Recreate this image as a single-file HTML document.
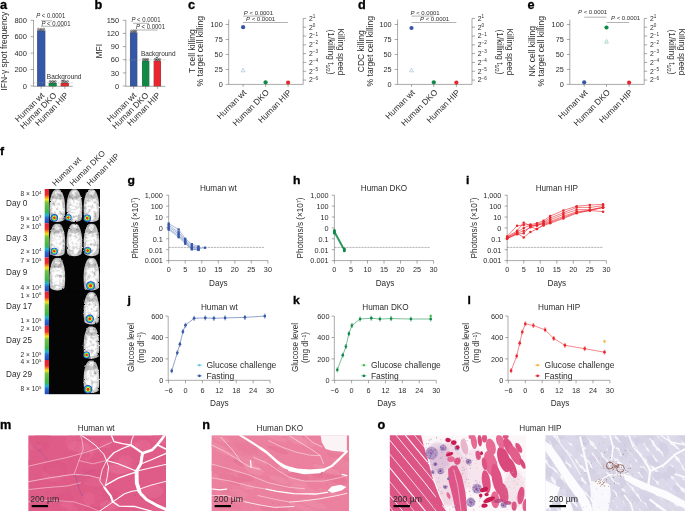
<!DOCTYPE html>
<html><head><meta charset="utf-8"><title>Figure</title>
<style>
html,body{margin:0;padding:0;background:#fff;}
body{width:685px;height:511px;overflow:hidden;font-family:"Liberation Sans",sans-serif;}
svg{display:block;font-family:"Liberation Sans",sans-serif;will-change:transform;}
</style></head><body>
<svg width="685" height="511" viewBox="0 0 685 511">
<rect width="685" height="511" fill="#fff"/>
<text transform="translate(0 9.2) scale(1.06 1)" font-size="12.0" text-anchor="start" fill="#000" font-weight="bold" stroke="#000" stroke-width="0.3">a</text>
<text transform="translate(7.0 51.2) rotate(-90)" font-size="8.5" text-anchor="middle" fill="#2d2d2d">IFN-&#947; spot frequency</text>
<line x1="30.5" y1="20.3" x2="33.5" y2="20.3" stroke="#555" stroke-width="0.5"/>
<text transform="translate(26.9 22.900000000000002)" font-size="7.5" text-anchor="end" fill="#2d2d2d">800</text>
<line x1="30.5" y1="36.7" x2="33.5" y2="36.7" stroke="#555" stroke-width="0.5"/>
<text transform="translate(26.9 39.300000000000004)" font-size="7.5" text-anchor="end" fill="#2d2d2d">600</text>
<line x1="30.5" y1="53.1" x2="33.5" y2="53.1" stroke="#555" stroke-width="0.5"/>
<text transform="translate(26.9 55.7)" font-size="7.5" text-anchor="end" fill="#2d2d2d">400</text>
<line x1="30.5" y1="69.5" x2="33.5" y2="69.5" stroke="#555" stroke-width="0.5"/>
<text transform="translate(26.9 72.1)" font-size="7.5" text-anchor="end" fill="#2d2d2d">200</text>
<line x1="30.5" y1="86" x2="33.5" y2="86" stroke="#555" stroke-width="0.5"/>
<text transform="translate(26.9 88.6)" font-size="7.5" text-anchor="end" fill="#2d2d2d">0</text>
<line x1="33.5" y1="20" x2="33.5" y2="86.3" stroke="#555" stroke-width="0.5"/>
<line x1="33.5" y1="86.3" x2="72.7" y2="86.3" stroke="#555" stroke-width="0.5"/>
<rect x="37.2" y="30.8" width="7.899999999999999" height="55.3" fill="#3557a7" stroke="#2a2a2a" stroke-width="0.25"/>
<line x1="41.150000000000006" y1="86.3" x2="41.150000000000006" y2="88.8" stroke="#555" stroke-width="0.5"/>
<rect x="48.9" y="83" width="7.700000000000003" height="3.0999999999999943" fill="#0e8a46" stroke="#2a2a2a" stroke-width="0.25"/>
<line x1="52.75" y1="86.3" x2="52.75" y2="88.8" stroke="#555" stroke-width="0.5"/>
<rect x="60.9" y="83" width="7.899999999999999" height="3.0999999999999943" fill="#e8262d" stroke="#2a2a2a" stroke-width="0.25"/>
<line x1="64.85" y1="86.3" x2="64.85" y2="88.8" stroke="#555" stroke-width="0.5"/>
<line x1="33.5" y1="82.8" x2="72.7" y2="82.8" stroke="#999" stroke-width="0.5" stroke-dasharray="1.5 1.2"/>
<circle cx="38.40" cy="29.10" r="0.9" fill="none" stroke="#222" stroke-width="0.5"/>
<circle cx="39.78" cy="30.00" r="0.9" fill="none" stroke="#222" stroke-width="0.5"/>
<circle cx="41.15" cy="29.10" r="0.9" fill="none" stroke="#222" stroke-width="0.5"/>
<circle cx="42.53" cy="30.00" r="0.9" fill="none" stroke="#222" stroke-width="0.5"/>
<circle cx="43.90" cy="29.10" r="0.9" fill="none" stroke="#222" stroke-width="0.5"/>
<circle cx="50.10" cy="81.30" r="0.9" fill="none" stroke="#222" stroke-width="0.5"/>
<circle cx="51.43" cy="82.20" r="0.9" fill="none" stroke="#222" stroke-width="0.5"/>
<circle cx="52.75" cy="81.30" r="0.9" fill="none" stroke="#222" stroke-width="0.5"/>
<circle cx="54.08" cy="82.20" r="0.9" fill="none" stroke="#222" stroke-width="0.5"/>
<circle cx="55.40" cy="81.30" r="0.9" fill="none" stroke="#222" stroke-width="0.5"/>
<circle cx="62.10" cy="81.30" r="0.9" fill="none" stroke="#222" stroke-width="0.5"/>
<circle cx="63.48" cy="82.20" r="0.9" fill="none" stroke="#222" stroke-width="0.5"/>
<circle cx="64.85" cy="81.30" r="0.9" fill="none" stroke="#222" stroke-width="0.5"/>
<circle cx="66.22" cy="82.20" r="0.9" fill="none" stroke="#222" stroke-width="0.5"/>
<circle cx="67.60" cy="81.30" r="0.9" fill="none" stroke="#222" stroke-width="0.5"/>
<text transform="translate(46.8 79.3)" font-size="6.5" text-anchor="start" fill="#2d2d2d">Background</text>
<line x1="41.2" y1="20.8" x2="52.1" y2="20.8" stroke="#666" stroke-width="0.5"/>
<line x1="41.2" y1="26.3" x2="64.4" y2="26.3" stroke="#666" stroke-width="0.5"/>
<text transform="translate(36.2 18) scale(0.88 1)" font-size="6.8" text-anchor="start" fill="#2d2d2d"><tspan font-style="italic">P</tspan> &lt; 0.0001</text>
<text transform="translate(41.4 25.9) scale(0.88 1)" font-size="6.8" text-anchor="start" fill="#2d2d2d"><tspan font-style="italic">P</tspan> &lt; 0.0001</text>
<text transform="translate(45 95.9) rotate(-45)" font-size="8.4" text-anchor="end" fill="#2d2d2d">Human wt</text>
<text transform="translate(57 95.9) rotate(-45)" font-size="8.4" text-anchor="end" fill="#2d2d2d">Human DKO</text>
<text transform="translate(69 95.9) rotate(-45)" font-size="8.4" text-anchor="end" fill="#2d2d2d">Human HIP</text>
<text transform="translate(94.5 9.2) scale(1.06 1)" font-size="12.0" text-anchor="start" fill="#000" font-weight="bold" stroke="#000" stroke-width="0.3">b</text>
<text transform="translate(102.0 51.2) rotate(-90)" font-size="8.5" text-anchor="middle" fill="#2d2d2d">MFI</text>
<line x1="122.8" y1="20.3" x2="125.8" y2="20.3" stroke="#555" stroke-width="0.5"/>
<text transform="translate(119.2 22.900000000000002)" font-size="7.5" text-anchor="end" fill="#2d2d2d">150</text>
<line x1="122.8" y1="33.4" x2="125.8" y2="33.4" stroke="#555" stroke-width="0.5"/>
<text transform="translate(119.2 36.0)" font-size="7.5" text-anchor="end" fill="#2d2d2d">120</text>
<line x1="122.8" y1="46.6" x2="125.8" y2="46.6" stroke="#555" stroke-width="0.5"/>
<text transform="translate(119.2 49.2)" font-size="7.5" text-anchor="end" fill="#2d2d2d">90</text>
<line x1="122.8" y1="59.7" x2="125.8" y2="59.7" stroke="#555" stroke-width="0.5"/>
<text transform="translate(119.2 62.300000000000004)" font-size="7.5" text-anchor="end" fill="#2d2d2d">60</text>
<line x1="122.8" y1="72.9" x2="125.8" y2="72.9" stroke="#555" stroke-width="0.5"/>
<text transform="translate(119.2 75.5)" font-size="7.5" text-anchor="end" fill="#2d2d2d">30</text>
<line x1="122.8" y1="86" x2="125.8" y2="86" stroke="#555" stroke-width="0.5"/>
<text transform="translate(119.2 88.6)" font-size="7.5" text-anchor="end" fill="#2d2d2d">0</text>
<line x1="125.8" y1="20" x2="125.8" y2="86.3" stroke="#555" stroke-width="0.5"/>
<line x1="125.8" y1="86.3" x2="165.2" y2="86.3" stroke="#555" stroke-width="0.5"/>
<rect x="130.1" y="32.6" width="7.0" height="53.49999999999999" fill="#3557a7" stroke="#2a2a2a" stroke-width="0.25"/>
<line x1="133.6" y1="86.3" x2="133.6" y2="88.8" stroke="#555" stroke-width="0.5"/>
<rect x="142.1" y="60.9" width="7.0" height="25.199999999999996" fill="#0e8a46" stroke="#2a2a2a" stroke-width="0.25"/>
<line x1="145.6" y1="86.3" x2="145.6" y2="88.8" stroke="#555" stroke-width="0.5"/>
<rect x="153.9" y="60.9" width="7.0" height="25.199999999999996" fill="#e8262d" stroke="#2a2a2a" stroke-width="0.25"/>
<line x1="157.4" y1="86.3" x2="157.4" y2="88.8" stroke="#555" stroke-width="0.5"/>
<line x1="125.8" y1="59.9" x2="165.2" y2="59.9" stroke="#999" stroke-width="0.5" stroke-dasharray="1.5 1.2"/>
<circle cx="131.30" cy="30.90" r="0.9" fill="none" stroke="#222" stroke-width="0.5"/>
<circle cx="132.45" cy="31.80" r="0.9" fill="none" stroke="#222" stroke-width="0.5"/>
<circle cx="133.60" cy="30.90" r="0.9" fill="none" stroke="#222" stroke-width="0.5"/>
<circle cx="134.75" cy="31.80" r="0.9" fill="none" stroke="#222" stroke-width="0.5"/>
<circle cx="135.90" cy="30.90" r="0.9" fill="none" stroke="#222" stroke-width="0.5"/>
<circle cx="143.30" cy="59.20" r="0.9" fill="none" stroke="#222" stroke-width="0.5"/>
<circle cx="144.45" cy="60.10" r="0.9" fill="none" stroke="#222" stroke-width="0.5"/>
<circle cx="145.60" cy="59.20" r="0.9" fill="none" stroke="#222" stroke-width="0.5"/>
<circle cx="146.75" cy="60.10" r="0.9" fill="none" stroke="#222" stroke-width="0.5"/>
<circle cx="147.90" cy="59.20" r="0.9" fill="none" stroke="#222" stroke-width="0.5"/>
<circle cx="155.10" cy="59.20" r="0.9" fill="none" stroke="#222" stroke-width="0.5"/>
<circle cx="156.25" cy="60.10" r="0.9" fill="none" stroke="#222" stroke-width="0.5"/>
<circle cx="157.40" cy="59.20" r="0.9" fill="none" stroke="#222" stroke-width="0.5"/>
<circle cx="158.55" cy="60.10" r="0.9" fill="none" stroke="#222" stroke-width="0.5"/>
<circle cx="159.70" cy="59.20" r="0.9" fill="none" stroke="#222" stroke-width="0.5"/>
<text transform="translate(140.9 56.2)" font-size="6.5" text-anchor="start" fill="#2d2d2d">Background</text>
<line x1="133" y1="23.3" x2="149" y2="23.3" stroke="#666" stroke-width="0.5"/>
<line x1="133" y1="30" x2="157.7" y2="30" stroke="#666" stroke-width="0.5"/>
<text transform="translate(131.4 21.5) scale(0.88 1)" font-size="6.8" text-anchor="start" fill="#2d2d2d"><tspan font-style="italic">P</tspan> &lt; 0.0001</text>
<text transform="translate(135.9 28.9) scale(0.88 1)" font-size="6.8" text-anchor="start" fill="#2d2d2d"><tspan font-style="italic">P</tspan> &lt; 0.0001</text>
<text transform="translate(137 95.9) rotate(-45)" font-size="8.4" text-anchor="end" fill="#2d2d2d">Human wt</text>
<text transform="translate(149 95.9) rotate(-45)" font-size="8.4" text-anchor="end" fill="#2d2d2d">Human DKO</text>
<text transform="translate(161 95.9) rotate(-45)" font-size="8.4" text-anchor="end" fill="#2d2d2d">Human HIP</text>
<text transform="translate(188 9.2) scale(1.06 1)" font-size="12.0" text-anchor="start" fill="#000" font-weight="bold" stroke="#000" stroke-width="0.3">c</text>
<text transform="translate(194.9 51.2) rotate(-90)" font-size="8.5" text-anchor="middle" fill="#2d2d2d">T cell killing</text>
<text transform="translate(203.0 51.2) rotate(-90)" font-size="8.5" text-anchor="middle" fill="#2d2d2d">% target cell killing</text>
<line x1="225.7" y1="24.5" x2="228.7" y2="24.5" stroke="#555" stroke-width="0.5"/>
<text transform="translate(222.7 27.1)" font-size="7.3" text-anchor="end" fill="#2d2d2d">100</text>
<line x1="225.7" y1="39.475" x2="228.7" y2="39.475" stroke="#555" stroke-width="0.5"/>
<text transform="translate(222.7 42.075)" font-size="7.3" text-anchor="end" fill="#2d2d2d">75</text>
<line x1="225.7" y1="54.45" x2="228.7" y2="54.45" stroke="#555" stroke-width="0.5"/>
<text transform="translate(222.7 57.050000000000004)" font-size="7.3" text-anchor="end" fill="#2d2d2d">50</text>
<line x1="225.7" y1="69.42500000000001" x2="228.7" y2="69.42500000000001" stroke="#555" stroke-width="0.5"/>
<text transform="translate(222.7 72.025)" font-size="7.3" text-anchor="end" fill="#2d2d2d">25</text>
<line x1="225.7" y1="84.4" x2="228.7" y2="84.4" stroke="#555" stroke-width="0.5"/>
<text transform="translate(222.7 87.0)" font-size="7.3" text-anchor="end" fill="#2d2d2d">0</text>
<line x1="228.7" y1="19.5" x2="228.7" y2="84.4" stroke="#555" stroke-width="0.5"/>
<line x1="228.7" y1="84.4" x2="303.2" y2="84.4" stroke="#555" stroke-width="0.5"/>
<line x1="303.2" y1="18.4" x2="303.2" y2="84.4" stroke="#555" stroke-width="0.5"/>
<line x1="303.2" y1="18.4" x2="306.2" y2="18.4" stroke="#555" stroke-width="0.5"/>
<text x="309.0" y="20.80" font-size="6.8" fill="#2d2d2d">2<tspan dy="-2.9" font-size="4.6">1</tspan></text>
<line x1="303.2" y1="27.21" x2="306.2" y2="27.21" stroke="#555" stroke-width="0.5"/>
<text x="309.0" y="29.61" font-size="6.8" fill="#2d2d2d">2<tspan dy="-2.9" font-size="4.6">0</tspan></text>
<line x1="303.2" y1="36.019999999999996" x2="306.2" y2="36.019999999999996" stroke="#555" stroke-width="0.5"/>
<text x="309.0" y="38.42" font-size="6.8" fill="#2d2d2d">2<tspan dy="-2.9" font-size="4.6">&#8722;1</tspan></text>
<line x1="303.2" y1="44.83" x2="306.2" y2="44.83" stroke="#555" stroke-width="0.5"/>
<text x="309.0" y="47.23" font-size="6.8" fill="#2d2d2d">2<tspan dy="-2.9" font-size="4.6">&#8722;2</tspan></text>
<line x1="303.2" y1="53.64" x2="306.2" y2="53.64" stroke="#555" stroke-width="0.5"/>
<text x="309.0" y="56.04" font-size="6.8" fill="#2d2d2d">2<tspan dy="-2.9" font-size="4.6">&#8722;3</tspan></text>
<line x1="303.2" y1="62.45" x2="306.2" y2="62.45" stroke="#555" stroke-width="0.5"/>
<text x="309.0" y="64.85" font-size="6.8" fill="#2d2d2d">2<tspan dy="-2.9" font-size="4.6">&#8722;4</tspan></text>
<line x1="303.2" y1="71.25999999999999" x2="306.2" y2="71.25999999999999" stroke="#555" stroke-width="0.5"/>
<text x="309.0" y="73.66" font-size="6.8" fill="#2d2d2d">2<tspan dy="-2.9" font-size="4.6">&#8722;5</tspan></text>
<line x1="303.2" y1="80.07" x2="306.2" y2="80.07" stroke="#555" stroke-width="0.5"/>
<text x="309.0" y="82.47" font-size="6.8" fill="#2d2d2d">2<tspan dy="-2.9" font-size="4.6">&#8722;6</tspan></text>
<circle cx="243.1" cy="27.2" r="2.1" fill="#3557a7"/>
<line x1="243.1" y1="84.4" x2="243.1" y2="86.9" stroke="#555" stroke-width="0.5"/>
<circle cx="265.6" cy="82.3" r="2.1" fill="#0e8a46"/>
<line x1="265.6" y1="84.4" x2="265.6" y2="86.9" stroke="#555" stroke-width="0.5"/>
<circle cx="288.1" cy="82.6" r="2.1" fill="#e8262d"/>
<line x1="288.1" y1="84.4" x2="288.1" y2="86.9" stroke="#555" stroke-width="0.5"/>
<path d="M241.2,71.8 L245.0,71.8 L243.1,68.2 Z" fill="none" stroke="#7d9ad6" stroke-width="0.45"/>
<line x1="243" y1="16.1" x2="265.6" y2="16.1" stroke="#666" stroke-width="0.5"/>
<line x1="243" y1="22.5" x2="288" y2="22.5" stroke="#666" stroke-width="0.5"/>
<text transform="translate(243.8 14.6) scale(1.0 1)" font-size="6.0" text-anchor="start" fill="#2d2d2d"><tspan font-style="italic">P</tspan> &lt; 0.0001</text>
<text transform="translate(246 21) scale(1.0 1)" font-size="6.0" text-anchor="start" fill="#2d2d2d"><tspan font-style="italic">P</tspan> &lt; 0.0001</text>
<text transform="translate(247 93) rotate(-45)" font-size="8.4" text-anchor="end" fill="#2d2d2d">Human wt</text>
<text transform="translate(269.5 93) rotate(-45)" font-size="8.4" text-anchor="end" fill="#2d2d2d">Human DKO</text>
<text transform="translate(292 93) rotate(-45)" font-size="8.4" text-anchor="end" fill="#2d2d2d">Human HIP</text>
<text transform="translate(338 52) rotate(90)" font-size="8.25" text-anchor="middle" fill="#2d2d2d">Killing speed</text>
<text x="327.5" y="52" font-size="8.25" text-anchor="middle" fill="#2d2d2d" transform="rotate(90 327.5 52)">(1/killing t<tspan dy="1.8" font-size="5.2">1/2</tspan><tspan dy="-1.8">)</tspan></text>
<text transform="translate(358 9.2) scale(1.06 1)" font-size="12.0" text-anchor="start" fill="#000" font-weight="bold" stroke="#000" stroke-width="0.3">d</text>
<text transform="translate(364.4 51.2) rotate(-90)" font-size="8.5" text-anchor="middle" fill="#2d2d2d">CDC killing</text>
<text transform="translate(373.4 51.2) rotate(-90)" font-size="8.5" text-anchor="middle" fill="#2d2d2d">% target cell killing</text>
<line x1="394.6" y1="24.5" x2="397.6" y2="24.5" stroke="#555" stroke-width="0.5"/>
<text transform="translate(391.6 27.1)" font-size="7.3" text-anchor="end" fill="#2d2d2d">100</text>
<line x1="394.6" y1="39.475" x2="397.6" y2="39.475" stroke="#555" stroke-width="0.5"/>
<text transform="translate(391.6 42.075)" font-size="7.3" text-anchor="end" fill="#2d2d2d">75</text>
<line x1="394.6" y1="54.45" x2="397.6" y2="54.45" stroke="#555" stroke-width="0.5"/>
<text transform="translate(391.6 57.050000000000004)" font-size="7.3" text-anchor="end" fill="#2d2d2d">50</text>
<line x1="394.6" y1="69.42500000000001" x2="397.6" y2="69.42500000000001" stroke="#555" stroke-width="0.5"/>
<text transform="translate(391.6 72.025)" font-size="7.3" text-anchor="end" fill="#2d2d2d">25</text>
<line x1="394.6" y1="84.4" x2="397.6" y2="84.4" stroke="#555" stroke-width="0.5"/>
<text transform="translate(391.6 87.0)" font-size="7.3" text-anchor="end" fill="#2d2d2d">0</text>
<line x1="397.6" y1="19.5" x2="397.6" y2="84.4" stroke="#555" stroke-width="0.5"/>
<line x1="397.6" y1="84.4" x2="472" y2="84.4" stroke="#555" stroke-width="0.5"/>
<line x1="472" y1="18.4" x2="472" y2="84.4" stroke="#555" stroke-width="0.5"/>
<line x1="472" y1="18.4" x2="475" y2="18.4" stroke="#555" stroke-width="0.5"/>
<text x="477.8" y="20.80" font-size="6.8" fill="#2d2d2d">2<tspan dy="-2.9" font-size="4.6">1</tspan></text>
<line x1="472" y1="27.21" x2="475" y2="27.21" stroke="#555" stroke-width="0.5"/>
<text x="477.8" y="29.61" font-size="6.8" fill="#2d2d2d">2<tspan dy="-2.9" font-size="4.6">0</tspan></text>
<line x1="472" y1="36.019999999999996" x2="475" y2="36.019999999999996" stroke="#555" stroke-width="0.5"/>
<text x="477.8" y="38.42" font-size="6.8" fill="#2d2d2d">2<tspan dy="-2.9" font-size="4.6">&#8722;1</tspan></text>
<line x1="472" y1="44.83" x2="475" y2="44.83" stroke="#555" stroke-width="0.5"/>
<text x="477.8" y="47.23" font-size="6.8" fill="#2d2d2d">2<tspan dy="-2.9" font-size="4.6">&#8722;2</tspan></text>
<line x1="472" y1="53.64" x2="475" y2="53.64" stroke="#555" stroke-width="0.5"/>
<text x="477.8" y="56.04" font-size="6.8" fill="#2d2d2d">2<tspan dy="-2.9" font-size="4.6">&#8722;3</tspan></text>
<line x1="472" y1="62.45" x2="475" y2="62.45" stroke="#555" stroke-width="0.5"/>
<text x="477.8" y="64.85" font-size="6.8" fill="#2d2d2d">2<tspan dy="-2.9" font-size="4.6">&#8722;4</tspan></text>
<line x1="472" y1="71.25999999999999" x2="475" y2="71.25999999999999" stroke="#555" stroke-width="0.5"/>
<text x="477.8" y="73.66" font-size="6.8" fill="#2d2d2d">2<tspan dy="-2.9" font-size="4.6">&#8722;5</tspan></text>
<line x1="472" y1="80.07" x2="475" y2="80.07" stroke="#555" stroke-width="0.5"/>
<text x="477.8" y="82.47" font-size="6.8" fill="#2d2d2d">2<tspan dy="-2.9" font-size="4.6">&#8722;6</tspan></text>
<circle cx="411.5" cy="28" r="2.1" fill="#3557a7"/>
<line x1="411.5" y1="84.4" x2="411.5" y2="86.9" stroke="#555" stroke-width="0.5"/>
<circle cx="433.8" cy="82.3" r="2.1" fill="#0e8a46"/>
<line x1="433.8" y1="84.4" x2="433.8" y2="86.9" stroke="#555" stroke-width="0.5"/>
<circle cx="456.4" cy="82.6" r="2.1" fill="#e8262d"/>
<line x1="456.4" y1="84.4" x2="456.4" y2="86.9" stroke="#555" stroke-width="0.5"/>
<path d="M409.6,71.8 L413.4,71.8 L411.5,68.2 Z" fill="none" stroke="#7d9ad6" stroke-width="0.45"/>
<line x1="411.5" y1="16.1" x2="433.8" y2="16.1" stroke="#666" stroke-width="0.5"/>
<line x1="411.5" y1="22.5" x2="456.4" y2="22.5" stroke="#666" stroke-width="0.5"/>
<text transform="translate(410.5 14.6) scale(1.0 1)" font-size="6.0" text-anchor="start" fill="#2d2d2d"><tspan font-style="italic">P</tspan> &lt; 0.0001</text>
<text transform="translate(420 21) scale(1.0 1)" font-size="6.0" text-anchor="start" fill="#2d2d2d"><tspan font-style="italic">P</tspan> &lt; 0.0001</text>
<text transform="translate(415.5 93) rotate(-45)" font-size="8.4" text-anchor="end" fill="#2d2d2d">Human wt</text>
<text transform="translate(438 93) rotate(-45)" font-size="8.4" text-anchor="end" fill="#2d2d2d">Human DKO</text>
<text transform="translate(460.5 93) rotate(-45)" font-size="8.4" text-anchor="end" fill="#2d2d2d">Human HIP</text>
<text transform="translate(507 52) rotate(90)" font-size="8.25" text-anchor="middle" fill="#2d2d2d">Killing speed</text>
<text x="496.5" y="52" font-size="8.25" text-anchor="middle" fill="#2d2d2d" transform="rotate(90 496.5 52)">(1/killing t<tspan dy="1.8" font-size="5.2">1/2</tspan><tspan dy="-1.8">)</tspan></text>
<text transform="translate(527.6 9.2) scale(1.06 1)" font-size="12.0" text-anchor="start" fill="#000" font-weight="bold" stroke="#000" stroke-width="0.3">e</text>
<text transform="translate(535.1999999999999 51.2) rotate(-90)" font-size="8.5" text-anchor="middle" fill="#2d2d2d">NK cell killing</text>
<text transform="translate(544.3 51.2) rotate(-90)" font-size="8.5" text-anchor="middle" fill="#2d2d2d">% target cell killing</text>
<line x1="566.8" y1="24.5" x2="569.8" y2="24.5" stroke="#555" stroke-width="0.5"/>
<text transform="translate(563.8 27.1)" font-size="7.3" text-anchor="end" fill="#2d2d2d">100</text>
<line x1="566.8" y1="39.475" x2="569.8" y2="39.475" stroke="#555" stroke-width="0.5"/>
<text transform="translate(563.8 42.075)" font-size="7.3" text-anchor="end" fill="#2d2d2d">75</text>
<line x1="566.8" y1="54.45" x2="569.8" y2="54.45" stroke="#555" stroke-width="0.5"/>
<text transform="translate(563.8 57.050000000000004)" font-size="7.3" text-anchor="end" fill="#2d2d2d">50</text>
<line x1="566.8" y1="69.42500000000001" x2="569.8" y2="69.42500000000001" stroke="#555" stroke-width="0.5"/>
<text transform="translate(563.8 72.025)" font-size="7.3" text-anchor="end" fill="#2d2d2d">25</text>
<line x1="566.8" y1="84.4" x2="569.8" y2="84.4" stroke="#555" stroke-width="0.5"/>
<text transform="translate(563.8 87.0)" font-size="7.3" text-anchor="end" fill="#2d2d2d">0</text>
<line x1="569.8" y1="19.5" x2="569.8" y2="84.4" stroke="#555" stroke-width="0.5"/>
<line x1="569.8" y1="84.4" x2="644.2" y2="84.4" stroke="#555" stroke-width="0.5"/>
<line x1="644.2" y1="18.4" x2="644.2" y2="84.4" stroke="#555" stroke-width="0.5"/>
<line x1="644.2" y1="18.4" x2="647.2" y2="18.4" stroke="#555" stroke-width="0.5"/>
<text x="650.0" y="20.80" font-size="6.8" fill="#2d2d2d">2<tspan dy="-2.9" font-size="4.6">1</tspan></text>
<line x1="644.2" y1="27.21" x2="647.2" y2="27.21" stroke="#555" stroke-width="0.5"/>
<text x="650.0" y="29.61" font-size="6.8" fill="#2d2d2d">2<tspan dy="-2.9" font-size="4.6">0</tspan></text>
<line x1="644.2" y1="36.019999999999996" x2="647.2" y2="36.019999999999996" stroke="#555" stroke-width="0.5"/>
<text x="650.0" y="38.42" font-size="6.8" fill="#2d2d2d">2<tspan dy="-2.9" font-size="4.6">&#8722;1</tspan></text>
<line x1="644.2" y1="44.83" x2="647.2" y2="44.83" stroke="#555" stroke-width="0.5"/>
<text x="650.0" y="47.23" font-size="6.8" fill="#2d2d2d">2<tspan dy="-2.9" font-size="4.6">&#8722;2</tspan></text>
<line x1="644.2" y1="53.64" x2="647.2" y2="53.64" stroke="#555" stroke-width="0.5"/>
<text x="650.0" y="56.04" font-size="6.8" fill="#2d2d2d">2<tspan dy="-2.9" font-size="4.6">&#8722;3</tspan></text>
<line x1="644.2" y1="62.45" x2="647.2" y2="62.45" stroke="#555" stroke-width="0.5"/>
<text x="650.0" y="64.85" font-size="6.8" fill="#2d2d2d">2<tspan dy="-2.9" font-size="4.6">&#8722;4</tspan></text>
<line x1="644.2" y1="71.25999999999999" x2="647.2" y2="71.25999999999999" stroke="#555" stroke-width="0.5"/>
<text x="650.0" y="73.66" font-size="6.8" fill="#2d2d2d">2<tspan dy="-2.9" font-size="4.6">&#8722;5</tspan></text>
<line x1="644.2" y1="80.07" x2="647.2" y2="80.07" stroke="#555" stroke-width="0.5"/>
<text x="650.0" y="82.47" font-size="6.8" fill="#2d2d2d">2<tspan dy="-2.9" font-size="4.6">&#8722;6</tspan></text>
<circle cx="584.2" cy="82.3" r="2.1" fill="#3557a7"/>
<line x1="584.2" y1="84.4" x2="584.2" y2="86.9" stroke="#555" stroke-width="0.5"/>
<circle cx="606.5" cy="27.5" r="2.1" fill="#0e8a46"/>
<line x1="606.5" y1="84.4" x2="606.5" y2="86.9" stroke="#555" stroke-width="0.5"/>
<circle cx="629.1" cy="82.6" r="2.1" fill="#e8262d"/>
<line x1="629.1" y1="84.4" x2="629.1" y2="86.9" stroke="#555" stroke-width="0.5"/>
<path d="M604.6,43.1 L608.4,43.1 L606.5,39.5 Z" fill="none" stroke="#4db37e" stroke-width="0.45"/>
<line x1="584.2" y1="17.2" x2="606.5" y2="17.2" stroke="#666" stroke-width="0.5"/>
<line x1="606.5" y1="22.5" x2="629.1" y2="22.5" stroke="#666" stroke-width="0.5"/>
<text transform="translate(578 14.2) scale(1.0 1)" font-size="6.0" text-anchor="start" fill="#2d2d2d"><tspan font-style="italic">P</tspan> &lt; 0.0001</text>
<text transform="translate(611 20.3) scale(1.0 1)" font-size="6.0" text-anchor="start" fill="#2d2d2d"><tspan font-style="italic">P</tspan> &lt; 0.0001</text>
<text transform="translate(588.2 93) rotate(-45)" font-size="8.4" text-anchor="end" fill="#2d2d2d">Human wt</text>
<text transform="translate(610.7 93) rotate(-45)" font-size="8.4" text-anchor="end" fill="#2d2d2d">Human DKO</text>
<text transform="translate(633.2 93) rotate(-45)" font-size="8.4" text-anchor="end" fill="#2d2d2d">Human HIP</text>
<text transform="translate(679.2 52) rotate(90)" font-size="8.25" text-anchor="middle" fill="#2d2d2d">Killing speed</text>
<text x="669" y="52" font-size="8.25" text-anchor="middle" fill="#2d2d2d" transform="rotate(90 669 52)">(1/killing t<tspan dy="1.8" font-size="5.2">1/2</tspan><tspan dy="-1.8">)</tspan></text>
<defs>
<linearGradient id="cbar" x1="0" y1="0" x2="0" y2="1">
<stop offset="0" stop-color="#e61f3a"/><stop offset="0.17" stop-color="#ec2c2c"/>
<stop offset="0.24" stop-color="#f68b1f"/><stop offset="0.31" stop-color="#f0e21a"/>
<stop offset="0.40" stop-color="#74c043"/><stop offset="0.66" stop-color="#3bb54a"/>
<stop offset="0.76" stop-color="#22b4d8"/><stop offset="0.85" stop-color="#2a68cf"/>
<stop offset="1" stop-color="#2548b8"/>
</linearGradient>
<radialGradient id="mouseg" cx="0.5" cy="0.55" r="0.66">
<stop offset="0" stop-color="#ffffff"/><stop offset="0.5" stop-color="#ececec"/>
<stop offset="0.8" stop-color="#c4c4c4"/><stop offset="1" stop-color="#7a7a7a"/>
</radialGradient>
<radialGradient id="hot" cx="0.5" cy="0.5" r="0.5">
<stop offset="0" stop-color="#e8202a"/><stop offset="0.26" stop-color="#ee3a24"/>
<stop offset="0.44" stop-color="#f3e616"/><stop offset="0.60" stop-color="#4fc04a"/>
<stop offset="0.74" stop-color="#22c1dc"/><stop offset="0.86" stop-color="#2a55d0"/>
<stop offset="1" stop-color="#2a3fc0"/>
</radialGradient>
<filter id="mtex0" x="-10%" y="-10%" width="120%" height="120%">
<feGaussianBlur in="SourceGraphic" stdDeviation="0.5" result="b"/>
<feTurbulence type="fractalNoise" baseFrequency="0.32" numOctaves="2" seed="3" result="n"/>
<feDisplacementMap in="b" in2="n" scale="2.2" xChannelSelector="R" yChannelSelector="G" result="d"/>
<feColorMatrix in="n" type="matrix" values="0 0 0 0 0  0 0 0 0 0  0 0 0 0 0  1.3 0 0 0 -0.56" result="na"/>
<feComposite in="na" in2="d" operator="in" result="shade"/>
<feMerge><feMergeNode in="d"/><feMergeNode in="shade"/></feMerge>
</filter>
<filter id="mtex1" x="-10%" y="-10%" width="120%" height="120%">
<feGaussianBlur in="SourceGraphic" stdDeviation="0.5" result="b"/>
<feTurbulence type="fractalNoise" baseFrequency="0.32" numOctaves="2" seed="8" result="n"/>
<feDisplacementMap in="b" in2="n" scale="2.2" xChannelSelector="R" yChannelSelector="G" result="d"/>
<feColorMatrix in="n" type="matrix" values="0 0 0 0 0  0 0 0 0 0  0 0 0 0 0  1.3 0 0 0 -0.56" result="na"/>
<feComposite in="na" in2="d" operator="in" result="shade"/>
<feMerge><feMergeNode in="d"/><feMergeNode in="shade"/></feMerge>
</filter>
<filter id="mtex2" x="-10%" y="-10%" width="120%" height="120%">
<feGaussianBlur in="SourceGraphic" stdDeviation="0.5" result="b"/>
<feTurbulence type="fractalNoise" baseFrequency="0.32" numOctaves="2" seed="14" result="n"/>
<feDisplacementMap in="b" in2="n" scale="2.2" xChannelSelector="R" yChannelSelector="G" result="d"/>
<feColorMatrix in="n" type="matrix" values="0 0 0 0 0  0 0 0 0 0  0 0 0 0 0  1.3 0 0 0 -0.56" result="na"/>
<feComposite in="na" in2="d" operator="in" result="shade"/>
<feMerge><feMergeNode in="d"/><feMergeNode in="shade"/></feMerge>
</filter>
<filter id="mblur" x="-10%" y="-10%" width="120%" height="120%"><feGaussianBlur stdDeviation="0.55"/></filter>
<filter id="hblur" x="-20%" y="-20%" width="140%" height="140%"><feGaussianBlur stdDeviation="0.3"/></filter>
</defs>
<text transform="translate(0 155.2) scale(1.06 1)" font-size="11.5" font-weight="bold" fill="#000" stroke="#000" stroke-width="0.3">f</text>
<rect x="48.8" y="189.0" width="51.2" height="205.2" fill="#050505"/>
<rect x="44.7" y="189.00" width="4.3" height="34.20" fill="url(#cbar)"/>
<rect x="44.7" y="223.20" width="4.3" height="34.20" fill="url(#cbar)"/>
<rect x="44.7" y="257.40" width="4.3" height="34.20" fill="url(#cbar)"/>
<rect x="44.7" y="291.60" width="4.3" height="34.20" fill="url(#cbar)"/>
<rect x="44.7" y="325.80" width="4.3" height="34.20" fill="url(#cbar)"/>
<rect x="44.7" y="360.00" width="4.3" height="34.20" fill="url(#cbar)"/>
<clipPath id="cf"><rect x="48.8" y="189.0" width="51.2" height="205.2"/></clipPath><g clip-path="url(#cf)">
<g filter="url(#mtex0)">
<path d="M54.73,189.80 C56.13,189.20 58.53,189.20 59.93,189.80 C61.93,191.00 62.93,194.00 64.23,198.50 C65.43,204.00 65.43,214.00 64.43,219.50 C62.33,222.80 52.33,222.80 50.23,219.50 C49.23,214.00 49.23,204.00 50.43,198.50 C51.73,194.00 52.73,191.00 54.73,189.80 Z" fill="url(#mouseg)"/>
<ellipse cx="57.33" cy="209.00" rx="5.4" ry="11" fill="#fff" opacity="0.9"/>
<ellipse cx="57.33" cy="196.50" rx="5.0" ry="3.0" fill="#8c8c8c" opacity="0.4"/>
<ellipse cx="57.33" cy="193.20" rx="2.4" ry="2.6" fill="#fff" opacity="0.7"/>
</g>
<g filter="url(#mtex1)">
<path d="M71.80,189.80 C73.20,189.20 75.60,189.20 77.00,189.80 C79.00,191.00 80.00,194.00 81.30,198.50 C82.50,204.00 82.50,214.00 81.50,219.50 C79.40,222.80 69.40,222.80 67.30,219.50 C66.30,214.00 66.30,204.00 67.50,198.50 C68.80,194.00 69.80,191.00 71.80,189.80 Z" fill="url(#mouseg)"/>
<ellipse cx="74.40" cy="209.00" rx="5.4" ry="11" fill="#fff" opacity="0.9"/>
<ellipse cx="74.40" cy="196.50" rx="5.0" ry="3.0" fill="#8c8c8c" opacity="0.4"/>
<ellipse cx="74.40" cy="193.20" rx="2.4" ry="2.6" fill="#fff" opacity="0.7"/>
</g>
<g filter="url(#mtex2)">
<path d="M88.87,189.80 C90.27,189.20 92.67,189.20 94.07,189.80 C96.07,191.00 97.07,194.00 98.37,198.50 C99.57,204.00 99.57,214.00 98.57,219.50 C96.47,222.80 86.47,222.80 84.37,219.50 C83.37,214.00 83.37,204.00 84.57,198.50 C85.87,194.00 86.87,191.00 88.87,189.80 Z" fill="url(#mouseg)"/>
<ellipse cx="91.47" cy="209.00" rx="5.4" ry="11" fill="#fff" opacity="0.9"/>
<ellipse cx="91.47" cy="196.50" rx="5.0" ry="3.0" fill="#8c8c8c" opacity="0.4"/>
<ellipse cx="91.47" cy="193.20" rx="2.4" ry="2.6" fill="#fff" opacity="0.7"/>
</g>
<g filter="url(#mtex0)">
<path d="M54.73,224.00 C56.13,223.40 58.53,223.40 59.93,224.00 C61.93,225.20 62.93,228.20 64.23,232.70 C65.43,238.20 65.43,248.20 64.43,253.70 C62.33,257.00 52.33,257.00 50.23,253.70 C49.23,248.20 49.23,238.20 50.43,232.70 C51.73,228.20 52.73,225.20 54.73,224.00 Z" fill="url(#mouseg)"/>
<ellipse cx="57.33" cy="243.20" rx="5.4" ry="11" fill="#fff" opacity="0.9"/>
<ellipse cx="57.33" cy="230.70" rx="5.0" ry="3.0" fill="#8c8c8c" opacity="0.4"/>
<ellipse cx="57.33" cy="227.40" rx="2.4" ry="2.6" fill="#fff" opacity="0.7"/>
</g>
<g filter="url(#mtex1)">
<path d="M71.80,224.00 C73.20,223.40 75.60,223.40 77.00,224.00 C79.00,225.20 80.00,228.20 81.30,232.70 C82.50,238.20 82.50,248.20 81.50,253.70 C79.40,257.00 69.40,257.00 67.30,253.70 C66.30,248.20 66.30,238.20 67.50,232.70 C68.80,228.20 69.80,225.20 71.80,224.00 Z" fill="url(#mouseg)"/>
<ellipse cx="74.40" cy="243.20" rx="5.4" ry="11" fill="#fff" opacity="0.9"/>
<ellipse cx="74.40" cy="230.70" rx="5.0" ry="3.0" fill="#8c8c8c" opacity="0.4"/>
<ellipse cx="74.40" cy="227.40" rx="2.4" ry="2.6" fill="#fff" opacity="0.7"/>
</g>
<g filter="url(#mtex2)">
<path d="M88.87,224.00 C90.27,223.40 92.67,223.40 94.07,224.00 C96.07,225.20 97.07,228.20 98.37,232.70 C99.57,238.20 99.57,248.20 98.57,253.70 C96.47,257.00 86.47,257.00 84.37,253.70 C83.37,248.20 83.37,238.20 84.57,232.70 C85.87,228.20 86.87,225.20 88.87,224.00 Z" fill="url(#mouseg)"/>
<ellipse cx="91.47" cy="243.20" rx="5.4" ry="11" fill="#fff" opacity="0.9"/>
<ellipse cx="91.47" cy="230.70" rx="5.0" ry="3.0" fill="#8c8c8c" opacity="0.4"/>
<ellipse cx="91.47" cy="227.40" rx="2.4" ry="2.6" fill="#fff" opacity="0.7"/>
</g>
<g filter="url(#mtex0)">
<path d="M54.73,258.20 C56.13,257.60 58.53,257.60 59.93,258.20 C61.93,259.40 62.93,262.40 64.23,266.90 C65.43,272.40 65.43,282.40 64.43,287.90 C62.33,291.20 52.33,291.20 50.23,287.90 C49.23,282.40 49.23,272.40 50.43,266.90 C51.73,262.40 52.73,259.40 54.73,258.20 Z" fill="url(#mouseg)"/>
<ellipse cx="57.33" cy="277.40" rx="5.4" ry="11" fill="#fff" opacity="0.9"/>
<ellipse cx="57.33" cy="264.90" rx="5.0" ry="3.0" fill="#8c8c8c" opacity="0.4"/>
<ellipse cx="57.33" cy="261.60" rx="2.4" ry="2.6" fill="#fff" opacity="0.7"/>
</g>
<g filter="url(#mtex2)">
<path d="M88.87,258.20 C90.27,257.60 92.67,257.60 94.07,258.20 C96.07,259.40 97.07,262.40 98.37,266.90 C99.57,272.40 99.57,282.40 98.57,287.90 C96.47,291.20 86.47,291.20 84.37,287.90 C83.37,282.40 83.37,272.40 84.57,266.90 C85.87,262.40 86.87,259.40 88.87,258.20 Z" fill="url(#mouseg)"/>
<ellipse cx="91.47" cy="277.40" rx="5.4" ry="11" fill="#fff" opacity="0.9"/>
<ellipse cx="91.47" cy="264.90" rx="5.0" ry="3.0" fill="#8c8c8c" opacity="0.4"/>
<ellipse cx="91.47" cy="261.60" rx="2.4" ry="2.6" fill="#fff" opacity="0.7"/>
</g>
<g filter="url(#mtex2)">
<path d="M88.87,292.40 C90.27,291.80 92.67,291.80 94.07,292.40 C96.07,293.60 97.07,296.60 98.37,301.10 C99.57,306.60 99.57,316.60 98.57,322.10 C96.47,325.40 86.47,325.40 84.37,322.10 C83.37,316.60 83.37,306.60 84.57,301.10 C85.87,296.60 86.87,293.60 88.87,292.40 Z" fill="url(#mouseg)"/>
<ellipse cx="91.47" cy="311.60" rx="5.4" ry="11" fill="#fff" opacity="0.9"/>
<ellipse cx="91.47" cy="299.10" rx="5.0" ry="3.0" fill="#8c8c8c" opacity="0.4"/>
<ellipse cx="91.47" cy="295.80" rx="2.4" ry="2.6" fill="#fff" opacity="0.7"/>
</g>
<g filter="url(#mtex2)">
<path d="M88.87,326.60 C90.27,326.00 92.67,326.00 94.07,326.60 C96.07,327.80 97.07,330.80 98.37,335.30 C99.57,340.80 99.57,350.80 98.57,356.30 C96.47,359.60 86.47,359.60 84.37,356.30 C83.37,350.80 83.37,340.80 84.57,335.30 C85.87,330.80 86.87,327.80 88.87,326.60 Z" fill="url(#mouseg)"/>
<ellipse cx="91.47" cy="345.80" rx="5.4" ry="11" fill="#fff" opacity="0.9"/>
<ellipse cx="91.47" cy="333.30" rx="5.0" ry="3.0" fill="#8c8c8c" opacity="0.4"/>
<ellipse cx="91.47" cy="330.00" rx="2.4" ry="2.6" fill="#fff" opacity="0.7"/>
</g>
<g filter="url(#mtex2)">
<path d="M88.87,360.80 C90.27,360.20 92.67,360.20 94.07,360.80 C96.07,362.00 97.07,365.00 98.37,369.50 C99.57,375.00 99.57,385.00 98.57,390.50 C96.47,393.80 86.47,393.80 84.37,390.50 C83.37,385.00 83.37,375.00 84.57,369.50 C85.87,365.00 86.87,362.00 88.87,360.80 Z" fill="url(#mouseg)"/>
<ellipse cx="91.47" cy="380.00" rx="5.4" ry="11" fill="#fff" opacity="0.9"/>
<ellipse cx="91.47" cy="367.50" rx="5.0" ry="3.0" fill="#8c8c8c" opacity="0.4"/>
<ellipse cx="91.47" cy="364.20" rx="2.4" ry="2.6" fill="#fff" opacity="0.7"/>
</g>
<rect x="48.8" y="222.70" width="51.2" height="1" fill="#050505" opacity="0.8"/>
<rect x="48.8" y="256.90" width="51.2" height="1" fill="#050505" opacity="0.8"/>
<rect x="48.8" y="291.10" width="51.2" height="1" fill="#050505" opacity="0.8"/>
<rect x="48.8" y="325.30" width="51.2" height="1" fill="#050505" opacity="0.8"/>
<rect x="48.8" y="359.50" width="51.2" height="1" fill="#050505" opacity="0.8"/>
</g>
<circle cx="54.4" cy="217.8" r="3.7" fill="url(#hot)" filter="url(#hblur)"/>
<circle cx="68.3" cy="217.6" r="3.3" fill="url(#hot)" filter="url(#hblur)"/>
<circle cx="87.2" cy="218.2" r="3.8" fill="url(#hot)" filter="url(#hblur)"/>
<circle cx="54.3" cy="251.2" r="3.5" fill="url(#hot)" filter="url(#hblur)"/>
<circle cx="87.6" cy="250.6" r="3.7" fill="url(#hot)" filter="url(#hblur)"/>
<circle cx="90.6" cy="285.8" r="4.5" fill="url(#hot)" filter="url(#hblur)"/>
<circle cx="89.8" cy="318.8" r="4.2" fill="url(#hot)" filter="url(#hblur)"/>
<circle cx="86.6" cy="355" r="3.5" fill="url(#hot)" filter="url(#hblur)"/>
<circle cx="88" cy="389.3" r="4.2" fill="url(#hot)" filter="url(#hblur)"/>
<text transform="translate(41.5 196.3)" font-size="6.6" text-anchor="end" fill="#2d2d2d">8 &#215; 10<tspan dy="-2.5" font-size="4.4">4</tspan></text>
<text transform="translate(41.5 220.9)" font-size="6.6" text-anchor="end" fill="#2d2d2d">9 &#215; 10<tspan dy="-2.5" font-size="4.4">3</tspan></text>
<text transform="translate(6 206.4)" font-size="8.2" text-anchor="start" fill="#2d2d2d">Day 0</text>
<text transform="translate(41.5 228.6)" font-size="6.6" text-anchor="end" fill="#2d2d2d">2 &#215; 10<tspan dy="-2.5" font-size="4.4">5</tspan></text>
<text transform="translate(41.5 253.7)" font-size="6.6" text-anchor="end" fill="#2d2d2d">2 &#215; 10<tspan dy="-2.5" font-size="4.4">4</tspan></text>
<text transform="translate(6 240.5)" font-size="8.2" text-anchor="start" fill="#2d2d2d">Day 3</text>
<text transform="translate(41.5 263.1)" font-size="6.6" text-anchor="end" fill="#2d2d2d">7 &#215; 10<tspan dy="-2.5" font-size="4.4">5</tspan></text>
<text transform="translate(41.5 290.1)" font-size="6.6" text-anchor="end" fill="#2d2d2d">4 &#215; 10<tspan dy="-2.5" font-size="4.4">4</tspan></text>
<text transform="translate(6 274.5)" font-size="8.2" text-anchor="start" fill="#2d2d2d">Day 9</text>
<text transform="translate(41.5 297.5)" font-size="6.6" text-anchor="end" fill="#2d2d2d">1 &#215; 10<tspan dy="-2.5" font-size="4.4">6</tspan></text>
<text transform="translate(41.5 323.3)" font-size="6.6" text-anchor="end" fill="#2d2d2d">1 &#215; 10<tspan dy="-2.5" font-size="4.4">5</tspan></text>
<text transform="translate(6 308.5)" font-size="8.2" text-anchor="start" fill="#2d2d2d">Day 17</text>
<text transform="translate(41.5 331.2)" font-size="6.6" text-anchor="end" fill="#2d2d2d">2 &#215; 10<tspan dy="-2.5" font-size="4.4">5</tspan></text>
<text transform="translate(41.5 357.0)" font-size="6.6" text-anchor="end" fill="#2d2d2d">2 &#215; 10<tspan dy="-2.5" font-size="4.4">5</tspan></text>
<text transform="translate(6 342.5)" font-size="8.2" text-anchor="start" fill="#2d2d2d">Day 25</text>
<text transform="translate(41.5 364.3)" font-size="6.6" text-anchor="end" fill="#2d2d2d">4 &#215; 10<tspan dy="-2.5" font-size="4.4">5</tspan></text>
<text transform="translate(41.5 391.3)" font-size="6.6" text-anchor="end" fill="#2d2d2d">8 &#215; 10<tspan dy="-2.5" font-size="4.4">5</tspan></text>
<text transform="translate(6 376.8)" font-size="8.2" text-anchor="start" fill="#2d2d2d">Day 29</text>
<text transform="translate(55.5 186.5) rotate(-45)" font-size="8.2" text-anchor="start" fill="#2d2d2d">Human wt</text>
<text transform="translate(73.0 186.5) rotate(-45)" font-size="8.2" text-anchor="start" fill="#2d2d2d">Human DKO</text>
<text transform="translate(90.0 186.5) rotate(-45)" font-size="8.2" text-anchor="start" fill="#2d2d2d">Human HIP</text>
<text transform="translate(127.5 184) scale(1.06 1)" font-size="11.5" font-weight="bold" fill="#000" stroke="#000" stroke-width="0.3">g</text>
<text transform="translate(218.29999999999998 190.6)" font-size="8.2" text-anchor="middle" fill="#2d2d2d">Human wt</text>
<line x1="168.70" y1="195.20" x2="168.70" y2="260.60" stroke="#555" stroke-width="0.5"/>
<line x1="168.70" y1="260.60" x2="267.90" y2="260.60" stroke="#555" stroke-width="0.5"/>
<line x1="166.10" y1="195.20" x2="168.70" y2="195.20" stroke="#555" stroke-width="0.5"/>
<text transform="translate(162.89999999999998 198.0)" font-size="7.3" text-anchor="end" fill="#2d2d2d">1,000</text>
<line x1="166.10" y1="206.10" x2="168.70" y2="206.10" stroke="#555" stroke-width="0.5"/>
<text transform="translate(162.89999999999998 208.9)" font-size="7.3" text-anchor="end" fill="#2d2d2d">100</text>
<line x1="166.10" y1="217.00" x2="168.70" y2="217.00" stroke="#555" stroke-width="0.5"/>
<text transform="translate(162.89999999999998 219.8)" font-size="7.3" text-anchor="end" fill="#2d2d2d">10</text>
<line x1="166.10" y1="227.90" x2="168.70" y2="227.90" stroke="#555" stroke-width="0.5"/>
<text transform="translate(162.89999999999998 230.70000000000002)" font-size="7.3" text-anchor="end" fill="#2d2d2d">0</text>
<line x1="166.10" y1="238.80" x2="168.70" y2="238.80" stroke="#555" stroke-width="0.5"/>
<text transform="translate(162.89999999999998 241.60000000000002)" font-size="7.3" text-anchor="end" fill="#2d2d2d">0.1</text>
<line x1="166.10" y1="249.70" x2="168.70" y2="249.70" stroke="#555" stroke-width="0.5"/>
<text transform="translate(162.89999999999998 252.50000000000003)" font-size="7.3" text-anchor="end" fill="#2d2d2d">0.01</text>
<line x1="166.10" y1="260.60" x2="168.70" y2="260.60" stroke="#555" stroke-width="0.5"/>
<text transform="translate(162.89999999999998 263.40000000000003)" font-size="7.3" text-anchor="end" fill="#2d2d2d">0.001</text>
<line x1="168.70" y1="260.60" x2="168.70" y2="263.60" stroke="#555" stroke-width="0.5"/>
<text transform="translate(168.7 272.2)" font-size="7.3" text-anchor="middle" fill="#2d2d2d">0</text>
<line x1="185.23" y1="260.60" x2="185.23" y2="263.60" stroke="#555" stroke-width="0.5"/>
<text transform="translate(185.23333333333332 272.2)" font-size="7.3" text-anchor="middle" fill="#2d2d2d">5</text>
<line x1="201.77" y1="260.60" x2="201.77" y2="263.60" stroke="#555" stroke-width="0.5"/>
<text transform="translate(201.76666666666665 272.2)" font-size="7.3" text-anchor="middle" fill="#2d2d2d">10</text>
<line x1="218.30" y1="260.60" x2="218.30" y2="263.60" stroke="#555" stroke-width="0.5"/>
<text transform="translate(218.29999999999998 272.2)" font-size="7.3" text-anchor="middle" fill="#2d2d2d">15</text>
<line x1="234.83" y1="260.60" x2="234.83" y2="263.60" stroke="#555" stroke-width="0.5"/>
<text transform="translate(234.83333333333331 272.2)" font-size="7.3" text-anchor="middle" fill="#2d2d2d">20</text>
<line x1="251.37" y1="260.60" x2="251.37" y2="263.60" stroke="#555" stroke-width="0.5"/>
<text transform="translate(251.36666666666667 272.2)" font-size="7.3" text-anchor="middle" fill="#2d2d2d">25</text>
<line x1="267.90" y1="260.60" x2="267.90" y2="263.60" stroke="#555" stroke-width="0.5"/>
<text transform="translate(267.9 272.2)" font-size="7.3" text-anchor="middle" fill="#2d2d2d">30</text>
<text transform="translate(218.29999999999998 286.0)" font-size="8.2" text-anchor="middle" fill="#2d2d2d">Days</text>
<text transform="translate(137.6 228) rotate(-90)" font-size="8.2" text-anchor="middle" fill="#2d2d2d">Photons/s (&#215;10<tspan dy="-2.6" font-size="5.0">7</tspan><tspan dy="2.6">)</tspan></text>
<line x1="168.70" y1="247.40" x2="264.59" y2="247.40" stroke="#555" stroke-width="0.45" stroke-dasharray="2.2 0.8"/>
<polyline points="168.70,223.54 178.62,229.53 185.23,238.80 191.85,244.25 198.46,246.43" fill="none" stroke="#3557a7" stroke-width="0.42"/>
<rect x="167.55" y="222.39" width="2.3" height="2.3" fill="#3557a7"/>
<rect x="177.47" y="228.38" width="2.3" height="2.3" fill="#3557a7"/>
<rect x="184.08" y="237.65" width="2.3" height="2.3" fill="#3557a7"/>
<rect x="190.70" y="243.10" width="2.3" height="2.3" fill="#3557a7"/>
<rect x="197.31" y="245.28" width="2.3" height="2.3" fill="#3557a7"/>
<polyline points="168.70,225.18 178.62,232.26 185.23,240.44 191.85,245.89 198.46,247.52" fill="none" stroke="#3557a7" stroke-width="0.42"/>
<rect x="167.55" y="224.03" width="2.3" height="2.3" fill="#3557a7"/>
<rect x="177.47" y="231.11" width="2.3" height="2.3" fill="#3557a7"/>
<rect x="184.08" y="239.28" width="2.3" height="2.3" fill="#3557a7"/>
<rect x="190.70" y="244.74" width="2.3" height="2.3" fill="#3557a7"/>
<rect x="197.31" y="246.37" width="2.3" height="2.3" fill="#3557a7"/>
<polyline points="168.70,226.81 178.62,233.90 185.23,241.53 191.85,247.52 198.46,248.61 205.07,247.74" fill="none" stroke="#3557a7" stroke-width="0.42"/>
<rect x="167.55" y="225.66" width="2.3" height="2.3" fill="#3557a7"/>
<rect x="177.47" y="232.75" width="2.3" height="2.3" fill="#3557a7"/>
<rect x="184.08" y="240.38" width="2.3" height="2.3" fill="#3557a7"/>
<rect x="190.70" y="246.37" width="2.3" height="2.3" fill="#3557a7"/>
<rect x="197.31" y="247.46" width="2.3" height="2.3" fill="#3557a7"/>
<rect x="203.92" y="246.59" width="2.3" height="2.3" fill="#3557a7"/>
<polyline points="168.70,228.44 178.62,235.53 185.23,242.62 191.85,248.61 198.46,249.48" fill="none" stroke="#3557a7" stroke-width="0.42"/>
<rect x="167.55" y="227.29" width="2.3" height="2.3" fill="#3557a7"/>
<rect x="177.47" y="234.38" width="2.3" height="2.3" fill="#3557a7"/>
<rect x="184.08" y="241.47" width="2.3" height="2.3" fill="#3557a7"/>
<rect x="190.70" y="247.46" width="2.3" height="2.3" fill="#3557a7"/>
<rect x="197.31" y="248.33" width="2.3" height="2.3" fill="#3557a7"/>
<polyline points="168.70,229.53 178.62,237.17 185.23,243.71 191.85,249.37 198.46,249.92" fill="none" stroke="#3557a7" stroke-width="0.42"/>
<rect x="167.55" y="228.38" width="2.3" height="2.3" fill="#3557a7"/>
<rect x="177.47" y="236.02" width="2.3" height="2.3" fill="#3557a7"/>
<rect x="184.08" y="242.56" width="2.3" height="2.3" fill="#3557a7"/>
<rect x="190.70" y="248.22" width="2.3" height="2.3" fill="#3557a7"/>
<rect x="197.31" y="248.77" width="2.3" height="2.3" fill="#3557a7"/>
<text transform="translate(293 184) scale(1.06 1)" font-size="11.5" font-weight="bold" fill="#000" stroke="#000" stroke-width="0.3">h</text>
<text transform="translate(384.0 190.6)" font-size="8.2" text-anchor="middle" fill="#2d2d2d">Human DKO</text>
<line x1="334.40" y1="195.20" x2="334.40" y2="260.60" stroke="#555" stroke-width="0.5"/>
<line x1="334.40" y1="260.60" x2="433.60" y2="260.60" stroke="#555" stroke-width="0.5"/>
<line x1="331.80" y1="195.20" x2="334.40" y2="195.20" stroke="#555" stroke-width="0.5"/>
<text transform="translate(328.59999999999997 198.0)" font-size="7.3" text-anchor="end" fill="#2d2d2d">1,000</text>
<line x1="331.80" y1="206.10" x2="334.40" y2="206.10" stroke="#555" stroke-width="0.5"/>
<text transform="translate(328.59999999999997 208.9)" font-size="7.3" text-anchor="end" fill="#2d2d2d">100</text>
<line x1="331.80" y1="217.00" x2="334.40" y2="217.00" stroke="#555" stroke-width="0.5"/>
<text transform="translate(328.59999999999997 219.8)" font-size="7.3" text-anchor="end" fill="#2d2d2d">10</text>
<line x1="331.80" y1="227.90" x2="334.40" y2="227.90" stroke="#555" stroke-width="0.5"/>
<text transform="translate(328.59999999999997 230.70000000000002)" font-size="7.3" text-anchor="end" fill="#2d2d2d">0</text>
<line x1="331.80" y1="238.80" x2="334.40" y2="238.80" stroke="#555" stroke-width="0.5"/>
<text transform="translate(328.59999999999997 241.60000000000002)" font-size="7.3" text-anchor="end" fill="#2d2d2d">0.1</text>
<line x1="331.80" y1="249.70" x2="334.40" y2="249.70" stroke="#555" stroke-width="0.5"/>
<text transform="translate(328.59999999999997 252.50000000000003)" font-size="7.3" text-anchor="end" fill="#2d2d2d">0.01</text>
<line x1="331.80" y1="260.60" x2="334.40" y2="260.60" stroke="#555" stroke-width="0.5"/>
<text transform="translate(328.59999999999997 263.40000000000003)" font-size="7.3" text-anchor="end" fill="#2d2d2d">0.001</text>
<line x1="334.40" y1="260.60" x2="334.40" y2="263.60" stroke="#555" stroke-width="0.5"/>
<text transform="translate(334.4 272.2)" font-size="7.3" text-anchor="middle" fill="#2d2d2d">0</text>
<line x1="350.93" y1="260.60" x2="350.93" y2="263.60" stroke="#555" stroke-width="0.5"/>
<text transform="translate(350.93333333333334 272.2)" font-size="7.3" text-anchor="middle" fill="#2d2d2d">5</text>
<line x1="367.47" y1="260.60" x2="367.47" y2="263.60" stroke="#555" stroke-width="0.5"/>
<text transform="translate(367.46666666666664 272.2)" font-size="7.3" text-anchor="middle" fill="#2d2d2d">10</text>
<line x1="384.00" y1="260.60" x2="384.00" y2="263.60" stroke="#555" stroke-width="0.5"/>
<text transform="translate(384.0 272.2)" font-size="7.3" text-anchor="middle" fill="#2d2d2d">15</text>
<line x1="400.53" y1="260.60" x2="400.53" y2="263.60" stroke="#555" stroke-width="0.5"/>
<text transform="translate(400.5333333333333 272.2)" font-size="7.3" text-anchor="middle" fill="#2d2d2d">20</text>
<line x1="417.07" y1="260.60" x2="417.07" y2="263.60" stroke="#555" stroke-width="0.5"/>
<text transform="translate(417.06666666666666 272.2)" font-size="7.3" text-anchor="middle" fill="#2d2d2d">25</text>
<line x1="433.60" y1="260.60" x2="433.60" y2="263.60" stroke="#555" stroke-width="0.5"/>
<text transform="translate(433.59999999999997 272.2)" font-size="7.3" text-anchor="middle" fill="#2d2d2d">30</text>
<text transform="translate(385.0 286.0)" font-size="8.2" text-anchor="middle" fill="#2d2d2d">Days</text>
<text transform="translate(303.1 228) rotate(-90)" font-size="8.2" text-anchor="middle" fill="#2d2d2d">Photons/s (&#215;10<tspan dy="-2.6" font-size="5.0">7</tspan><tspan dy="2.6">)</tspan></text>
<line x1="334.40" y1="247.40" x2="430.29" y2="247.40" stroke="#555" stroke-width="0.45" stroke-dasharray="2.2 0.8"/>
<polyline points="334.40,230.30 344.32,248.83" fill="none" stroke="#0e8a46" stroke-width="0.6"/>
<circle cx="334.40" cy="230.30" r="1.25" fill="#0e8a46"/>
<circle cx="344.32" cy="248.83" r="1.25" fill="#0e8a46"/>
<polyline points="334.40,231.06 344.32,249.37" fill="none" stroke="#0e8a46" stroke-width="0.6"/>
<circle cx="334.40" cy="231.06" r="1.25" fill="#0e8a46"/>
<circle cx="344.32" cy="249.37" r="1.25" fill="#0e8a46"/>
<polyline points="334.40,231.82 344.32,249.92" fill="none" stroke="#0e8a46" stroke-width="0.6"/>
<circle cx="334.40" cy="231.82" r="1.25" fill="#0e8a46"/>
<circle cx="344.32" cy="249.92" r="1.25" fill="#0e8a46"/>
<polyline points="334.40,232.59 344.32,250.46" fill="none" stroke="#0e8a46" stroke-width="0.6"/>
<circle cx="334.40" cy="232.59" r="1.25" fill="#0e8a46"/>
<circle cx="344.32" cy="250.46" r="1.25" fill="#0e8a46"/>
<polyline points="334.40,233.35 344.32,251.01" fill="none" stroke="#0e8a46" stroke-width="0.6"/>
<circle cx="334.40" cy="233.35" r="1.25" fill="#0e8a46"/>
<circle cx="344.32" cy="251.01" r="1.25" fill="#0e8a46"/>
<text transform="translate(466 184) scale(1.06 1)" font-size="11.5" font-weight="bold" fill="#000" stroke="#000" stroke-width="0.3">i</text>
<text transform="translate(556.8 190.6)" font-size="8.2" text-anchor="middle" fill="#2d2d2d">Human HIP</text>
<line x1="507.20" y1="195.20" x2="507.20" y2="260.60" stroke="#555" stroke-width="0.5"/>
<line x1="507.20" y1="260.60" x2="606.40" y2="260.60" stroke="#555" stroke-width="0.5"/>
<line x1="504.60" y1="195.20" x2="507.20" y2="195.20" stroke="#555" stroke-width="0.5"/>
<text transform="translate(501.4 198.0)" font-size="7.3" text-anchor="end" fill="#2d2d2d">1,000</text>
<line x1="504.60" y1="206.10" x2="507.20" y2="206.10" stroke="#555" stroke-width="0.5"/>
<text transform="translate(501.4 208.9)" font-size="7.3" text-anchor="end" fill="#2d2d2d">100</text>
<line x1="504.60" y1="217.00" x2="507.20" y2="217.00" stroke="#555" stroke-width="0.5"/>
<text transform="translate(501.4 219.8)" font-size="7.3" text-anchor="end" fill="#2d2d2d">10</text>
<line x1="504.60" y1="227.90" x2="507.20" y2="227.90" stroke="#555" stroke-width="0.5"/>
<text transform="translate(501.4 230.70000000000002)" font-size="7.3" text-anchor="end" fill="#2d2d2d">0</text>
<line x1="504.60" y1="238.80" x2="507.20" y2="238.80" stroke="#555" stroke-width="0.5"/>
<text transform="translate(501.4 241.60000000000002)" font-size="7.3" text-anchor="end" fill="#2d2d2d">0.1</text>
<line x1="504.60" y1="249.70" x2="507.20" y2="249.70" stroke="#555" stroke-width="0.5"/>
<text transform="translate(501.4 252.50000000000003)" font-size="7.3" text-anchor="end" fill="#2d2d2d">0.01</text>
<line x1="504.60" y1="260.60" x2="507.20" y2="260.60" stroke="#555" stroke-width="0.5"/>
<text transform="translate(501.4 263.40000000000003)" font-size="7.3" text-anchor="end" fill="#2d2d2d">0.001</text>
<line x1="507.20" y1="260.60" x2="507.20" y2="263.60" stroke="#555" stroke-width="0.5"/>
<text transform="translate(507.2 272.2)" font-size="7.3" text-anchor="middle" fill="#2d2d2d">0</text>
<line x1="523.73" y1="260.60" x2="523.73" y2="263.60" stroke="#555" stroke-width="0.5"/>
<text transform="translate(523.7333333333333 272.2)" font-size="7.3" text-anchor="middle" fill="#2d2d2d">5</text>
<line x1="540.27" y1="260.60" x2="540.27" y2="263.60" stroke="#555" stroke-width="0.5"/>
<text transform="translate(540.2666666666667 272.2)" font-size="7.3" text-anchor="middle" fill="#2d2d2d">10</text>
<line x1="556.80" y1="260.60" x2="556.80" y2="263.60" stroke="#555" stroke-width="0.5"/>
<text transform="translate(556.8 272.2)" font-size="7.3" text-anchor="middle" fill="#2d2d2d">15</text>
<line x1="573.33" y1="260.60" x2="573.33" y2="263.60" stroke="#555" stroke-width="0.5"/>
<text transform="translate(573.3333333333334 272.2)" font-size="7.3" text-anchor="middle" fill="#2d2d2d">20</text>
<line x1="589.87" y1="260.60" x2="589.87" y2="263.60" stroke="#555" stroke-width="0.5"/>
<text transform="translate(589.8666666666667 272.2)" font-size="7.3" text-anchor="middle" fill="#2d2d2d">25</text>
<line x1="606.40" y1="260.60" x2="606.40" y2="263.60" stroke="#555" stroke-width="0.5"/>
<text transform="translate(606.4 272.2)" font-size="7.3" text-anchor="middle" fill="#2d2d2d">30</text>
<text transform="translate(556.8 286.0)" font-size="8.2" text-anchor="middle" fill="#2d2d2d">Days</text>
<text transform="translate(476.9 228) rotate(-90)" font-size="8.2" text-anchor="middle" fill="#2d2d2d">Photons/s (&#215;10<tspan dy="-2.6" font-size="5.0">7</tspan><tspan dy="2.6">)</tspan></text>
<line x1="507.20" y1="247.40" x2="603.09" y2="247.40" stroke="#555" stroke-width="0.45" stroke-dasharray="2.2 0.8"/>
<polyline points="507.20,236.40 517.12,225.72 523.73,224.96 530.35,224.52 536.96,223.32 543.57,220.71 550.19,216.02 563.41,210.46 576.64,206.21 589.87,205.01 603.09,204.36" fill="none" stroke="#e8262d" stroke-width="0.6"/>
<circle cx="507.20" cy="236.40" r="1.25" fill="#e8262d"/>
<circle cx="517.12" cy="225.72" r="1.25" fill="#e8262d"/>
<circle cx="523.73" cy="224.96" r="1.25" fill="#e8262d"/>
<circle cx="530.35" cy="224.52" r="1.25" fill="#e8262d"/>
<circle cx="536.96" cy="223.32" r="1.25" fill="#e8262d"/>
<circle cx="543.57" cy="220.71" r="1.25" fill="#e8262d"/>
<circle cx="550.19" cy="216.02" r="1.25" fill="#e8262d"/>
<circle cx="563.41" cy="210.46" r="1.25" fill="#e8262d"/>
<circle cx="576.64" cy="206.21" r="1.25" fill="#e8262d"/>
<circle cx="589.87" cy="205.01" r="1.25" fill="#e8262d"/>
<circle cx="603.09" cy="204.36" r="1.25" fill="#e8262d"/>
<polyline points="507.20,236.84 517.12,230.84 523.73,222.67 530.35,225.72 536.96,224.52 543.57,222.12 550.19,217.98 563.41,212.75 576.64,207.41 589.87,207.41 603.09,205.77" fill="none" stroke="#e8262d" stroke-width="0.6"/>
<circle cx="507.20" cy="236.84" r="1.25" fill="#e8262d"/>
<circle cx="517.12" cy="230.84" r="1.25" fill="#e8262d"/>
<circle cx="523.73" cy="222.67" r="1.25" fill="#e8262d"/>
<circle cx="530.35" cy="225.72" r="1.25" fill="#e8262d"/>
<circle cx="536.96" cy="224.52" r="1.25" fill="#e8262d"/>
<circle cx="543.57" cy="222.12" r="1.25" fill="#e8262d"/>
<circle cx="550.19" cy="217.98" r="1.25" fill="#e8262d"/>
<circle cx="563.41" cy="212.75" r="1.25" fill="#e8262d"/>
<circle cx="576.64" cy="207.41" r="1.25" fill="#e8262d"/>
<circle cx="589.87" cy="207.41" r="1.25" fill="#e8262d"/>
<circle cx="603.09" cy="205.77" r="1.25" fill="#e8262d"/>
<polyline points="507.20,237.49 517.12,232.04 523.73,228.01 530.35,225.18 536.96,225.72 543.57,223.00 550.19,219.83 563.41,214.38 576.64,209.70 589.87,209.70 603.09,207.41" fill="none" stroke="#e8262d" stroke-width="0.6"/>
<circle cx="507.20" cy="237.49" r="1.25" fill="#e8262d"/>
<circle cx="517.12" cy="232.04" r="1.25" fill="#e8262d"/>
<circle cx="523.73" cy="228.01" r="1.25" fill="#e8262d"/>
<circle cx="530.35" cy="225.18" r="1.25" fill="#e8262d"/>
<circle cx="536.96" cy="225.72" r="1.25" fill="#e8262d"/>
<circle cx="543.57" cy="223.00" r="1.25" fill="#e8262d"/>
<circle cx="550.19" cy="219.83" r="1.25" fill="#e8262d"/>
<circle cx="563.41" cy="214.38" r="1.25" fill="#e8262d"/>
<circle cx="576.64" cy="209.70" r="1.25" fill="#e8262d"/>
<circle cx="589.87" cy="209.70" r="1.25" fill="#e8262d"/>
<circle cx="603.09" cy="207.41" r="1.25" fill="#e8262d"/>
<polyline points="507.20,237.93 517.12,233.13 523.73,230.84 530.35,227.36 536.96,225.18 543.57,223.76 550.19,221.47 563.41,216.35 576.64,211.66 589.87,210.46 603.09,207.73" fill="none" stroke="#e8262d" stroke-width="0.6"/>
<circle cx="507.20" cy="237.93" r="1.25" fill="#e8262d"/>
<circle cx="517.12" cy="233.13" r="1.25" fill="#e8262d"/>
<circle cx="523.73" cy="230.84" r="1.25" fill="#e8262d"/>
<circle cx="530.35" cy="227.36" r="1.25" fill="#e8262d"/>
<circle cx="536.96" cy="225.18" r="1.25" fill="#e8262d"/>
<circle cx="543.57" cy="223.76" r="1.25" fill="#e8262d"/>
<circle cx="550.19" cy="221.47" r="1.25" fill="#e8262d"/>
<circle cx="563.41" cy="216.35" r="1.25" fill="#e8262d"/>
<circle cx="576.64" cy="211.66" r="1.25" fill="#e8262d"/>
<circle cx="589.87" cy="210.46" r="1.25" fill="#e8262d"/>
<circle cx="603.09" cy="207.73" r="1.25" fill="#e8262d"/>
<polyline points="507.20,238.47 517.12,234.33 523.73,233.13 530.35,226.81 536.96,228.99 543.57,225.39 550.19,223.32 563.41,218.42 576.64,213.29 589.87,210.46 603.09,211.66" fill="none" stroke="#e8262d" stroke-width="0.6"/>
<circle cx="507.20" cy="238.47" r="1.25" fill="#e8262d"/>
<circle cx="517.12" cy="234.33" r="1.25" fill="#e8262d"/>
<circle cx="523.73" cy="233.13" r="1.25" fill="#e8262d"/>
<circle cx="530.35" cy="226.81" r="1.25" fill="#e8262d"/>
<circle cx="536.96" cy="228.99" r="1.25" fill="#e8262d"/>
<circle cx="543.57" cy="225.39" r="1.25" fill="#e8262d"/>
<circle cx="550.19" cy="223.32" r="1.25" fill="#e8262d"/>
<circle cx="563.41" cy="218.42" r="1.25" fill="#e8262d"/>
<circle cx="576.64" cy="213.29" r="1.25" fill="#e8262d"/>
<circle cx="589.87" cy="210.46" r="1.25" fill="#e8262d"/>
<circle cx="603.09" cy="211.66" r="1.25" fill="#e8262d"/>
<polyline points="507.20,238.80 517.12,233.35 523.73,237.38 530.35,232.04 536.96,228.99 543.57,224.63 550.19,222.45 563.41,217.54 576.64,212.64 589.87,210.24 603.09,207.19" fill="none" stroke="#e8262d" stroke-width="0.6"/>
<circle cx="507.20" cy="238.80" r="1.25" fill="#e8262d"/>
<circle cx="517.12" cy="233.35" r="1.25" fill="#e8262d"/>
<circle cx="523.73" cy="237.38" r="1.25" fill="#e8262d"/>
<circle cx="530.35" cy="232.04" r="1.25" fill="#e8262d"/>
<circle cx="536.96" cy="228.99" r="1.25" fill="#e8262d"/>
<circle cx="543.57" cy="224.63" r="1.25" fill="#e8262d"/>
<circle cx="550.19" cy="222.45" r="1.25" fill="#e8262d"/>
<circle cx="563.41" cy="217.54" r="1.25" fill="#e8262d"/>
<circle cx="576.64" cy="212.64" r="1.25" fill="#e8262d"/>
<circle cx="589.87" cy="210.24" r="1.25" fill="#e8262d"/>
<circle cx="603.09" cy="207.19" r="1.25" fill="#e8262d"/>
<text transform="translate(127.5 304.3) scale(1.06 1)" font-size="11.5" font-weight="bold" fill="#000" stroke="#000" stroke-width="0.3">j</text>
<text transform="translate(219.34 309.6)" font-size="8.2" text-anchor="middle" fill="#2d2d2d">Human wt</text>
<line x1="168.20" y1="316.10" x2="168.20" y2="380.30" stroke="#555" stroke-width="0.5"/>
<line x1="168.20" y1="380.30" x2="270.10" y2="380.30" stroke="#555" stroke-width="0.5"/>
<line x1="165.40" y1="316.10" x2="168.20" y2="316.10" stroke="#555" stroke-width="0.5"/>
<text transform="translate(163.39999999999998 318.8)" font-size="7.3" text-anchor="end" fill="#2d2d2d">600</text>
<line x1="165.40" y1="337.50" x2="168.20" y2="337.50" stroke="#555" stroke-width="0.5"/>
<text transform="translate(163.39999999999998 340.2)" font-size="7.3" text-anchor="end" fill="#2d2d2d">400</text>
<line x1="165.40" y1="358.90" x2="168.20" y2="358.90" stroke="#555" stroke-width="0.5"/>
<text transform="translate(163.39999999999998 361.6)" font-size="7.3" text-anchor="end" fill="#2d2d2d">200</text>
<line x1="165.40" y1="380.30" x2="168.20" y2="380.30" stroke="#555" stroke-width="0.5"/>
<text transform="translate(163.39999999999998 383.0)" font-size="7.3" text-anchor="end" fill="#2d2d2d">0</text>
<line x1="168.58" y1="380.30" x2="168.58" y2="383.30" stroke="#555" stroke-width="0.5"/>
<text transform="translate(168.58 392.5)" font-size="7.3" text-anchor="middle" fill="#2d2d2d">&#8722;6</text>
<line x1="185.50" y1="380.30" x2="185.50" y2="383.30" stroke="#555" stroke-width="0.5"/>
<text transform="translate(185.5 392.5)" font-size="7.3" text-anchor="middle" fill="#2d2d2d">0</text>
<line x1="202.42" y1="380.30" x2="202.42" y2="383.30" stroke="#555" stroke-width="0.5"/>
<text transform="translate(202.42 392.5)" font-size="7.3" text-anchor="middle" fill="#2d2d2d">6</text>
<line x1="219.34" y1="380.30" x2="219.34" y2="383.30" stroke="#555" stroke-width="0.5"/>
<text transform="translate(219.34 392.5)" font-size="7.3" text-anchor="middle" fill="#2d2d2d">12</text>
<line x1="236.26" y1="380.30" x2="236.26" y2="383.30" stroke="#555" stroke-width="0.5"/>
<text transform="translate(236.26 392.5)" font-size="7.3" text-anchor="middle" fill="#2d2d2d">18</text>
<line x1="253.18" y1="380.30" x2="253.18" y2="383.30" stroke="#555" stroke-width="0.5"/>
<text transform="translate(253.18 392.5)" font-size="7.3" text-anchor="middle" fill="#2d2d2d">24</text>
<line x1="270.10" y1="380.30" x2="270.10" y2="383.30" stroke="#555" stroke-width="0.5"/>
<text transform="translate(270.1 392.5)" font-size="7.3" text-anchor="middle" fill="#2d2d2d">30</text>
<text transform="translate(219.34 406.0)" font-size="8.2" text-anchor="middle" fill="#2d2d2d">Days</text>
<text transform="translate(133.8 347.5) rotate(-90)" font-size="8.2" text-anchor="middle" fill="#2d2d2d">Glucose level</text>
<text transform="translate(143.8 347.5) rotate(-90)" font-size="8.2" text-anchor="middle" fill="#2d2d2d">(mg dl<tspan dy="-2.6" font-size="5.0">&#8722;1</tspan><tspan dy="2.6">)</tspan></text>
<polyline points="171.70,370.90 177.30,352.80 179.90,344.20 182.90,331.70 185.50,325.20 194.10,318.30 205.30,317.90 213.90,318.30 225.10,317.90 244.90,317.40 264.80,316.10" fill="none" stroke="#3557a7" stroke-width="0.55"/>
<line x1="171.70" y1="368.90" x2="171.70" y2="372.90" stroke="#3557a7" stroke-width="0.45"/>
<line x1="170.80" y1="368.90" x2="172.60" y2="368.90" stroke="#3557a7" stroke-width="0.4"/>
<line x1="170.80" y1="372.90" x2="172.60" y2="372.90" stroke="#3557a7" stroke-width="0.4"/>
<circle cx="171.70" cy="370.90" r="1.35" fill="#3557a7"/>
<line x1="177.30" y1="350.80" x2="177.30" y2="354.80" stroke="#3557a7" stroke-width="0.45"/>
<line x1="176.40" y1="350.80" x2="178.20" y2="350.80" stroke="#3557a7" stroke-width="0.4"/>
<line x1="176.40" y1="354.80" x2="178.20" y2="354.80" stroke="#3557a7" stroke-width="0.4"/>
<circle cx="177.30" cy="352.80" r="1.35" fill="#3557a7"/>
<line x1="179.90" y1="342.20" x2="179.90" y2="346.20" stroke="#3557a7" stroke-width="0.45"/>
<line x1="179.00" y1="342.20" x2="180.80" y2="342.20" stroke="#3557a7" stroke-width="0.4"/>
<line x1="179.00" y1="346.20" x2="180.80" y2="346.20" stroke="#3557a7" stroke-width="0.4"/>
<circle cx="179.90" cy="344.20" r="1.35" fill="#3557a7"/>
<line x1="182.90" y1="329.70" x2="182.90" y2="333.70" stroke="#3557a7" stroke-width="0.45"/>
<line x1="182.00" y1="329.70" x2="183.80" y2="329.70" stroke="#3557a7" stroke-width="0.4"/>
<line x1="182.00" y1="333.70" x2="183.80" y2="333.70" stroke="#3557a7" stroke-width="0.4"/>
<circle cx="182.90" cy="331.70" r="1.35" fill="#3557a7"/>
<line x1="185.50" y1="323.20" x2="185.50" y2="327.20" stroke="#3557a7" stroke-width="0.45"/>
<line x1="184.60" y1="323.20" x2="186.40" y2="323.20" stroke="#3557a7" stroke-width="0.4"/>
<line x1="184.60" y1="327.20" x2="186.40" y2="327.20" stroke="#3557a7" stroke-width="0.4"/>
<circle cx="185.50" cy="325.20" r="1.35" fill="#3557a7"/>
<line x1="194.10" y1="316.30" x2="194.10" y2="320.30" stroke="#3557a7" stroke-width="0.45"/>
<line x1="193.20" y1="316.30" x2="195.00" y2="316.30" stroke="#3557a7" stroke-width="0.4"/>
<line x1="193.20" y1="320.30" x2="195.00" y2="320.30" stroke="#3557a7" stroke-width="0.4"/>
<circle cx="194.10" cy="318.30" r="1.35" fill="#3557a7"/>
<line x1="205.30" y1="315.90" x2="205.30" y2="319.90" stroke="#3557a7" stroke-width="0.45"/>
<line x1="204.40" y1="315.90" x2="206.20" y2="315.90" stroke="#3557a7" stroke-width="0.4"/>
<line x1="204.40" y1="319.90" x2="206.20" y2="319.90" stroke="#3557a7" stroke-width="0.4"/>
<circle cx="205.30" cy="317.90" r="1.35" fill="#3557a7"/>
<line x1="213.90" y1="316.30" x2="213.90" y2="320.30" stroke="#3557a7" stroke-width="0.45"/>
<line x1="213.00" y1="316.30" x2="214.80" y2="316.30" stroke="#3557a7" stroke-width="0.4"/>
<line x1="213.00" y1="320.30" x2="214.80" y2="320.30" stroke="#3557a7" stroke-width="0.4"/>
<circle cx="213.90" cy="318.30" r="1.35" fill="#3557a7"/>
<line x1="225.10" y1="315.90" x2="225.10" y2="319.90" stroke="#3557a7" stroke-width="0.45"/>
<line x1="224.20" y1="315.90" x2="226.00" y2="315.90" stroke="#3557a7" stroke-width="0.4"/>
<line x1="224.20" y1="319.90" x2="226.00" y2="319.90" stroke="#3557a7" stroke-width="0.4"/>
<circle cx="225.10" cy="317.90" r="1.35" fill="#3557a7"/>
<line x1="244.90" y1="315.40" x2="244.90" y2="319.40" stroke="#3557a7" stroke-width="0.45"/>
<line x1="244.00" y1="315.40" x2="245.80" y2="315.40" stroke="#3557a7" stroke-width="0.4"/>
<line x1="244.00" y1="319.40" x2="245.80" y2="319.40" stroke="#3557a7" stroke-width="0.4"/>
<circle cx="244.90" cy="317.40" r="1.35" fill="#3557a7"/>
<line x1="264.80" y1="314.10" x2="264.80" y2="318.10" stroke="#3557a7" stroke-width="0.45"/>
<line x1="263.90" y1="314.10" x2="265.70" y2="314.10" stroke="#3557a7" stroke-width="0.4"/>
<line x1="263.90" y1="318.10" x2="265.70" y2="318.10" stroke="#3557a7" stroke-width="0.4"/>
<circle cx="264.80" cy="316.10" r="1.35" fill="#3557a7"/>
<line x1="196.80" y1="365.20" x2="202.00" y2="365.20" stroke="#5ec3ea" stroke-width="0.5"/>
<rect x="198.30" y="364.1" width="2.2" height="2.2" fill="#5ec3ea"/>
<text transform="translate(206.4 368.1)" font-size="8.5" text-anchor="start" fill="#2d2d2d">Glucose challenge</text>
<line x1="196.80" y1="375.80" x2="202.00" y2="375.80" stroke="#3557a7" stroke-width="0.5"/>
<circle cx="199.40" cy="375.8" r="1.35" fill="#3557a7"/>
<text transform="translate(206.4 378.7)" font-size="8.5" text-anchor="start" fill="#2d2d2d">Fasting</text>
<text transform="translate(293 304.3) scale(1.06 1)" font-size="11.5" font-weight="bold" fill="#000" stroke="#000" stroke-width="0.3">k</text>
<text transform="translate(385.44 309.6)" font-size="8.2" text-anchor="middle" fill="#2d2d2d">Human DKO</text>
<line x1="334.30" y1="316.10" x2="334.30" y2="380.30" stroke="#555" stroke-width="0.5"/>
<line x1="334.30" y1="380.30" x2="436.20" y2="380.30" stroke="#555" stroke-width="0.5"/>
<line x1="331.50" y1="316.10" x2="334.30" y2="316.10" stroke="#555" stroke-width="0.5"/>
<text transform="translate(329.5 318.8)" font-size="7.3" text-anchor="end" fill="#2d2d2d">600</text>
<line x1="331.50" y1="337.50" x2="334.30" y2="337.50" stroke="#555" stroke-width="0.5"/>
<text transform="translate(329.5 340.2)" font-size="7.3" text-anchor="end" fill="#2d2d2d">400</text>
<line x1="331.50" y1="358.90" x2="334.30" y2="358.90" stroke="#555" stroke-width="0.5"/>
<text transform="translate(329.5 361.6)" font-size="7.3" text-anchor="end" fill="#2d2d2d">200</text>
<line x1="331.50" y1="380.30" x2="334.30" y2="380.30" stroke="#555" stroke-width="0.5"/>
<text transform="translate(329.5 383.0)" font-size="7.3" text-anchor="end" fill="#2d2d2d">0</text>
<line x1="334.68" y1="380.30" x2="334.68" y2="383.30" stroke="#555" stroke-width="0.5"/>
<text transform="translate(334.68 392.5)" font-size="7.3" text-anchor="middle" fill="#2d2d2d">&#8722;6</text>
<line x1="351.60" y1="380.30" x2="351.60" y2="383.30" stroke="#555" stroke-width="0.5"/>
<text transform="translate(351.6 392.5)" font-size="7.3" text-anchor="middle" fill="#2d2d2d">0</text>
<line x1="368.52" y1="380.30" x2="368.52" y2="383.30" stroke="#555" stroke-width="0.5"/>
<text transform="translate(368.52000000000004 392.5)" font-size="7.3" text-anchor="middle" fill="#2d2d2d">6</text>
<line x1="385.44" y1="380.30" x2="385.44" y2="383.30" stroke="#555" stroke-width="0.5"/>
<text transform="translate(385.44 392.5)" font-size="7.3" text-anchor="middle" fill="#2d2d2d">12</text>
<line x1="402.36" y1="380.30" x2="402.36" y2="383.30" stroke="#555" stroke-width="0.5"/>
<text transform="translate(402.36 392.5)" font-size="7.3" text-anchor="middle" fill="#2d2d2d">18</text>
<line x1="419.28" y1="380.30" x2="419.28" y2="383.30" stroke="#555" stroke-width="0.5"/>
<text transform="translate(419.28000000000003 392.5)" font-size="7.3" text-anchor="middle" fill="#2d2d2d">24</text>
<line x1="436.20" y1="380.30" x2="436.20" y2="383.30" stroke="#555" stroke-width="0.5"/>
<text transform="translate(436.20000000000005 392.5)" font-size="7.3" text-anchor="middle" fill="#2d2d2d">30</text>
<text transform="translate(386.64 406.0)" font-size="8.2" text-anchor="middle" fill="#2d2d2d">Days</text>
<text transform="translate(298.2 347.5) rotate(-90)" font-size="8.2" text-anchor="middle" fill="#2d2d2d">Glucose level</text>
<text transform="translate(308.2 347.5) rotate(-90)" font-size="8.2" text-anchor="middle" fill="#2d2d2d">(mg dl<tspan dy="-2.6" font-size="5.0">&#8722;1</tspan><tspan dy="2.6">)</tspan></text>
<polyline points="337.30,369.80 342.80,355.20 345.90,346.60 348.90,333.70 351.90,325.50 360.10,319.00 371.30,318.20 379.90,319.00 391.10,318.60 410.90,319.00 430.70,319.00" fill="none" stroke="#0e8a46" stroke-width="0.55"/>
<line x1="337.30" y1="367.80" x2="337.30" y2="371.80" stroke="#0e8a46" stroke-width="0.45"/>
<line x1="336.40" y1="367.80" x2="338.20" y2="367.80" stroke="#0e8a46" stroke-width="0.4"/>
<line x1="336.40" y1="371.80" x2="338.20" y2="371.80" stroke="#0e8a46" stroke-width="0.4"/>
<circle cx="337.30" cy="369.80" r="1.35" fill="#0e8a46"/>
<line x1="342.80" y1="353.20" x2="342.80" y2="357.20" stroke="#0e8a46" stroke-width="0.45"/>
<line x1="341.90" y1="353.20" x2="343.70" y2="353.20" stroke="#0e8a46" stroke-width="0.4"/>
<line x1="341.90" y1="357.20" x2="343.70" y2="357.20" stroke="#0e8a46" stroke-width="0.4"/>
<circle cx="342.80" cy="355.20" r="1.35" fill="#0e8a46"/>
<line x1="345.90" y1="344.60" x2="345.90" y2="348.60" stroke="#0e8a46" stroke-width="0.45"/>
<line x1="345.00" y1="344.60" x2="346.80" y2="344.60" stroke="#0e8a46" stroke-width="0.4"/>
<line x1="345.00" y1="348.60" x2="346.80" y2="348.60" stroke="#0e8a46" stroke-width="0.4"/>
<circle cx="345.90" cy="346.60" r="1.35" fill="#0e8a46"/>
<line x1="348.90" y1="331.70" x2="348.90" y2="335.70" stroke="#0e8a46" stroke-width="0.45"/>
<line x1="348.00" y1="331.70" x2="349.80" y2="331.70" stroke="#0e8a46" stroke-width="0.4"/>
<line x1="348.00" y1="335.70" x2="349.80" y2="335.70" stroke="#0e8a46" stroke-width="0.4"/>
<circle cx="348.90" cy="333.70" r="1.35" fill="#0e8a46"/>
<line x1="351.90" y1="323.50" x2="351.90" y2="327.50" stroke="#0e8a46" stroke-width="0.45"/>
<line x1="351.00" y1="323.50" x2="352.80" y2="323.50" stroke="#0e8a46" stroke-width="0.4"/>
<line x1="351.00" y1="327.50" x2="352.80" y2="327.50" stroke="#0e8a46" stroke-width="0.4"/>
<circle cx="351.90" cy="325.50" r="1.35" fill="#0e8a46"/>
<line x1="360.10" y1="317.00" x2="360.10" y2="321.00" stroke="#0e8a46" stroke-width="0.45"/>
<line x1="359.20" y1="317.00" x2="361.00" y2="317.00" stroke="#0e8a46" stroke-width="0.4"/>
<line x1="359.20" y1="321.00" x2="361.00" y2="321.00" stroke="#0e8a46" stroke-width="0.4"/>
<circle cx="360.10" cy="319.00" r="1.35" fill="#0e8a46"/>
<line x1="371.30" y1="316.20" x2="371.30" y2="320.20" stroke="#0e8a46" stroke-width="0.45"/>
<line x1="370.40" y1="316.20" x2="372.20" y2="316.20" stroke="#0e8a46" stroke-width="0.4"/>
<line x1="370.40" y1="320.20" x2="372.20" y2="320.20" stroke="#0e8a46" stroke-width="0.4"/>
<circle cx="371.30" cy="318.20" r="1.35" fill="#0e8a46"/>
<line x1="379.90" y1="317.00" x2="379.90" y2="321.00" stroke="#0e8a46" stroke-width="0.45"/>
<line x1="379.00" y1="317.00" x2="380.80" y2="317.00" stroke="#0e8a46" stroke-width="0.4"/>
<line x1="379.00" y1="321.00" x2="380.80" y2="321.00" stroke="#0e8a46" stroke-width="0.4"/>
<circle cx="379.90" cy="319.00" r="1.35" fill="#0e8a46"/>
<line x1="391.10" y1="316.60" x2="391.10" y2="320.60" stroke="#0e8a46" stroke-width="0.45"/>
<line x1="390.20" y1="316.60" x2="392.00" y2="316.60" stroke="#0e8a46" stroke-width="0.4"/>
<line x1="390.20" y1="320.60" x2="392.00" y2="320.60" stroke="#0e8a46" stroke-width="0.4"/>
<circle cx="391.10" cy="318.60" r="1.35" fill="#0e8a46"/>
<line x1="410.90" y1="317.00" x2="410.90" y2="321.00" stroke="#0e8a46" stroke-width="0.45"/>
<line x1="410.00" y1="317.00" x2="411.80" y2="317.00" stroke="#0e8a46" stroke-width="0.4"/>
<line x1="410.00" y1="321.00" x2="411.80" y2="321.00" stroke="#0e8a46" stroke-width="0.4"/>
<circle cx="410.90" cy="319.00" r="1.35" fill="#0e8a46"/>
<line x1="430.70" y1="317.00" x2="430.70" y2="321.00" stroke="#0e8a46" stroke-width="0.45"/>
<line x1="429.80" y1="317.00" x2="431.60" y2="317.00" stroke="#0e8a46" stroke-width="0.4"/>
<line x1="429.80" y1="321.00" x2="431.60" y2="321.00" stroke="#0e8a46" stroke-width="0.4"/>
<circle cx="430.70" cy="319.00" r="1.35" fill="#0e8a46"/>
<line x1="430.70" y1="314.00" x2="430.70" y2="318.00" stroke="#4cc05a" stroke-width="0.45"/>
<rect x="429.60" y="314.90" width="2.2" height="2.2" fill="#4cc05a"/>
<line x1="361.30" y1="365.20" x2="366.50" y2="365.20" stroke="#4cc05a" stroke-width="0.5"/>
<rect x="362.80" y="364.1" width="2.2" height="2.2" fill="#4cc05a"/>
<text transform="translate(370.9 368.1)" font-size="8.5" text-anchor="start" fill="#2d2d2d">Glucose challenge</text>
<line x1="361.30" y1="375.80" x2="366.50" y2="375.80" stroke="#0e8a46" stroke-width="0.5"/>
<circle cx="363.90" cy="375.8" r="1.35" fill="#0e8a46"/>
<text transform="translate(370.9 378.7)" font-size="8.5" text-anchor="start" fill="#2d2d2d">Fasting</text>
<text transform="translate(467.5 304.3) scale(1.06 1)" font-size="11.5" font-weight="bold" fill="#000" stroke="#000" stroke-width="0.3">l</text>
<text transform="translate(559.14 309.6)" font-size="8.2" text-anchor="middle" fill="#2d2d2d">Human HIP</text>
<line x1="508.00" y1="316.10" x2="508.00" y2="380.30" stroke="#555" stroke-width="0.5"/>
<line x1="508.00" y1="380.30" x2="609.90" y2="380.30" stroke="#555" stroke-width="0.5"/>
<line x1="505.20" y1="316.10" x2="508.00" y2="316.10" stroke="#555" stroke-width="0.5"/>
<text transform="translate(503.2 318.8)" font-size="7.3" text-anchor="end" fill="#2d2d2d">600</text>
<line x1="505.20" y1="337.50" x2="508.00" y2="337.50" stroke="#555" stroke-width="0.5"/>
<text transform="translate(503.2 340.2)" font-size="7.3" text-anchor="end" fill="#2d2d2d">400</text>
<line x1="505.20" y1="358.90" x2="508.00" y2="358.90" stroke="#555" stroke-width="0.5"/>
<text transform="translate(503.2 361.6)" font-size="7.3" text-anchor="end" fill="#2d2d2d">200</text>
<line x1="505.20" y1="380.30" x2="508.00" y2="380.30" stroke="#555" stroke-width="0.5"/>
<text transform="translate(503.2 383.0)" font-size="7.3" text-anchor="end" fill="#2d2d2d">0</text>
<line x1="508.38" y1="380.30" x2="508.38" y2="383.30" stroke="#555" stroke-width="0.5"/>
<text transform="translate(508.37999999999994 392.5)" font-size="7.3" text-anchor="middle" fill="#2d2d2d">&#8722;6</text>
<line x1="525.30" y1="380.30" x2="525.30" y2="383.30" stroke="#555" stroke-width="0.5"/>
<text transform="translate(525.3 392.5)" font-size="7.3" text-anchor="middle" fill="#2d2d2d">0</text>
<line x1="542.22" y1="380.30" x2="542.22" y2="383.30" stroke="#555" stroke-width="0.5"/>
<text transform="translate(542.2199999999999 392.5)" font-size="7.3" text-anchor="middle" fill="#2d2d2d">6</text>
<line x1="559.14" y1="380.30" x2="559.14" y2="383.30" stroke="#555" stroke-width="0.5"/>
<text transform="translate(559.14 392.5)" font-size="7.3" text-anchor="middle" fill="#2d2d2d">12</text>
<line x1="576.06" y1="380.30" x2="576.06" y2="383.30" stroke="#555" stroke-width="0.5"/>
<text transform="translate(576.06 392.5)" font-size="7.3" text-anchor="middle" fill="#2d2d2d">18</text>
<line x1="592.98" y1="380.30" x2="592.98" y2="383.30" stroke="#555" stroke-width="0.5"/>
<text transform="translate(592.9799999999999 392.5)" font-size="7.3" text-anchor="middle" fill="#2d2d2d">24</text>
<line x1="609.90" y1="380.30" x2="609.90" y2="383.30" stroke="#555" stroke-width="0.5"/>
<text transform="translate(609.9 392.5)" font-size="7.3" text-anchor="middle" fill="#2d2d2d">30</text>
<text transform="translate(560.04 406.0)" font-size="8.2" text-anchor="middle" fill="#2d2d2d">Days</text>
<text transform="translate(469.2 347.5) rotate(-90)" font-size="8.2" text-anchor="middle" fill="#2d2d2d">Glucose level</text>
<text transform="translate(479.2 347.5) rotate(-90)" font-size="8.2" text-anchor="middle" fill="#2d2d2d">(mg dl<tspan dy="-2.6" font-size="5.0">&#8722;1</tspan><tspan dy="2.6">)</tspan></text>
<polyline points="511.10,370.70 516.70,356.10 519.70,343.20 522.30,332.00 525.30,323.80 533.40,325.50 545.10,329.80 553.70,338.40 564.90,345.30 584.70,348.70 604.50,352.20" fill="none" stroke="#e8262d" stroke-width="0.55"/>
<line x1="511.10" y1="368.70" x2="511.10" y2="372.70" stroke="#e8262d" stroke-width="0.45"/>
<line x1="510.20" y1="368.70" x2="512.00" y2="368.70" stroke="#e8262d" stroke-width="0.4"/>
<line x1="510.20" y1="372.70" x2="512.00" y2="372.70" stroke="#e8262d" stroke-width="0.4"/>
<circle cx="511.10" cy="370.70" r="1.35" fill="#e8262d"/>
<line x1="516.70" y1="354.10" x2="516.70" y2="358.10" stroke="#e8262d" stroke-width="0.45"/>
<line x1="515.80" y1="354.10" x2="517.60" y2="354.10" stroke="#e8262d" stroke-width="0.4"/>
<line x1="515.80" y1="358.10" x2="517.60" y2="358.10" stroke="#e8262d" stroke-width="0.4"/>
<circle cx="516.70" cy="356.10" r="1.35" fill="#e8262d"/>
<line x1="519.70" y1="341.20" x2="519.70" y2="345.20" stroke="#e8262d" stroke-width="0.45"/>
<line x1="518.80" y1="341.20" x2="520.60" y2="341.20" stroke="#e8262d" stroke-width="0.4"/>
<line x1="518.80" y1="345.20" x2="520.60" y2="345.20" stroke="#e8262d" stroke-width="0.4"/>
<circle cx="519.70" cy="343.20" r="1.35" fill="#e8262d"/>
<line x1="522.30" y1="330.00" x2="522.30" y2="334.00" stroke="#e8262d" stroke-width="0.45"/>
<line x1="521.40" y1="330.00" x2="523.20" y2="330.00" stroke="#e8262d" stroke-width="0.4"/>
<line x1="521.40" y1="334.00" x2="523.20" y2="334.00" stroke="#e8262d" stroke-width="0.4"/>
<circle cx="522.30" cy="332.00" r="1.35" fill="#e8262d"/>
<line x1="525.30" y1="321.80" x2="525.30" y2="325.80" stroke="#e8262d" stroke-width="0.45"/>
<line x1="524.40" y1="321.80" x2="526.20" y2="321.80" stroke="#e8262d" stroke-width="0.4"/>
<line x1="524.40" y1="325.80" x2="526.20" y2="325.80" stroke="#e8262d" stroke-width="0.4"/>
<circle cx="525.30" cy="323.80" r="1.35" fill="#e8262d"/>
<line x1="533.40" y1="323.50" x2="533.40" y2="327.50" stroke="#e8262d" stroke-width="0.45"/>
<line x1="532.50" y1="323.50" x2="534.30" y2="323.50" stroke="#e8262d" stroke-width="0.4"/>
<line x1="532.50" y1="327.50" x2="534.30" y2="327.50" stroke="#e8262d" stroke-width="0.4"/>
<circle cx="533.40" cy="325.50" r="1.35" fill="#e8262d"/>
<line x1="545.10" y1="327.80" x2="545.10" y2="331.80" stroke="#e8262d" stroke-width="0.45"/>
<line x1="544.20" y1="327.80" x2="546.00" y2="327.80" stroke="#e8262d" stroke-width="0.4"/>
<line x1="544.20" y1="331.80" x2="546.00" y2="331.80" stroke="#e8262d" stroke-width="0.4"/>
<circle cx="545.10" cy="329.80" r="1.35" fill="#e8262d"/>
<line x1="553.70" y1="336.40" x2="553.70" y2="340.40" stroke="#e8262d" stroke-width="0.45"/>
<line x1="552.80" y1="336.40" x2="554.60" y2="336.40" stroke="#e8262d" stroke-width="0.4"/>
<line x1="552.80" y1="340.40" x2="554.60" y2="340.40" stroke="#e8262d" stroke-width="0.4"/>
<circle cx="553.70" cy="338.40" r="1.35" fill="#e8262d"/>
<line x1="564.90" y1="343.30" x2="564.90" y2="347.30" stroke="#e8262d" stroke-width="0.45"/>
<line x1="564.00" y1="343.30" x2="565.80" y2="343.30" stroke="#e8262d" stroke-width="0.4"/>
<line x1="564.00" y1="347.30" x2="565.80" y2="347.30" stroke="#e8262d" stroke-width="0.4"/>
<circle cx="564.90" cy="345.30" r="1.35" fill="#e8262d"/>
<line x1="584.70" y1="346.70" x2="584.70" y2="350.70" stroke="#e8262d" stroke-width="0.45"/>
<line x1="583.80" y1="346.70" x2="585.60" y2="346.70" stroke="#e8262d" stroke-width="0.4"/>
<line x1="583.80" y1="350.70" x2="585.60" y2="350.70" stroke="#e8262d" stroke-width="0.4"/>
<circle cx="584.70" cy="348.70" r="1.35" fill="#e8262d"/>
<line x1="604.50" y1="350.20" x2="604.50" y2="354.20" stroke="#e8262d" stroke-width="0.45"/>
<line x1="603.60" y1="350.20" x2="605.40" y2="350.20" stroke="#e8262d" stroke-width="0.4"/>
<line x1="603.60" y1="354.20" x2="605.40" y2="354.20" stroke="#e8262d" stroke-width="0.4"/>
<circle cx="604.50" cy="352.20" r="1.35" fill="#e8262d"/>
<line x1="604.50" y1="339.40" x2="604.50" y2="343.40" stroke="#f9b233" stroke-width="0.45"/>
<rect x="603.40" y="340.30" width="2.2" height="2.2" fill="#f9b233"/>
<line x1="535.00" y1="365.20" x2="540.20" y2="365.20" stroke="#f9b233" stroke-width="0.5"/>
<rect x="536.50" y="364.1" width="2.2" height="2.2" fill="#f9b233"/>
<text transform="translate(544.6 368.1)" font-size="8.5" text-anchor="start" fill="#2d2d2d">Glucose challenge</text>
<line x1="535.00" y1="375.80" x2="540.20" y2="375.80" stroke="#e8262d" stroke-width="0.5"/>
<circle cx="537.60" cy="375.8" r="1.35" fill="#e8262d"/>
<text transform="translate(544.6 378.7)" font-size="8.5" text-anchor="start" fill="#2d2d2d">Fasting</text>
<defs>
<clipPath id="cm"><rect x="28.2" y="435.3" width="137.8" height="75.7"/></clipPath>
<clipPath id="cn"><rect x="211.4" y="435.3" width="137.8" height="75.7"/></clipPath>
<clipPath id="co"><rect x="389.8" y="435.3" width="136.2" height="75.7"/></clipPath>
<clipPath id="cp"><rect x="545.4" y="435.3" width="139.6" height="75.7"/></clipPath>
<filter id="b03" x="-5%" y="-5%" width="110%" height="110%"><feGaussianBlur stdDeviation="0.3"/></filter>
<filter id="b06" x="-5%" y="-5%" width="110%" height="110%"><feGaussianBlur stdDeviation="0.6"/></filter>
<filter id="b10" x="-5%" y="-5%" width="110%" height="110%"><feGaussianBlur stdDeviation="1.0"/></filter>
</defs>
<text transform="translate(0 428.6) scale(1.06 1)" font-size="12" font-weight="bold" fill="#000" stroke="#000" stroke-width="0.3">m</text>
<text transform="translate(96.2 431.4)" font-size="8.2" text-anchor="middle" fill="#2d2d2d">Human wt</text>
<text transform="translate(202.3 428.6) scale(1.06 1)" font-size="12" font-weight="bold" fill="#000" stroke="#000" stroke-width="0.3">n</text>
<text transform="translate(279.8 431.4)" font-size="8.2" text-anchor="middle" fill="#2d2d2d">Human DKO</text>
<text transform="translate(377.5 428.6) scale(1.06 1)" font-size="12" font-weight="bold" fill="#000" stroke="#000" stroke-width="0.3">o</text>
<text transform="translate(540.4 431.4)" font-size="8.2" text-anchor="middle" fill="#2d2d2d">Human HIP</text>
<g clip-path="url(#cm)">
<rect x="28.2" y="435.3" width="137.8" height="75.7" fill="#e05c88"/>
<ellipse cx="90.4" cy="478.0" rx="13.3" ry="5.3" fill="#da5582" opacity="0.45"/>
<ellipse cx="53.5" cy="474.4" rx="10.7" ry="7.0" fill="#e46a94" opacity="0.45"/>
<ellipse cx="89.6" cy="446.6" rx="9.8" ry="7.5" fill="#e46a94" opacity="0.45"/>
<ellipse cx="110.2" cy="465.7" rx="9.1" ry="6.7" fill="#da5582" opacity="0.45"/>
<ellipse cx="114.0" cy="498.4" rx="5.6" ry="3.2" fill="#da5582" opacity="0.45"/>
<ellipse cx="110.7" cy="494.4" rx="7.9" ry="6.0" fill="#da5582" opacity="0.45"/>
<ellipse cx="99.6" cy="484.0" rx="9.5" ry="6.3" fill="#dc5a86" opacity="0.45"/>
<ellipse cx="118.4" cy="466.5" rx="10.0" ry="7.7" fill="#e46a94" opacity="0.45"/>
<ellipse cx="125.7" cy="459.6" rx="7.1" ry="4.4" fill="#e46a94" opacity="0.45"/>
<ellipse cx="105.7" cy="444.1" rx="6.0" ry="4.5" fill="#e46a94" opacity="0.45"/>
<ellipse cx="160.2" cy="499.5" rx="5.0" ry="4.0" fill="#e46a94" opacity="0.45"/>
<ellipse cx="92.9" cy="509.5" rx="8.6" ry="3.4" fill="#da5582" opacity="0.45"/>
<ellipse cx="135.4" cy="456.2" rx="5.8" ry="4.7" fill="#dc5a86" opacity="0.45"/>
<ellipse cx="132.6" cy="444.8" rx="7.2" ry="3.5" fill="#e46a94" opacity="0.45"/>
<ellipse cx="92.2" cy="472.5" rx="11.1" ry="3.9" fill="#da5582" opacity="0.45"/>
<ellipse cx="164.0" cy="493.7" rx="8.8" ry="4.9" fill="#dc5a86" opacity="0.45"/>
<ellipse cx="86.1" cy="452.0" rx="7.4" ry="7.9" fill="#e67299" opacity="0.45"/>
<ellipse cx="165.7" cy="437.5" rx="6.7" ry="8.0" fill="#e46a94" opacity="0.45"/>
<ellipse cx="33.8" cy="447.0" rx="9.0" ry="3.0" fill="#e67299" opacity="0.45"/>
<ellipse cx="142.6" cy="465.0" rx="5.7" ry="4.0" fill="#da5582" opacity="0.45"/>
<ellipse cx="30.1" cy="463.7" rx="10.6" ry="3.6" fill="#dc5a86" opacity="0.45"/>
<ellipse cx="142.9" cy="446.2" rx="8.5" ry="6.1" fill="#e67299" opacity="0.45"/>
<ellipse cx="153.4" cy="497.3" rx="7.2" ry="3.9" fill="#da5582" opacity="0.45"/>
<ellipse cx="122.8" cy="465.1" rx="9.3" ry="3.4" fill="#e46a94" opacity="0.45"/>
<ellipse cx="42.3" cy="438.9" rx="13.7" ry="4.2" fill="#dc5a86" opacity="0.45"/>
<ellipse cx="63.5" cy="497.8" rx="10.4" ry="4.5" fill="#da5582" opacity="0.45"/>
<ellipse cx="156.2" cy="509.3" rx="6.1" ry="5.4" fill="#e46a94" opacity="0.45"/>
<ellipse cx="66.7" cy="504.8" rx="6.8" ry="3.1" fill="#e67299" opacity="0.45"/>
<ellipse cx="84.8" cy="454.7" rx="5.4" ry="4.4" fill="#da5582" opacity="0.45"/>
<ellipse cx="40.7" cy="446.4" rx="9.1" ry="4.7" fill="#da5582" opacity="0.45"/>
<ellipse cx="109.4" cy="505.3" rx="9.3" ry="4.8" fill="#e67299" opacity="0.45"/>
<ellipse cx="160.9" cy="437.6" rx="10.7" ry="5.4" fill="#e67299" opacity="0.45"/>
<ellipse cx="72.0" cy="511.0" rx="5.7" ry="5.7" fill="#e46a94" opacity="0.45"/>
<ellipse cx="152.2" cy="491.3" rx="11.3" ry="7.0" fill="#e67299" opacity="0.45"/>
<ellipse cx="76.6" cy="487.4" rx="13.1" ry="7.4" fill="#dc5a86" opacity="0.45"/>
<ellipse cx="158.3" cy="438.3" rx="9.5" ry="3.1" fill="#dc5a86" opacity="0.45"/>
<ellipse cx="80.3" cy="436.9" rx="5.7" ry="3.5" fill="#e46a94" opacity="0.45"/>
<ellipse cx="165.1" cy="502.0" rx="11.6" ry="4.9" fill="#dc5a86" opacity="0.45"/>
<ellipse cx="88.8" cy="498.9" rx="5.8" ry="6.8" fill="#e46a94" opacity="0.45"/>
<ellipse cx="70.8" cy="442.6" rx="5.2" ry="7.8" fill="#e46a94" opacity="0.45"/>
<ellipse cx="96.6" cy="482.1" rx="13.3" ry="4.3" fill="#e46a94" opacity="0.45"/>
<ellipse cx="78.8" cy="446.7" rx="10.5" ry="5.6" fill="#e67299" opacity="0.45"/>
<ellipse cx="119.1" cy="469.1" rx="13.0" ry="4.6" fill="#e67299" opacity="0.45"/>
<ellipse cx="55.4" cy="468.3" rx="12.3" ry="7.6" fill="#da5582" opacity="0.45"/>
<ellipse cx="81.0" cy="479.7" rx="7.8" ry="3.7" fill="#dc5a86" opacity="0.45"/>
<circle cx="76.4" cy="503.2" r="0.26" fill="#7a4a9a" opacity="0.45"/>
<circle cx="159.1" cy="456.8" r="0.29" fill="#a04a8a" opacity="0.45"/>
<circle cx="93.0" cy="505.4" r="0.46" fill="#a04a8a" opacity="0.45"/>
<circle cx="114.4" cy="473.0" r="0.33" fill="#c04a80" opacity="0.45"/>
<circle cx="90.4" cy="441.6" r="0.26" fill="#c04a80" opacity="0.45"/>
<circle cx="33.7" cy="489.1" r="0.39" fill="#a04a8a" opacity="0.45"/>
<circle cx="117.6" cy="478.3" r="0.41" fill="#a04a8a" opacity="0.45"/>
<circle cx="90.8" cy="437.9" r="0.46" fill="#7a4a9a" opacity="0.45"/>
<circle cx="135.5" cy="495.8" r="0.50" fill="#7a4a9a" opacity="0.45"/>
<circle cx="89.6" cy="483.2" r="0.41" fill="#a04a8a" opacity="0.45"/>
<circle cx="160.3" cy="487.3" r="0.30" fill="#a04a8a" opacity="0.45"/>
<circle cx="63.3" cy="489.6" r="0.44" fill="#c04a80" opacity="0.45"/>
<circle cx="126.6" cy="449.4" r="0.32" fill="#a04a8a" opacity="0.45"/>
<circle cx="102.5" cy="507.0" r="0.38" fill="#7a4a9a" opacity="0.45"/>
<circle cx="82.3" cy="495.4" r="0.48" fill="#7a4a9a" opacity="0.45"/>
<circle cx="84.6" cy="502.9" r="0.35" fill="#a04a8a" opacity="0.45"/>
<circle cx="90.6" cy="482.9" r="0.48" fill="#a04a8a" opacity="0.45"/>
<circle cx="103.9" cy="485.0" r="0.38" fill="#a04a8a" opacity="0.45"/>
<circle cx="92.0" cy="484.8" r="0.30" fill="#c04a80" opacity="0.45"/>
<circle cx="147.5" cy="495.9" r="0.48" fill="#7a4a9a" opacity="0.45"/>
<circle cx="57.4" cy="503.5" r="0.50" fill="#a04a8a" opacity="0.45"/>
<circle cx="102.1" cy="495.3" r="0.33" fill="#c04a80" opacity="0.45"/>
<circle cx="146.1" cy="462.1" r="0.27" fill="#a04a8a" opacity="0.45"/>
<circle cx="75.2" cy="467.6" r="0.32" fill="#7a4a9a" opacity="0.45"/>
<circle cx="58.1" cy="501.1" r="0.36" fill="#7a4a9a" opacity="0.45"/>
<circle cx="51.9" cy="461.1" r="0.45" fill="#7a4a9a" opacity="0.45"/>
<circle cx="92.9" cy="511.0" r="0.48" fill="#c04a80" opacity="0.45"/>
<circle cx="143.9" cy="487.7" r="0.49" fill="#a04a8a" opacity="0.45"/>
<circle cx="107.9" cy="487.7" r="0.44" fill="#a04a8a" opacity="0.45"/>
<circle cx="100.7" cy="457.8" r="0.43" fill="#c04a80" opacity="0.45"/>
<circle cx="50.7" cy="474.6" r="0.48" fill="#a04a8a" opacity="0.45"/>
<circle cx="71.0" cy="464.6" r="0.46" fill="#c04a80" opacity="0.45"/>
<circle cx="56.7" cy="499.8" r="0.49" fill="#c04a80" opacity="0.45"/>
<circle cx="65.7" cy="473.3" r="0.35" fill="#7a4a9a" opacity="0.45"/>
<circle cx="97.4" cy="481.4" r="0.26" fill="#7a4a9a" opacity="0.45"/>
<circle cx="99.2" cy="466.0" r="0.45" fill="#c04a80" opacity="0.45"/>
<circle cx="44.8" cy="443.0" r="0.29" fill="#c04a80" opacity="0.45"/>
<circle cx="91.3" cy="505.1" r="0.45" fill="#a04a8a" opacity="0.45"/>
<circle cx="65.2" cy="471.5" r="0.28" fill="#a04a8a" opacity="0.45"/>
<circle cx="152.3" cy="506.2" r="0.48" fill="#c04a80" opacity="0.45"/>
<circle cx="71.8" cy="450.4" r="0.40" fill="#a04a8a" opacity="0.45"/>
<circle cx="45.9" cy="494.4" r="0.26" fill="#7a4a9a" opacity="0.45"/>
<circle cx="49.5" cy="436.9" r="0.32" fill="#c04a80" opacity="0.45"/>
<circle cx="77.0" cy="482.5" r="0.28" fill="#c04a80" opacity="0.45"/>
<circle cx="108.3" cy="499.9" r="0.41" fill="#c04a80" opacity="0.45"/>
<circle cx="55.3" cy="475.8" r="0.36" fill="#a04a8a" opacity="0.45"/>
<circle cx="115.4" cy="497.9" r="0.40" fill="#c04a80" opacity="0.45"/>
<circle cx="56.2" cy="483.3" r="0.41" fill="#c04a80" opacity="0.45"/>
<circle cx="57.8" cy="476.7" r="0.40" fill="#7a4a9a" opacity="0.45"/>
<circle cx="60.1" cy="491.6" r="0.45" fill="#7a4a9a" opacity="0.45"/>
<circle cx="71.6" cy="459.6" r="0.48" fill="#7a4a9a" opacity="0.45"/>
<circle cx="135.4" cy="450.6" r="0.27" fill="#7a4a9a" opacity="0.45"/>
<circle cx="46.3" cy="442.6" r="0.35" fill="#a04a8a" opacity="0.45"/>
<circle cx="142.8" cy="467.6" r="0.45" fill="#7a4a9a" opacity="0.45"/>
<circle cx="55.7" cy="483.1" r="0.45" fill="#7a4a9a" opacity="0.45"/>
<circle cx="55.7" cy="487.2" r="0.48" fill="#a04a8a" opacity="0.45"/>
<circle cx="43.9" cy="473.9" r="0.44" fill="#c04a80" opacity="0.45"/>
<circle cx="165.8" cy="498.5" r="0.45" fill="#a04a8a" opacity="0.45"/>
<circle cx="42.7" cy="438.8" r="0.39" fill="#c04a80" opacity="0.45"/>
<circle cx="152.9" cy="472.1" r="0.30" fill="#7a4a9a" opacity="0.45"/>
<circle cx="56.1" cy="499.0" r="0.50" fill="#c04a80" opacity="0.45"/>
<circle cx="41.1" cy="440.6" r="0.49" fill="#a04a8a" opacity="0.45"/>
<circle cx="38.7" cy="443.3" r="0.35" fill="#a04a8a" opacity="0.45"/>
<circle cx="99.1" cy="468.3" r="0.40" fill="#7a4a9a" opacity="0.45"/>
<circle cx="115.5" cy="439.1" r="0.30" fill="#a04a8a" opacity="0.45"/>
<circle cx="90.6" cy="491.5" r="0.35" fill="#7a4a9a" opacity="0.45"/>
<circle cx="111.5" cy="443.1" r="0.45" fill="#a04a8a" opacity="0.45"/>
<circle cx="151.3" cy="496.1" r="0.43" fill="#c04a80" opacity="0.45"/>
<circle cx="157.7" cy="478.7" r="0.30" fill="#c04a80" opacity="0.45"/>
<circle cx="163.6" cy="496.4" r="0.31" fill="#7a4a9a" opacity="0.45"/>
<circle cx="130.7" cy="494.3" r="0.45" fill="#a04a8a" opacity="0.45"/>
<circle cx="46.4" cy="460.7" r="0.38" fill="#a04a8a" opacity="0.45"/>
<circle cx="133.9" cy="493.4" r="0.35" fill="#c04a80" opacity="0.45"/>
<circle cx="53.5" cy="495.8" r="0.33" fill="#7a4a9a" opacity="0.45"/>
<circle cx="29.5" cy="462.7" r="0.41" fill="#c04a80" opacity="0.45"/>
<circle cx="34.8" cy="456.5" r="0.49" fill="#a04a8a" opacity="0.45"/>
<circle cx="74.6" cy="485.5" r="0.39" fill="#c04a80" opacity="0.45"/>
<circle cx="38.6" cy="474.6" r="0.37" fill="#7a4a9a" opacity="0.45"/>
<circle cx="124.8" cy="493.1" r="0.50" fill="#7a4a9a" opacity="0.45"/>
<circle cx="43.8" cy="444.1" r="0.31" fill="#a04a8a" opacity="0.45"/>
<circle cx="83.4" cy="439.8" r="0.30" fill="#a04a8a" opacity="0.45"/>
<circle cx="29.5" cy="455.4" r="0.32" fill="#a04a8a" opacity="0.45"/>
<circle cx="103.9" cy="474.1" r="0.49" fill="#c04a80" opacity="0.45"/>
<circle cx="144.8" cy="443.5" r="0.36" fill="#c04a80" opacity="0.45"/>
<circle cx="38.5" cy="480.8" r="0.44" fill="#7a4a9a" opacity="0.45"/>
<circle cx="81.3" cy="506.4" r="0.35" fill="#7a4a9a" opacity="0.45"/>
<circle cx="146.1" cy="476.6" r="0.40" fill="#a04a8a" opacity="0.45"/>
<circle cx="158.4" cy="467.6" r="0.38" fill="#c04a80" opacity="0.45"/>
<circle cx="71.1" cy="475.8" r="0.37" fill="#a04a8a" opacity="0.45"/>
<circle cx="105.4" cy="457.3" r="0.43" fill="#a04a8a" opacity="0.45"/>
<circle cx="31.7" cy="493.9" r="0.40" fill="#c04a80" opacity="0.45"/>
<circle cx="49.6" cy="492.6" r="0.35" fill="#a04a8a" opacity="0.45"/>
<circle cx="131.3" cy="439.8" r="0.50" fill="#a04a8a" opacity="0.45"/>
<circle cx="38.1" cy="503.9" r="0.36" fill="#a04a8a" opacity="0.45"/>
<circle cx="62.6" cy="492.7" r="0.26" fill="#7a4a9a" opacity="0.45"/>
<circle cx="157.3" cy="490.2" r="0.37" fill="#7a4a9a" opacity="0.45"/>
<circle cx="111.3" cy="444.6" r="0.41" fill="#a04a8a" opacity="0.45"/>
<circle cx="44.3" cy="500.6" r="0.34" fill="#7a4a9a" opacity="0.45"/>
<circle cx="45.2" cy="469.2" r="0.42" fill="#a04a8a" opacity="0.45"/>
<circle cx="110.9" cy="484.0" r="0.42" fill="#a04a8a" opacity="0.45"/>
<circle cx="135.4" cy="475.8" r="0.50" fill="#a04a8a" opacity="0.45"/>
<circle cx="129.3" cy="453.9" r="0.28" fill="#a04a8a" opacity="0.45"/>
<circle cx="136.2" cy="482.9" r="0.34" fill="#a04a8a" opacity="0.45"/>
<circle cx="112.2" cy="490.4" r="0.42" fill="#7a4a9a" opacity="0.45"/>
<circle cx="115.4" cy="492.5" r="0.30" fill="#7a4a9a" opacity="0.45"/>
<circle cx="97.3" cy="485.0" r="0.30" fill="#c04a80" opacity="0.45"/>
<circle cx="33.5" cy="440.6" r="0.32" fill="#a04a8a" opacity="0.45"/>
<circle cx="31.7" cy="438.9" r="0.31" fill="#a04a8a" opacity="0.45"/>
<circle cx="38.0" cy="442.5" r="0.42" fill="#c04a80" opacity="0.45"/>
<circle cx="60.4" cy="509.6" r="0.37" fill="#a04a8a" opacity="0.45"/>
<circle cx="57.1" cy="461.8" r="0.44" fill="#7a4a9a" opacity="0.45"/>
<circle cx="138.7" cy="469.5" r="0.46" fill="#7a4a9a" opacity="0.45"/>
<circle cx="89.3" cy="492.0" r="0.35" fill="#7a4a9a" opacity="0.45"/>
<circle cx="78.9" cy="485.0" r="0.50" fill="#a04a8a" opacity="0.45"/>
<circle cx="68.1" cy="492.9" r="0.46" fill="#7a4a9a" opacity="0.45"/>
<circle cx="87.0" cy="463.7" r="0.27" fill="#a04a8a" opacity="0.45"/>
<circle cx="38.8" cy="442.2" r="0.39" fill="#a04a8a" opacity="0.45"/>
<circle cx="140.5" cy="470.8" r="0.46" fill="#7a4a9a" opacity="0.45"/>
<circle cx="38.5" cy="452.0" r="0.42" fill="#7a4a9a" opacity="0.45"/>
<circle cx="123.9" cy="473.1" r="0.44" fill="#a04a8a" opacity="0.45"/>
<circle cx="67.0" cy="446.7" r="0.34" fill="#c04a80" opacity="0.45"/>
<circle cx="73.1" cy="504.0" r="0.33" fill="#a04a8a" opacity="0.45"/>
<circle cx="106.6" cy="504.9" r="0.48" fill="#a04a8a" opacity="0.45"/>
<circle cx="88.4" cy="496.2" r="0.33" fill="#a04a8a" opacity="0.45"/>
<circle cx="58.5" cy="508.6" r="0.43" fill="#c04a80" opacity="0.45"/>
<circle cx="62.3" cy="463.1" r="0.34" fill="#a04a8a" opacity="0.45"/>
<circle cx="121.4" cy="479.9" r="0.45" fill="#c04a80" opacity="0.45"/>
<circle cx="105.8" cy="495.8" r="0.39" fill="#c04a80" opacity="0.45"/>
<circle cx="105.7" cy="449.2" r="0.44" fill="#a04a8a" opacity="0.45"/>
<circle cx="140.0" cy="452.6" r="0.26" fill="#7a4a9a" opacity="0.45"/>
<circle cx="106.3" cy="508.5" r="0.41" fill="#a04a8a" opacity="0.45"/>
<circle cx="36.8" cy="477.0" r="0.45" fill="#7a4a9a" opacity="0.45"/>
<circle cx="74.2" cy="456.5" r="0.28" fill="#a04a8a" opacity="0.45"/>
<circle cx="39.7" cy="483.6" r="0.29" fill="#c04a80" opacity="0.45"/>
<circle cx="140.6" cy="467.7" r="0.43" fill="#a04a8a" opacity="0.45"/>
<circle cx="133.6" cy="475.1" r="0.44" fill="#a04a8a" opacity="0.45"/>
<circle cx="76.4" cy="496.5" r="0.33" fill="#7a4a9a" opacity="0.45"/>
<circle cx="96.1" cy="476.3" r="0.43" fill="#c04a80" opacity="0.45"/>
<circle cx="113.3" cy="439.5" r="0.44" fill="#c04a80" opacity="0.45"/>
<circle cx="76.2" cy="436.3" r="0.34" fill="#7a4a9a" opacity="0.45"/>
<circle cx="150.6" cy="507.8" r="0.41" fill="#c04a80" opacity="0.45"/>
<circle cx="78.0" cy="436.8" r="0.28" fill="#a04a8a" opacity="0.45"/>
<circle cx="154.3" cy="454.4" r="0.29" fill="#c04a80" opacity="0.45"/>
<circle cx="79.8" cy="448.6" r="0.30" fill="#a04a8a" opacity="0.45"/>
<circle cx="101.0" cy="456.6" r="0.47" fill="#a04a8a" opacity="0.45"/>
<circle cx="70.6" cy="444.6" r="0.41" fill="#7a4a9a" opacity="0.45"/>
<circle cx="153.9" cy="492.5" r="0.25" fill="#a04a8a" opacity="0.45"/>
<circle cx="153.5" cy="438.7" r="0.28" fill="#7a4a9a" opacity="0.45"/>
<circle cx="77.6" cy="480.1" r="0.40" fill="#a04a8a" opacity="0.45"/>
<circle cx="110.1" cy="452.8" r="0.30" fill="#a04a8a" opacity="0.45"/>
<circle cx="83.5" cy="504.3" r="0.48" fill="#c04a80" opacity="0.45"/>
<circle cx="103.7" cy="497.3" r="0.37" fill="#a04a8a" opacity="0.45"/>
<circle cx="94.9" cy="466.2" r="0.49" fill="#c04a80" opacity="0.45"/>
<circle cx="103.5" cy="507.8" r="0.37" fill="#7a4a9a" opacity="0.45"/>
<circle cx="83.1" cy="452.3" r="0.28" fill="#a04a8a" opacity="0.45"/>
<circle cx="162.7" cy="495.6" r="0.44" fill="#7a4a9a" opacity="0.45"/>
<circle cx="118.7" cy="453.8" r="0.25" fill="#a04a8a" opacity="0.45"/>
<circle cx="152.9" cy="469.8" r="0.31" fill="#a04a8a" opacity="0.45"/>
<circle cx="111.6" cy="447.8" r="0.29" fill="#a04a8a" opacity="0.45"/>
<circle cx="48.0" cy="504.1" r="0.45" fill="#7a4a9a" opacity="0.45"/>
<circle cx="115.9" cy="510.5" r="0.32" fill="#c04a80" opacity="0.45"/>
<circle cx="35.3" cy="478.9" r="0.29" fill="#7a4a9a" opacity="0.45"/>
<circle cx="141.4" cy="499.5" r="0.46" fill="#7a4a9a" opacity="0.45"/>
<circle cx="76.5" cy="482.1" r="0.38" fill="#a04a8a" opacity="0.45"/>
<circle cx="123.7" cy="442.2" r="0.44" fill="#c04a80" opacity="0.45"/>
<circle cx="146.3" cy="458.8" r="0.45" fill="#a04a8a" opacity="0.45"/>
<circle cx="54.6" cy="487.2" r="0.45" fill="#a04a8a" opacity="0.45"/>
<circle cx="56.8" cy="476.8" r="0.38" fill="#7a4a9a" opacity="0.45"/>
<circle cx="158.6" cy="508.3" r="0.33" fill="#a04a8a" opacity="0.45"/>
<circle cx="38.5" cy="458.9" r="0.37" fill="#c04a80" opacity="0.45"/>
<circle cx="37.3" cy="441.6" r="0.29" fill="#c04a80" opacity="0.45"/>
<circle cx="82.4" cy="470.6" r="0.49" fill="#7a4a9a" opacity="0.45"/>
<circle cx="118.2" cy="436.9" r="0.34" fill="#c04a80" opacity="0.45"/>
<circle cx="93.6" cy="458.0" r="0.28" fill="#7a4a9a" opacity="0.45"/>
<circle cx="146.1" cy="499.3" r="0.43" fill="#c04a80" opacity="0.45"/>
<circle cx="49.0" cy="483.1" r="0.48" fill="#c04a80" opacity="0.45"/>
<circle cx="69.2" cy="461.3" r="0.35" fill="#c04a80" opacity="0.45"/>
<circle cx="40.0" cy="450.1" r="0.34" fill="#7a4a9a" opacity="0.45"/>
<circle cx="73.5" cy="506.9" r="0.39" fill="#c04a80" opacity="0.45"/>
<circle cx="116.4" cy="469.5" r="0.35" fill="#7a4a9a" opacity="0.45"/>
<circle cx="47.4" cy="443.1" r="0.42" fill="#c04a80" opacity="0.45"/>
<circle cx="52.7" cy="450.5" r="0.26" fill="#a04a8a" opacity="0.45"/>
<circle cx="109.8" cy="442.8" r="0.31" fill="#7a4a9a" opacity="0.45"/>
<circle cx="164.3" cy="468.5" r="0.44" fill="#a04a8a" opacity="0.45"/>
<circle cx="155.0" cy="468.0" r="0.38" fill="#c04a80" opacity="0.45"/>
<circle cx="56.4" cy="447.1" r="0.42" fill="#a04a8a" opacity="0.45"/>
<circle cx="73.7" cy="466.9" r="0.25" fill="#a04a8a" opacity="0.45"/>
<circle cx="112.6" cy="459.8" r="0.45" fill="#7a4a9a" opacity="0.45"/>
<circle cx="119.1" cy="481.6" r="0.25" fill="#a04a8a" opacity="0.45"/>
<circle cx="54.0" cy="459.0" r="0.36" fill="#c04a80" opacity="0.45"/>
<circle cx="80.1" cy="474.2" r="0.45" fill="#7a4a9a" opacity="0.45"/>
<circle cx="112.4" cy="447.9" r="0.44" fill="#a04a8a" opacity="0.45"/>
<circle cx="103.7" cy="462.4" r="0.38" fill="#7a4a9a" opacity="0.45"/>
<circle cx="107.2" cy="450.9" r="0.48" fill="#c04a80" opacity="0.45"/>
<circle cx="125.5" cy="506.2" r="0.39" fill="#7a4a9a" opacity="0.45"/>
<circle cx="114.5" cy="450.8" r="0.27" fill="#7a4a9a" opacity="0.45"/>
<circle cx="93.9" cy="467.3" r="0.33" fill="#7a4a9a" opacity="0.45"/>
<circle cx="156.2" cy="463.1" r="0.37" fill="#7a4a9a" opacity="0.45"/>
<circle cx="90.4" cy="490.7" r="0.31" fill="#c04a80" opacity="0.45"/>
<circle cx="103.0" cy="478.1" r="0.39" fill="#a04a8a" opacity="0.45"/>
<circle cx="51.3" cy="491.9" r="0.47" fill="#a04a8a" opacity="0.45"/>
<circle cx="111.0" cy="445.2" r="0.46" fill="#a04a8a" opacity="0.45"/>
<circle cx="122.5" cy="463.3" r="0.44" fill="#a04a8a" opacity="0.45"/>
<circle cx="142.6" cy="449.9" r="0.39" fill="#7a4a9a" opacity="0.45"/>
<circle cx="90.7" cy="466.3" r="0.45" fill="#c04a80" opacity="0.45"/>
<circle cx="47.1" cy="492.7" r="0.46" fill="#a04a8a" opacity="0.45"/>
<circle cx="112.9" cy="484.0" r="0.44" fill="#7a4a9a" opacity="0.45"/>
<circle cx="55.5" cy="471.1" r="0.29" fill="#a04a8a" opacity="0.45"/>
<circle cx="44.3" cy="466.4" r="0.33" fill="#7a4a9a" opacity="0.45"/>
<circle cx="64.4" cy="478.6" r="0.33" fill="#c04a80" opacity="0.45"/>
<circle cx="136.2" cy="490.1" r="0.45" fill="#a04a8a" opacity="0.45"/>
<circle cx="160.4" cy="481.0" r="0.37" fill="#a04a8a" opacity="0.45"/>
<circle cx="151.7" cy="504.5" r="0.39" fill="#a04a8a" opacity="0.45"/>
<circle cx="131.7" cy="472.4" r="0.50" fill="#c04a80" opacity="0.45"/>
<circle cx="84.4" cy="468.5" r="0.39" fill="#c04a80" opacity="0.45"/>
<circle cx="73.6" cy="475.1" r="0.36" fill="#7a4a9a" opacity="0.45"/>
<circle cx="72.3" cy="440.1" r="0.43" fill="#a04a8a" opacity="0.45"/>
<circle cx="129.0" cy="480.8" r="0.44" fill="#a04a8a" opacity="0.45"/>
<circle cx="149.8" cy="501.8" r="0.31" fill="#a04a8a" opacity="0.45"/>
<circle cx="61.4" cy="501.5" r="0.49" fill="#a04a8a" opacity="0.45"/>
<circle cx="123.9" cy="475.5" r="0.31" fill="#a04a8a" opacity="0.45"/>
<circle cx="118.6" cy="506.5" r="0.47" fill="#c04a80" opacity="0.45"/>
<circle cx="161.4" cy="485.9" r="0.47" fill="#a04a8a" opacity="0.45"/>
<circle cx="105.8" cy="448.3" r="0.41" fill="#a04a8a" opacity="0.45"/>
<circle cx="106.2" cy="503.8" r="0.27" fill="#7a4a9a" opacity="0.45"/>
<circle cx="45.1" cy="476.3" r="0.49" fill="#7a4a9a" opacity="0.45"/>
<circle cx="68.9" cy="490.6" r="0.26" fill="#7a4a9a" opacity="0.45"/>
<circle cx="36.6" cy="503.1" r="0.45" fill="#a04a8a" opacity="0.45"/>
<circle cx="47.5" cy="487.9" r="0.31" fill="#a04a8a" opacity="0.45"/>
<circle cx="32.3" cy="503.4" r="0.33" fill="#a04a8a" opacity="0.45"/>
<circle cx="47.8" cy="494.2" r="0.44" fill="#7a4a9a" opacity="0.45"/>
<circle cx="56.0" cy="500.4" r="0.42" fill="#7a4a9a" opacity="0.45"/>
<circle cx="55.0" cy="498.8" r="0.34" fill="#a04a8a" opacity="0.45"/>
<circle cx="30.2" cy="483.7" r="0.42" fill="#c04a80" opacity="0.45"/>
<circle cx="55.9" cy="483.4" r="0.30" fill="#7a4a9a" opacity="0.45"/>
<circle cx="117.7" cy="459.0" r="0.45" fill="#a04a8a" opacity="0.45"/>
<circle cx="148.0" cy="489.5" r="0.28" fill="#c04a80" opacity="0.45"/>
<circle cx="160.1" cy="494.4" r="0.35" fill="#7a4a9a" opacity="0.45"/>
<circle cx="58.8" cy="459.0" r="0.43" fill="#7a4a9a" opacity="0.45"/>
<circle cx="65.1" cy="490.0" r="0.38" fill="#a04a8a" opacity="0.45"/>
<circle cx="137.1" cy="463.9" r="0.42" fill="#7a4a9a" opacity="0.45"/>
<circle cx="109.4" cy="453.2" r="0.33" fill="#7a4a9a" opacity="0.45"/>
<circle cx="120.1" cy="456.8" r="0.41" fill="#7a4a9a" opacity="0.45"/>
<circle cx="91.9" cy="441.7" r="0.48" fill="#7a4a9a" opacity="0.45"/>
<circle cx="101.3" cy="439.4" r="0.40" fill="#a04a8a" opacity="0.45"/>
<circle cx="102.1" cy="467.8" r="0.39" fill="#7a4a9a" opacity="0.45"/>
<circle cx="67.4" cy="492.7" r="0.31" fill="#a04a8a" opacity="0.45"/>
<circle cx="129.3" cy="438.2" r="0.45" fill="#7a4a9a" opacity="0.45"/>
<circle cx="164.3" cy="438.5" r="0.37" fill="#c04a80" opacity="0.45"/>
<circle cx="81.1" cy="505.7" r="0.37" fill="#7a4a9a" opacity="0.45"/>
<circle cx="36.8" cy="494.3" r="0.48" fill="#a04a8a" opacity="0.45"/>
<circle cx="118.8" cy="494.7" r="0.38" fill="#c04a80" opacity="0.45"/>
<circle cx="142.1" cy="483.6" r="0.50" fill="#c04a80" opacity="0.45"/>
<circle cx="159.3" cy="449.0" r="0.44" fill="#7a4a9a" opacity="0.45"/>
<circle cx="43.5" cy="468.7" r="0.42" fill="#c04a80" opacity="0.45"/>
<circle cx="134.7" cy="495.0" r="0.45" fill="#7a4a9a" opacity="0.45"/>
<circle cx="63.8" cy="476.8" r="0.46" fill="#c04a80" opacity="0.45"/>
<circle cx="96.9" cy="438.7" r="0.40" fill="#c04a80" opacity="0.45"/>
<circle cx="35.2" cy="469.6" r="0.47" fill="#a04a8a" opacity="0.45"/>
<circle cx="48.9" cy="437.3" r="0.37" fill="#a04a8a" opacity="0.45"/>
<g filter="url(#b03)">
<polyline points="142.49,453.17 140.79,463.75 136.56,471.16 136.77,482.80 140.37,493.39 146.72,499.74 156.24,505.03 166.83,509.90" fill="none" stroke="#fff" stroke-width="3.0" stroke-linejoin="round" stroke-linecap="round"/>
<polyline points="136.56,471.16 136.77,482.80 139.31,491.27" fill="none" stroke="#fff" stroke-width="3.8" stroke-linejoin="round" stroke-linecap="round"/>
<polyline points="130.84,445.12 137.19,449.36 142.49,453.17" fill="none" stroke="#fff" stroke-width="2.0" stroke-linejoin="round" stroke-linecap="round"/>
<polyline points="142.49,453.17 152.01,449.99 157.30,444.70 161.54,439.41 165.14,434.54" fill="none" stroke="#fff" stroke-width="2.6" stroke-linejoin="round" stroke-linecap="round"/>
<polyline points="157.30,444.70 165.77,448.93" fill="none" stroke="#fff" stroke-width="1.6" stroke-linejoin="round" stroke-linecap="round"/>
<polyline points="141.43,463.75 152.01,459.52 166.83,453.17" fill="none" stroke="#fff" stroke-width="1.3" stroke-linejoin="round" stroke-linecap="round"/>
<polyline points="136.56,471.16 152.01,467.56 166.83,464.18" fill="none" stroke="#fff" stroke-width="1.0" stroke-linejoin="round" stroke-linecap="round"/>
<polyline points="139.31,489.15 152.01,484.92 166.83,481.11" fill="none" stroke="#fff" stroke-width="0.9" stroke-linejoin="round" stroke-linecap="round"/>
<polyline points="106.50,460.58 118.14,463.75 128.73,467.99 136.56,471.16" fill="none" stroke="#fff" stroke-width="1.1" stroke-linejoin="round" stroke-linecap="round"/>
<polyline points="106.50,460.58 113.91,452.75 122.38,448.51 130.84,445.12" fill="none" stroke="#fff" stroke-width="1.3" stroke-linejoin="round" stroke-linecap="round"/>
<polyline points="111.37,435.18 113.91,441.53 122.38,443.64 130.84,445.12" fill="none" stroke="#fff" stroke-width="1.3" stroke-linejoin="round" stroke-linecap="round"/>
<polyline points="130.84,445.12 131.90,439.41 134.02,434.54" fill="none" stroke="#fff" stroke-width="1.0" stroke-linejoin="round" stroke-linecap="round"/>
<polyline points="105.44,485.34 118.14,478.15 128.73,474.34 136.56,471.80" fill="none" stroke="#fff" stroke-width="1.3" stroke-linejoin="round" stroke-linecap="round"/>
<polyline points="104.38,487.46 107.98,492.33 110.73,495.93 112.85,501.86" fill="none" stroke="#fff" stroke-width="2.2" stroke-linejoin="round" stroke-linecap="round"/>
<polyline points="112.85,501.86 124.49,493.81 131.90,491.27 139.31,490.21" fill="none" stroke="#fff" stroke-width="1.1" stroke-linejoin="round" stroke-linecap="round"/>
<polyline points="112.85,501.86 119.20,506.09 135.08,506.51 152.01,511.38" fill="none" stroke="#fff" stroke-width="1.3" stroke-linejoin="round" stroke-linecap="round"/>
<polyline points="81.10,435.18 88.51,440.04 95.28,445.12 103.75,454.23 106.50,460.58" fill="none" stroke="#fff" stroke-width="1.0" stroke-linejoin="round" stroke-linecap="round"/>
<polyline points="106.50,460.58 102.05,470.10 99.72,480.69 104.38,487.46" fill="none" stroke="#fff" stroke-width="0.8" stroke-linejoin="round" stroke-linecap="round"/>
<polyline points="106.50,460.58 108.62,466.93 107.13,477.51 105.44,485.34" fill="none" stroke="#fff" stroke-width="0.9" stroke-linejoin="round" stroke-linecap="round"/>
<polyline points="99.09,511.38 108.62,505.03 112.85,501.86" fill="none" stroke="#fff" stroke-width="1.0" stroke-linejoin="round" stroke-linecap="round"/>
<polyline points="28.18,466.29 46.17,462.06 67.34,457.40 86.39,452.11 99.09,447.88 111.79,442.16" fill="none" stroke="#fff" stroke-width="0.45" stroke-linejoin="round" stroke-linecap="round"/>
<polyline points="28.18,481.75 50.40,477.72 73.69,474.34 88.51,475.40 99.51,478.15" fill="none" stroke="#fff" stroke-width="0.55" stroke-linejoin="round" stroke-linecap="round"/>
<polyline points="74.11,474.34 78.98,460.58 83.21,449.36 82.15,440.47 80.46,435.18" fill="none" stroke="#fff" stroke-width="0.45" stroke-linejoin="round" stroke-linecap="round"/>
<polyline points="28.18,489.58 46.17,487.67 67.34,485.98 80.46,482.80" fill="none" stroke="#fff" stroke-width="0.45" stroke-linejoin="round" stroke-linecap="round"/>
<polyline points="78.98,460.58 92.74,463.75 106.50,460.58" fill="none" stroke="#fff" stroke-width="0.4" stroke-linejoin="round" stroke-linecap="round"/>
<polyline points="28.18,501.86 50.40,500.16 73.69,501.86 88.51,506.51 99.09,511.38" fill="none" stroke="#fff" stroke-width="0.4" stroke-linejoin="round" stroke-linecap="round"/>
</g>
<polyline points="33.47,444.70 39.82,451.05 48.29,460.58" fill="none" stroke="#6a4aa0" stroke-width="0.5" stroke-linejoin="round" stroke-linecap="round" opacity="0.55"/>
<polyline points="74.75,474.34 77.92,484.92 81.73,495.51" fill="none" stroke="#6a4aa0" stroke-width="0.6" stroke-linejoin="round" stroke-linecap="round" opacity="0.55"/>
<polyline points="76.86,477.51 88.51,472.22 94.86,470.10" fill="none" stroke="#6a4aa0" stroke-width="0.5" stroke-linejoin="round" stroke-linecap="round" opacity="0.45"/>
</g>
<rect x="31.7" y="505.0" width="16.4" height="2.2" fill="#000"/>
<text transform="translate(30.2 502.0)" font-size="8.7" text-anchor="start" fill="#2d2d2d">200 &#181;m</text>
<g clip-path="url(#cn)">
<rect x="211.4" y="435.3" width="137.8" height="75.7" fill="#eb819e"/>
<ellipse cx="280.5" cy="490.2" rx="14.6" ry="2.1" transform="rotate(18 280.5 490.2)" fill="#ee89a4" opacity="0.5"/>
<ellipse cx="336.2" cy="478.7" rx="11.4" ry="4.4" transform="rotate(18 336.2 478.7)" fill="#e66f90" opacity="0.5"/>
<ellipse cx="297.0" cy="440.0" rx="10.3" ry="4.1" transform="rotate(18 297.0 440.0)" fill="#f092ab" opacity="0.5"/>
<ellipse cx="316.6" cy="473.4" rx="12.5" ry="3.5" transform="rotate(18 316.6 473.4)" fill="#e87897" opacity="0.5"/>
<ellipse cx="246.2" cy="448.0" rx="12.9" ry="4.5" transform="rotate(18 246.2 448.0)" fill="#e87897" opacity="0.5"/>
<ellipse cx="219.4" cy="466.8" rx="9.6" ry="2.6" transform="rotate(18 219.4 466.8)" fill="#ee89a4" opacity="0.5"/>
<ellipse cx="228.7" cy="492.7" rx="12.0" ry="2.4" transform="rotate(18 228.7 492.7)" fill="#e87897" opacity="0.5"/>
<ellipse cx="283.0" cy="509.9" rx="6.0" ry="3.2" transform="rotate(18 283.0 509.9)" fill="#e66f90" opacity="0.5"/>
<ellipse cx="223.6" cy="477.7" rx="10.7" ry="4.8" transform="rotate(18 223.6 477.7)" fill="#ee89a4" opacity="0.5"/>
<ellipse cx="304.8" cy="489.8" rx="15.8" ry="3.8" transform="rotate(18 304.8 489.8)" fill="#f092ab" opacity="0.5"/>
<ellipse cx="245.9" cy="477.4" rx="8.4" ry="3.4" transform="rotate(18 245.9 477.4)" fill="#e66f90" opacity="0.5"/>
<ellipse cx="261.2" cy="461.3" rx="15.8" ry="3.8" transform="rotate(18 261.2 461.3)" fill="#ee89a4" opacity="0.5"/>
<ellipse cx="233.1" cy="479.9" rx="15.9" ry="4.2" transform="rotate(18 233.1 479.9)" fill="#e66f90" opacity="0.5"/>
<ellipse cx="274.8" cy="465.5" rx="14.4" ry="3.1" transform="rotate(18 274.8 465.5)" fill="#ee89a4" opacity="0.5"/>
<ellipse cx="240.7" cy="462.1" rx="7.8" ry="3.6" transform="rotate(18 240.7 462.1)" fill="#e66f90" opacity="0.5"/>
<ellipse cx="277.3" cy="466.0" rx="11.9" ry="4.3" transform="rotate(18 277.3 466.0)" fill="#e87897" opacity="0.5"/>
<ellipse cx="272.7" cy="510.5" rx="12.8" ry="4.6" transform="rotate(18 272.7 510.5)" fill="#e66f90" opacity="0.5"/>
<ellipse cx="285.6" cy="467.4" rx="6.5" ry="2.8" transform="rotate(18 285.6 467.4)" fill="#f092ab" opacity="0.5"/>
<ellipse cx="296.7" cy="474.9" rx="13.4" ry="3.5" transform="rotate(18 296.7 474.9)" fill="#e66f90" opacity="0.5"/>
<ellipse cx="248.1" cy="463.1" rx="7.5" ry="4.8" transform="rotate(18 248.1 463.1)" fill="#f092ab" opacity="0.5"/>
<ellipse cx="229.9" cy="454.1" rx="14.4" ry="2.4" transform="rotate(18 229.9 454.1)" fill="#f092ab" opacity="0.5"/>
<ellipse cx="326.8" cy="469.7" rx="14.5" ry="3.1" transform="rotate(18 326.8 469.7)" fill="#f092ab" opacity="0.5"/>
<ellipse cx="317.4" cy="474.9" rx="6.5" ry="3.2" transform="rotate(18 317.4 474.9)" fill="#e66f90" opacity="0.5"/>
<ellipse cx="278.4" cy="450.1" rx="11.1" ry="2.4" transform="rotate(18 278.4 450.1)" fill="#e66f90" opacity="0.5"/>
<ellipse cx="254.1" cy="467.8" rx="11.4" ry="2.4" transform="rotate(18 254.1 467.8)" fill="#f092ab" opacity="0.5"/>
<ellipse cx="254.3" cy="469.9" rx="9.8" ry="4.6" transform="rotate(18 254.3 469.9)" fill="#f092ab" opacity="0.5"/>
<ellipse cx="284.8" cy="469.7" rx="7.4" ry="3.6" transform="rotate(18 284.8 469.7)" fill="#f092ab" opacity="0.5"/>
<ellipse cx="242.2" cy="457.9" rx="9.4" ry="2.6" transform="rotate(18 242.2 457.9)" fill="#ee89a4" opacity="0.5"/>
<ellipse cx="328.1" cy="492.0" rx="10.8" ry="2.0" transform="rotate(18 328.1 492.0)" fill="#f092ab" opacity="0.5"/>
<ellipse cx="302.1" cy="441.0" rx="14.5" ry="3.7" transform="rotate(18 302.1 441.0)" fill="#f092ab" opacity="0.5"/>
<ellipse cx="303.0" cy="507.6" rx="14.7" ry="2.7" transform="rotate(18 303.0 507.6)" fill="#f092ab" opacity="0.5"/>
<ellipse cx="223.4" cy="468.1" rx="9.9" ry="2.2" transform="rotate(18 223.4 468.1)" fill="#e87897" opacity="0.5"/>
<ellipse cx="339.4" cy="457.3" rx="13.0" ry="2.7" transform="rotate(18 339.4 457.3)" fill="#e87897" opacity="0.5"/>
<ellipse cx="238.9" cy="493.6" rx="9.5" ry="4.1" transform="rotate(18 238.9 493.6)" fill="#ee89a4" opacity="0.5"/>
<ellipse cx="313.5" cy="504.1" rx="14.0" ry="3.4" transform="rotate(18 313.5 504.1)" fill="#f092ab" opacity="0.5"/>
<ellipse cx="307.8" cy="477.5" rx="13.0" ry="2.1" transform="rotate(18 307.8 477.5)" fill="#e87897" opacity="0.5"/>
<ellipse cx="227.6" cy="504.2" rx="15.1" ry="2.8" transform="rotate(18 227.6 504.2)" fill="#e87897" opacity="0.5"/>
<ellipse cx="279.4" cy="479.9" rx="10.7" ry="3.0" transform="rotate(18 279.4 479.9)" fill="#f092ab" opacity="0.5"/>
<ellipse cx="221.0" cy="438.7" rx="9.2" ry="3.1" transform="rotate(18 221.0 438.7)" fill="#f092ab" opacity="0.5"/>
<ellipse cx="247.1" cy="486.1" rx="7.9" ry="3.4" transform="rotate(18 247.1 486.1)" fill="#f092ab" opacity="0.5"/>
<ellipse cx="342.7" cy="463.2" rx="11.8" ry="4.8" transform="rotate(18 342.7 463.2)" fill="#ee89a4" opacity="0.5"/>
<ellipse cx="297.6" cy="482.6" rx="10.1" ry="3.2" transform="rotate(18 297.6 482.6)" fill="#f092ab" opacity="0.5"/>
<ellipse cx="220.4" cy="470.8" rx="10.5" ry="4.9" transform="rotate(18 220.4 470.8)" fill="#e87897" opacity="0.5"/>
<ellipse cx="216.3" cy="446.2" rx="11.1" ry="2.9" transform="rotate(18 216.3 446.2)" fill="#f092ab" opacity="0.5"/>
<ellipse cx="276.3" cy="437.6" rx="12.1" ry="2.8" transform="rotate(18 276.3 437.6)" fill="#f092ab" opacity="0.5"/>
<circle cx="304.9" cy="453.6" r="0.25" fill="#b07aa0" opacity="0.5"/>
<circle cx="346.2" cy="436.3" r="0.39" fill="#b07aa0" opacity="0.5"/>
<circle cx="316.6" cy="441.9" r="0.46" fill="#b07aa0" opacity="0.5"/>
<circle cx="344.7" cy="461.0" r="0.34" fill="#7a6aa8" opacity="0.5"/>
<circle cx="254.2" cy="489.7" r="0.42" fill="#b07aa0" opacity="0.5"/>
<circle cx="232.6" cy="450.4" r="0.29" fill="#9a7ab0" opacity="0.5"/>
<circle cx="296.8" cy="472.8" r="0.39" fill="#9a7ab0" opacity="0.5"/>
<circle cx="268.2" cy="463.5" r="0.42" fill="#9a7ab0" opacity="0.5"/>
<circle cx="243.7" cy="454.7" r="0.33" fill="#7a6aa8" opacity="0.5"/>
<circle cx="337.6" cy="491.3" r="0.47" fill="#7a6aa8" opacity="0.5"/>
<circle cx="323.9" cy="502.4" r="0.33" fill="#9a7ab0" opacity="0.5"/>
<circle cx="281.7" cy="486.9" r="0.26" fill="#b07aa0" opacity="0.5"/>
<circle cx="330.5" cy="501.2" r="0.26" fill="#9a7ab0" opacity="0.5"/>
<circle cx="265.8" cy="491.5" r="0.42" fill="#9a7ab0" opacity="0.5"/>
<circle cx="309.8" cy="454.9" r="0.43" fill="#9a7ab0" opacity="0.5"/>
<circle cx="236.3" cy="500.2" r="0.30" fill="#b07aa0" opacity="0.5"/>
<circle cx="325.3" cy="478.6" r="0.36" fill="#b07aa0" opacity="0.5"/>
<circle cx="228.3" cy="491.5" r="0.32" fill="#7a6aa8" opacity="0.5"/>
<circle cx="228.3" cy="464.3" r="0.42" fill="#7a6aa8" opacity="0.5"/>
<circle cx="301.0" cy="509.0" r="0.37" fill="#b07aa0" opacity="0.5"/>
<circle cx="340.9" cy="508.8" r="0.28" fill="#b07aa0" opacity="0.5"/>
<circle cx="248.4" cy="454.9" r="0.42" fill="#9a7ab0" opacity="0.5"/>
<circle cx="339.8" cy="510.2" r="0.26" fill="#b07aa0" opacity="0.5"/>
<circle cx="348.6" cy="501.3" r="0.30" fill="#9a7ab0" opacity="0.5"/>
<circle cx="311.9" cy="510.5" r="0.28" fill="#9a7ab0" opacity="0.5"/>
<circle cx="335.9" cy="498.5" r="0.46" fill="#7a6aa8" opacity="0.5"/>
<circle cx="262.5" cy="459.2" r="0.45" fill="#b07aa0" opacity="0.5"/>
<circle cx="250.2" cy="465.4" r="0.40" fill="#7a6aa8" opacity="0.5"/>
<circle cx="346.4" cy="465.2" r="0.42" fill="#b07aa0" opacity="0.5"/>
<circle cx="250.0" cy="501.0" r="0.36" fill="#7a6aa8" opacity="0.5"/>
<circle cx="287.8" cy="503.3" r="0.47" fill="#9a7ab0" opacity="0.5"/>
<circle cx="227.6" cy="460.3" r="0.25" fill="#b07aa0" opacity="0.5"/>
<circle cx="289.5" cy="456.5" r="0.35" fill="#9a7ab0" opacity="0.5"/>
<circle cx="242.4" cy="472.2" r="0.34" fill="#9a7ab0" opacity="0.5"/>
<circle cx="288.1" cy="447.4" r="0.25" fill="#9a7ab0" opacity="0.5"/>
<circle cx="303.5" cy="436.3" r="0.33" fill="#7a6aa8" opacity="0.5"/>
<circle cx="348.6" cy="451.2" r="0.47" fill="#9a7ab0" opacity="0.5"/>
<circle cx="215.4" cy="462.4" r="0.39" fill="#b07aa0" opacity="0.5"/>
<circle cx="219.0" cy="477.3" r="0.41" fill="#b07aa0" opacity="0.5"/>
<circle cx="245.8" cy="450.1" r="0.32" fill="#7a6aa8" opacity="0.5"/>
<circle cx="348.2" cy="469.2" r="0.46" fill="#b07aa0" opacity="0.5"/>
<circle cx="217.5" cy="500.3" r="0.49" fill="#b07aa0" opacity="0.5"/>
<circle cx="227.4" cy="441.6" r="0.34" fill="#b07aa0" opacity="0.5"/>
<circle cx="253.8" cy="474.6" r="0.25" fill="#7a6aa8" opacity="0.5"/>
<circle cx="219.8" cy="463.3" r="0.44" fill="#9a7ab0" opacity="0.5"/>
<circle cx="322.8" cy="495.4" r="0.43" fill="#9a7ab0" opacity="0.5"/>
<circle cx="253.5" cy="475.9" r="0.42" fill="#7a6aa8" opacity="0.5"/>
<circle cx="340.2" cy="472.2" r="0.46" fill="#9a7ab0" opacity="0.5"/>
<circle cx="245.6" cy="504.2" r="0.26" fill="#b07aa0" opacity="0.5"/>
<circle cx="230.4" cy="460.3" r="0.43" fill="#b07aa0" opacity="0.5"/>
<circle cx="301.7" cy="496.8" r="0.34" fill="#b07aa0" opacity="0.5"/>
<circle cx="273.1" cy="459.4" r="0.27" fill="#b07aa0" opacity="0.5"/>
<circle cx="255.4" cy="443.1" r="0.33" fill="#b07aa0" opacity="0.5"/>
<circle cx="235.9" cy="439.5" r="0.28" fill="#9a7ab0" opacity="0.5"/>
<circle cx="304.9" cy="449.3" r="0.28" fill="#7a6aa8" opacity="0.5"/>
<circle cx="262.4" cy="449.7" r="0.26" fill="#9a7ab0" opacity="0.5"/>
<circle cx="280.4" cy="466.3" r="0.33" fill="#b07aa0" opacity="0.5"/>
<circle cx="326.9" cy="493.1" r="0.26" fill="#7a6aa8" opacity="0.5"/>
<circle cx="255.3" cy="492.6" r="0.28" fill="#9a7ab0" opacity="0.5"/>
<circle cx="270.4" cy="508.2" r="0.30" fill="#9a7ab0" opacity="0.5"/>
<circle cx="318.7" cy="502.6" r="0.45" fill="#7a6aa8" opacity="0.5"/>
<circle cx="304.5" cy="507.1" r="0.33" fill="#7a6aa8" opacity="0.5"/>
<circle cx="318.3" cy="475.4" r="0.25" fill="#b07aa0" opacity="0.5"/>
<circle cx="298.6" cy="464.4" r="0.41" fill="#7a6aa8" opacity="0.5"/>
<circle cx="296.1" cy="461.8" r="0.36" fill="#b07aa0" opacity="0.5"/>
<circle cx="297.7" cy="473.9" r="0.39" fill="#7a6aa8" opacity="0.5"/>
<circle cx="227.8" cy="491.4" r="0.44" fill="#9a7ab0" opacity="0.5"/>
<circle cx="302.8" cy="467.5" r="0.35" fill="#7a6aa8" opacity="0.5"/>
<circle cx="262.8" cy="476.6" r="0.26" fill="#7a6aa8" opacity="0.5"/>
<circle cx="283.9" cy="469.9" r="0.32" fill="#7a6aa8" opacity="0.5"/>
<circle cx="293.1" cy="505.9" r="0.29" fill="#9a7ab0" opacity="0.5"/>
<circle cx="256.3" cy="455.2" r="0.41" fill="#7a6aa8" opacity="0.5"/>
<circle cx="312.7" cy="510.2" r="0.35" fill="#7a6aa8" opacity="0.5"/>
<circle cx="314.9" cy="503.3" r="0.28" fill="#7a6aa8" opacity="0.5"/>
<circle cx="326.9" cy="484.7" r="0.48" fill="#7a6aa8" opacity="0.5"/>
<circle cx="321.1" cy="474.4" r="0.50" fill="#7a6aa8" opacity="0.5"/>
<circle cx="236.5" cy="438.9" r="0.34" fill="#b07aa0" opacity="0.5"/>
<circle cx="322.4" cy="470.1" r="0.38" fill="#9a7ab0" opacity="0.5"/>
<circle cx="238.0" cy="457.0" r="0.41" fill="#7a6aa8" opacity="0.5"/>
<circle cx="225.8" cy="469.0" r="0.44" fill="#7a6aa8" opacity="0.5"/>
<circle cx="221.0" cy="473.2" r="0.26" fill="#b07aa0" opacity="0.5"/>
<circle cx="345.2" cy="440.9" r="0.49" fill="#9a7ab0" opacity="0.5"/>
<circle cx="235.6" cy="461.0" r="0.48" fill="#7a6aa8" opacity="0.5"/>
<circle cx="326.1" cy="444.8" r="0.30" fill="#9a7ab0" opacity="0.5"/>
<circle cx="215.3" cy="487.1" r="0.37" fill="#9a7ab0" opacity="0.5"/>
<circle cx="220.9" cy="510.1" r="0.30" fill="#b07aa0" opacity="0.5"/>
<circle cx="254.7" cy="507.8" r="0.49" fill="#b07aa0" opacity="0.5"/>
<circle cx="303.2" cy="468.3" r="0.25" fill="#9a7ab0" opacity="0.5"/>
<circle cx="307.6" cy="499.3" r="0.49" fill="#b07aa0" opacity="0.5"/>
<circle cx="294.2" cy="488.1" r="0.30" fill="#7a6aa8" opacity="0.5"/>
<circle cx="234.7" cy="479.5" r="0.26" fill="#9a7ab0" opacity="0.5"/>
<circle cx="227.0" cy="506.6" r="0.40" fill="#9a7ab0" opacity="0.5"/>
<circle cx="253.4" cy="436.6" r="0.27" fill="#7a6aa8" opacity="0.5"/>
<circle cx="312.6" cy="463.0" r="0.33" fill="#9a7ab0" opacity="0.5"/>
<circle cx="238.6" cy="441.4" r="0.32" fill="#9a7ab0" opacity="0.5"/>
<circle cx="324.2" cy="466.7" r="0.36" fill="#b07aa0" opacity="0.5"/>
<circle cx="228.1" cy="443.1" r="0.38" fill="#9a7ab0" opacity="0.5"/>
<circle cx="243.4" cy="479.4" r="0.32" fill="#9a7ab0" opacity="0.5"/>
<circle cx="342.4" cy="441.9" r="0.41" fill="#7a6aa8" opacity="0.5"/>
<circle cx="339.8" cy="465.1" r="0.44" fill="#b07aa0" opacity="0.5"/>
<circle cx="241.4" cy="484.0" r="0.34" fill="#9a7ab0" opacity="0.5"/>
<circle cx="249.8" cy="469.1" r="0.49" fill="#9a7ab0" opacity="0.5"/>
<circle cx="302.3" cy="437.0" r="0.40" fill="#7a6aa8" opacity="0.5"/>
<circle cx="267.8" cy="445.9" r="0.47" fill="#9a7ab0" opacity="0.5"/>
<circle cx="264.6" cy="456.9" r="0.28" fill="#b07aa0" opacity="0.5"/>
<circle cx="225.4" cy="485.3" r="0.36" fill="#7a6aa8" opacity="0.5"/>
<circle cx="223.2" cy="463.3" r="0.34" fill="#b07aa0" opacity="0.5"/>
<circle cx="292.5" cy="488.3" r="0.50" fill="#7a6aa8" opacity="0.5"/>
<circle cx="303.2" cy="447.7" r="0.27" fill="#7a6aa8" opacity="0.5"/>
<circle cx="275.1" cy="459.7" r="0.42" fill="#b07aa0" opacity="0.5"/>
<circle cx="219.4" cy="452.7" r="0.26" fill="#9a7ab0" opacity="0.5"/>
<circle cx="270.8" cy="453.2" r="0.39" fill="#7a6aa8" opacity="0.5"/>
<circle cx="348.7" cy="441.0" r="0.37" fill="#9a7ab0" opacity="0.5"/>
<circle cx="320.1" cy="505.9" r="0.38" fill="#b07aa0" opacity="0.5"/>
<circle cx="239.9" cy="463.7" r="0.29" fill="#9a7ab0" opacity="0.5"/>
<circle cx="224.2" cy="495.6" r="0.25" fill="#b07aa0" opacity="0.5"/>
<circle cx="307.0" cy="495.0" r="0.48" fill="#b07aa0" opacity="0.5"/>
<circle cx="323.0" cy="490.8" r="0.44" fill="#7a6aa8" opacity="0.5"/>
<circle cx="270.8" cy="447.7" r="0.34" fill="#9a7ab0" opacity="0.5"/>
<circle cx="341.3" cy="503.2" r="0.26" fill="#9a7ab0" opacity="0.5"/>
<circle cx="268.0" cy="478.1" r="0.49" fill="#7a6aa8" opacity="0.5"/>
<circle cx="252.6" cy="474.0" r="0.28" fill="#b07aa0" opacity="0.5"/>
<circle cx="243.8" cy="485.7" r="0.38" fill="#9a7ab0" opacity="0.5"/>
<circle cx="251.6" cy="494.3" r="0.31" fill="#9a7ab0" opacity="0.5"/>
<circle cx="275.4" cy="510.2" r="0.40" fill="#7a6aa8" opacity="0.5"/>
<circle cx="288.0" cy="470.5" r="0.46" fill="#7a6aa8" opacity="0.5"/>
<circle cx="322.7" cy="473.8" r="0.29" fill="#b07aa0" opacity="0.5"/>
<circle cx="283.4" cy="466.5" r="0.40" fill="#b07aa0" opacity="0.5"/>
<circle cx="344.0" cy="467.0" r="0.25" fill="#7a6aa8" opacity="0.5"/>
<circle cx="321.0" cy="444.2" r="0.43" fill="#9a7ab0" opacity="0.5"/>
<circle cx="232.6" cy="475.8" r="0.26" fill="#7a6aa8" opacity="0.5"/>
<circle cx="279.1" cy="504.4" r="0.39" fill="#7a6aa8" opacity="0.5"/>
<circle cx="264.8" cy="458.5" r="0.30" fill="#b07aa0" opacity="0.5"/>
<circle cx="226.4" cy="504.9" r="0.33" fill="#9a7ab0" opacity="0.5"/>
<circle cx="239.1" cy="510.5" r="0.39" fill="#7a6aa8" opacity="0.5"/>
<circle cx="289.4" cy="473.6" r="0.48" fill="#9a7ab0" opacity="0.5"/>
<circle cx="297.3" cy="456.1" r="0.40" fill="#7a6aa8" opacity="0.5"/>
<circle cx="261.8" cy="468.2" r="0.37" fill="#9a7ab0" opacity="0.5"/>
<circle cx="300.5" cy="461.0" r="0.28" fill="#9a7ab0" opacity="0.5"/>
<circle cx="326.3" cy="440.6" r="0.38" fill="#b07aa0" opacity="0.5"/>
<circle cx="255.5" cy="497.4" r="0.42" fill="#b07aa0" opacity="0.5"/>
<circle cx="262.3" cy="459.6" r="0.37" fill="#7a6aa8" opacity="0.5"/>
<circle cx="282.7" cy="475.5" r="0.43" fill="#9a7ab0" opacity="0.5"/>
<circle cx="267.1" cy="508.5" r="0.25" fill="#b07aa0" opacity="0.5"/>
<circle cx="260.3" cy="454.5" r="0.49" fill="#b07aa0" opacity="0.5"/>
<circle cx="261.9" cy="458.6" r="0.40" fill="#b07aa0" opacity="0.5"/>
<circle cx="218.7" cy="449.8" r="0.28" fill="#9a7ab0" opacity="0.5"/>
<circle cx="218.3" cy="443.0" r="0.31" fill="#9a7ab0" opacity="0.5"/>
<circle cx="322.5" cy="506.8" r="0.41" fill="#9a7ab0" opacity="0.5"/>
<circle cx="266.5" cy="457.4" r="0.42" fill="#7a6aa8" opacity="0.5"/>
<circle cx="265.7" cy="452.9" r="0.31" fill="#7a6aa8" opacity="0.5"/>
<circle cx="254.8" cy="497.5" r="0.45" fill="#b07aa0" opacity="0.5"/>
<circle cx="250.0" cy="511.0" r="0.37" fill="#9a7ab0" opacity="0.5"/>
<circle cx="297.2" cy="477.4" r="0.48" fill="#b07aa0" opacity="0.5"/>
<circle cx="310.0" cy="482.3" r="0.42" fill="#7a6aa8" opacity="0.5"/>
<circle cx="291.0" cy="436.4" r="0.43" fill="#9a7ab0" opacity="0.5"/>
<circle cx="257.3" cy="482.9" r="0.48" fill="#7a6aa8" opacity="0.5"/>
<circle cx="234.8" cy="442.3" r="0.42" fill="#7a6aa8" opacity="0.5"/>
<circle cx="263.1" cy="469.6" r="0.36" fill="#7a6aa8" opacity="0.5"/>
<circle cx="272.4" cy="503.3" r="0.43" fill="#7a6aa8" opacity="0.5"/>
<circle cx="343.0" cy="462.7" r="0.46" fill="#b07aa0" opacity="0.5"/>
<circle cx="226.6" cy="444.9" r="0.33" fill="#b07aa0" opacity="0.5"/>
<circle cx="288.3" cy="505.2" r="0.30" fill="#9a7ab0" opacity="0.5"/>
<circle cx="255.7" cy="446.5" r="0.49" fill="#7a6aa8" opacity="0.5"/>
<circle cx="331.6" cy="471.4" r="0.26" fill="#9a7ab0" opacity="0.5"/>
<circle cx="339.4" cy="451.0" r="0.43" fill="#9a7ab0" opacity="0.5"/>
<circle cx="279.1" cy="487.7" r="0.35" fill="#9a7ab0" opacity="0.5"/>
<circle cx="225.5" cy="491.7" r="0.29" fill="#b07aa0" opacity="0.5"/>
<circle cx="255.7" cy="437.1" r="0.46" fill="#b07aa0" opacity="0.5"/>
<circle cx="259.3" cy="480.4" r="0.38" fill="#9a7ab0" opacity="0.5"/>
<circle cx="273.5" cy="480.2" r="0.37" fill="#b07aa0" opacity="0.5"/>
<circle cx="231.4" cy="488.8" r="0.35" fill="#7a6aa8" opacity="0.5"/>
<circle cx="307.2" cy="453.5" r="0.32" fill="#b07aa0" opacity="0.5"/>
<circle cx="267.7" cy="439.4" r="0.48" fill="#9a7ab0" opacity="0.5"/>
<circle cx="263.1" cy="489.7" r="0.36" fill="#b07aa0" opacity="0.5"/>
<circle cx="220.0" cy="449.5" r="0.35" fill="#b07aa0" opacity="0.5"/>
<circle cx="273.9" cy="472.5" r="0.31" fill="#b07aa0" opacity="0.5"/>
<circle cx="225.1" cy="459.0" r="0.46" fill="#7a6aa8" opacity="0.5"/>
<circle cx="348.1" cy="462.4" r="0.29" fill="#9a7ab0" opacity="0.5"/>
<circle cx="257.0" cy="447.4" r="0.49" fill="#9a7ab0" opacity="0.5"/>
<circle cx="322.2" cy="443.3" r="0.45" fill="#7a6aa8" opacity="0.5"/>
<circle cx="347.1" cy="500.6" r="0.43" fill="#9a7ab0" opacity="0.5"/>
<circle cx="227.7" cy="493.4" r="0.40" fill="#9a7ab0" opacity="0.5"/>
<circle cx="306.1" cy="463.3" r="0.49" fill="#b07aa0" opacity="0.5"/>
<circle cx="322.4" cy="481.6" r="0.46" fill="#9a7ab0" opacity="0.5"/>
<circle cx="226.2" cy="462.9" r="0.29" fill="#9a7ab0" opacity="0.5"/>
<circle cx="303.2" cy="457.5" r="0.39" fill="#9a7ab0" opacity="0.5"/>
<circle cx="277.9" cy="456.4" r="0.32" fill="#9a7ab0" opacity="0.5"/>
<circle cx="341.2" cy="447.4" r="0.35" fill="#b07aa0" opacity="0.5"/>
<circle cx="329.0" cy="481.7" r="0.39" fill="#b07aa0" opacity="0.5"/>
<circle cx="233.5" cy="492.3" r="0.43" fill="#b07aa0" opacity="0.5"/>
<circle cx="318.0" cy="455.5" r="0.26" fill="#9a7ab0" opacity="0.5"/>
<circle cx="301.0" cy="476.7" r="0.37" fill="#b07aa0" opacity="0.5"/>
<circle cx="262.1" cy="490.7" r="0.49" fill="#b07aa0" opacity="0.5"/>
<circle cx="248.4" cy="490.5" r="0.47" fill="#7a6aa8" opacity="0.5"/>
<circle cx="342.1" cy="444.3" r="0.49" fill="#b07aa0" opacity="0.5"/>
<circle cx="313.5" cy="458.7" r="0.25" fill="#b07aa0" opacity="0.5"/>
<circle cx="343.6" cy="450.6" r="0.34" fill="#9a7ab0" opacity="0.5"/>
<circle cx="331.4" cy="440.6" r="0.42" fill="#7a6aa8" opacity="0.5"/>
<circle cx="230.4" cy="467.0" r="0.29" fill="#b07aa0" opacity="0.5"/>
<circle cx="345.4" cy="509.1" r="0.48" fill="#b07aa0" opacity="0.5"/>
<circle cx="221.7" cy="475.5" r="0.30" fill="#b07aa0" opacity="0.5"/>
<circle cx="306.9" cy="481.9" r="0.48" fill="#b07aa0" opacity="0.5"/>
<circle cx="225.0" cy="446.5" r="0.30" fill="#b07aa0" opacity="0.5"/>
<circle cx="278.2" cy="477.8" r="0.49" fill="#b07aa0" opacity="0.5"/>
<circle cx="223.3" cy="503.5" r="0.31" fill="#7a6aa8" opacity="0.5"/>
<circle cx="307.9" cy="506.4" r="0.49" fill="#7a6aa8" opacity="0.5"/>
<circle cx="329.5" cy="506.1" r="0.26" fill="#9a7ab0" opacity="0.5"/>
<circle cx="320.8" cy="510.7" r="0.39" fill="#b07aa0" opacity="0.5"/>
<circle cx="254.6" cy="448.7" r="0.44" fill="#7a6aa8" opacity="0.5"/>
<circle cx="343.4" cy="438.4" r="0.28" fill="#9a7ab0" opacity="0.5"/>
<circle cx="343.1" cy="437.8" r="0.26" fill="#7a6aa8" opacity="0.5"/>
<circle cx="306.0" cy="475.0" r="0.40" fill="#b07aa0" opacity="0.5"/>
<circle cx="322.5" cy="436.1" r="0.27" fill="#7a6aa8" opacity="0.5"/>
<circle cx="345.6" cy="498.5" r="0.35" fill="#9a7ab0" opacity="0.5"/>
<circle cx="241.3" cy="465.4" r="0.47" fill="#7a6aa8" opacity="0.5"/>
<circle cx="247.2" cy="479.9" r="0.38" fill="#9a7ab0" opacity="0.5"/>
<circle cx="282.9" cy="462.4" r="0.41" fill="#9a7ab0" opacity="0.5"/>
<circle cx="235.2" cy="447.2" r="0.31" fill="#9a7ab0" opacity="0.5"/>
<circle cx="241.5" cy="504.9" r="0.30" fill="#b07aa0" opacity="0.5"/>
<circle cx="301.3" cy="455.5" r="0.38" fill="#9a7ab0" opacity="0.5"/>
<circle cx="290.1" cy="437.7" r="0.33" fill="#7a6aa8" opacity="0.5"/>
<circle cx="252.6" cy="460.7" r="0.43" fill="#b07aa0" opacity="0.5"/>
<circle cx="215.8" cy="454.6" r="0.27" fill="#b07aa0" opacity="0.5"/>
<circle cx="316.4" cy="454.3" r="0.30" fill="#9a7ab0" opacity="0.5"/>
<circle cx="287.9" cy="446.4" r="0.42" fill="#7a6aa8" opacity="0.5"/>
<circle cx="336.7" cy="510.3" r="0.35" fill="#7a6aa8" opacity="0.5"/>
<circle cx="268.8" cy="486.3" r="0.31" fill="#7a6aa8" opacity="0.5"/>
<circle cx="263.4" cy="457.5" r="0.40" fill="#b07aa0" opacity="0.5"/>
<circle cx="220.4" cy="509.1" r="0.48" fill="#7a6aa8" opacity="0.5"/>
<circle cx="279.9" cy="464.5" r="0.27" fill="#7a6aa8" opacity="0.5"/>
<circle cx="230.8" cy="451.4" r="0.47" fill="#7a6aa8" opacity="0.5"/>
<circle cx="339.5" cy="461.6" r="0.48" fill="#7a6aa8" opacity="0.5"/>
<circle cx="321.9" cy="460.0" r="0.26" fill="#7a6aa8" opacity="0.5"/>
<circle cx="229.7" cy="486.9" r="0.47" fill="#b07aa0" opacity="0.5"/>
<circle cx="333.2" cy="486.1" r="0.34" fill="#b07aa0" opacity="0.5"/>
<circle cx="227.6" cy="456.5" r="0.48" fill="#7a6aa8" opacity="0.5"/>
<circle cx="346.7" cy="490.4" r="0.42" fill="#7a6aa8" opacity="0.5"/>
<circle cx="253.4" cy="449.7" r="0.28" fill="#b07aa0" opacity="0.5"/>
<circle cx="283.0" cy="497.2" r="0.36" fill="#b07aa0" opacity="0.5"/>
<circle cx="247.1" cy="442.9" r="0.41" fill="#7a6aa8" opacity="0.5"/>
<circle cx="221.6" cy="459.2" r="0.44" fill="#b07aa0" opacity="0.5"/>
<circle cx="280.5" cy="448.0" r="0.33" fill="#b07aa0" opacity="0.5"/>
<circle cx="225.5" cy="472.3" r="0.47" fill="#b07aa0" opacity="0.5"/>
<circle cx="274.4" cy="481.2" r="0.46" fill="#9a7ab0" opacity="0.5"/>
<circle cx="216.4" cy="447.1" r="0.37" fill="#b07aa0" opacity="0.5"/>
<circle cx="214.4" cy="493.2" r="0.35" fill="#7a6aa8" opacity="0.5"/>
<circle cx="249.9" cy="439.4" r="0.35" fill="#7a6aa8" opacity="0.5"/>
<circle cx="343.6" cy="437.8" r="0.36" fill="#9a7ab0" opacity="0.5"/>
<circle cx="295.5" cy="440.7" r="0.26" fill="#9a7ab0" opacity="0.5"/>
<circle cx="213.1" cy="458.8" r="0.26" fill="#9a7ab0" opacity="0.5"/>
<circle cx="328.0" cy="478.1" r="0.42" fill="#9a7ab0" opacity="0.5"/>
<circle cx="297.1" cy="459.8" r="0.34" fill="#b07aa0" opacity="0.5"/>
<circle cx="291.2" cy="467.3" r="0.39" fill="#9a7ab0" opacity="0.5"/>
<circle cx="246.4" cy="507.2" r="0.37" fill="#b07aa0" opacity="0.5"/>
<circle cx="340.1" cy="500.0" r="0.47" fill="#7a6aa8" opacity="0.5"/>
<circle cx="275.6" cy="478.1" r="0.48" fill="#7a6aa8" opacity="0.5"/>
<circle cx="339.9" cy="459.5" r="0.39" fill="#9a7ab0" opacity="0.5"/>
<circle cx="232.8" cy="507.1" r="0.32" fill="#7a6aa8" opacity="0.5"/>
<circle cx="298.5" cy="436.2" r="0.37" fill="#7a6aa8" opacity="0.5"/>
<g filter="url(#b03)">
<polygon points="320.37,434.12 346.83,434.12 346.83,452.75 340.48,451.48 332.01,450.63 325.66,448.93 321.85,442.58" fill="#fbf4f6"/>
<polyline points="239.93,435.18 247.34,439.62 253.69,443.64 260.46,448.09" fill="none" stroke="#fff" stroke-width="2.0" stroke-linejoin="round" stroke-linecap="round"/>
<polyline points="260.46,448.09 266.39,452.11 272.32,457.40 276.97,461.64 281.21,464.60" fill="none" stroke="#fff" stroke-width="2.6" stroke-linejoin="round" stroke-linecap="round"/>
<polyline points="281.21,464.60 285.44,467.14 296.02,470.10 310.84,471.16 323.54,470.10" fill="none" stroke="#fff" stroke-width="3.2" stroke-linejoin="round" stroke-linecap="round"/>
<polyline points="323.54,470.10 332.01,465.87 340.48,457.83 346.83,451.48" fill="none" stroke="#fff" stroke-width="2.2" stroke-linejoin="round" stroke-linecap="round"/>
<polyline points="289.67,469.26 304.49,472.22 319.31,471.37" fill="none" stroke="#fff" stroke-width="4.0" stroke-linejoin="round" stroke-linecap="round"/>
<polyline points="210.29,488.73 219.82,489.79 226.59,489.15" fill="none" stroke="#fff" stroke-width="1.2" stroke-linejoin="round" stroke-linecap="round"/>
<polyline points="266.39,489.15 276.97,491.48 293.91,493.60 315.08,494.02 327.35,492.33" fill="none" stroke="#fff" stroke-width="1.3" stroke-linejoin="round" stroke-linecap="round"/>
<polygon points="327.78,490.43 331.59,486.40 340.48,484.71 346.41,487.04 341.54,490.43 332.01,492.97" fill="#fff"/>
<polyline points="289.67,502.07 302.38,501.01 319.31,498.89 336.24,495.72 346.83,493.39" fill="none" stroke="#fff" stroke-width="0.8" stroke-linejoin="round" stroke-linecap="round"/>
<polyline points="245.22,501.86 260.04,505.03 274.86,507.36 293.91,506.51" fill="none" stroke="#fff" stroke-width="0.8" stroke-linejoin="round" stroke-linecap="round"/>
<polyline points="342.17,474.34 346.83,475.61" fill="none" stroke="#fff" stroke-width="1.2" stroke-linejoin="round" stroke-linecap="round"/>
<polyline points="250.51,460.58 251.15,467.14" fill="none" stroke="#fff" stroke-width="1.2" stroke-linejoin="round" stroke-linecap="round"/>
<polyline points="210.29,444.28 226.17,452.11 240.99,461.64 250.51,467.14 260.04,469.26" fill="none" stroke="#fff" stroke-width="0.5" stroke-linejoin="round" stroke-linecap="round"/>
<polyline points="220.88,437.29 232.52,449.99 240.99,461.64" fill="none" stroke="#fff" stroke-width="0.55" stroke-linejoin="round" stroke-linecap="round"/>
<polyline points="210.29,463.75 226.17,467.99 247.34,474.34 268.51,482.80 289.67,487.46 304.49,488.73" fill="none" stroke="#fff" stroke-width="0.45" stroke-linejoin="round" stroke-linecap="round"/>
<polyline points="210.29,477.51 230.40,481.11 251.57,486.61 266.39,489.15" fill="none" stroke="#fff" stroke-width="0.45" stroke-linejoin="round" stroke-linecap="round"/>
<polyline points="268.51,440.47 281.21,446.82 296.02,452.11 310.84,455.29 320.37,455.71" fill="none" stroke="#fff" stroke-width="0.45" stroke-linejoin="round" stroke-linecap="round"/>
<polyline points="289.67,435.81 300.26,442.58 310.84,448.93 320.37,455.71 323.54,463.75" fill="none" stroke="#fff" stroke-width="0.5" stroke-linejoin="round" stroke-linecap="round"/>
<polyline points="304.49,435.18 312.96,442.58 321.85,446.82" fill="none" stroke="#fff" stroke-width="0.5" stroke-linejoin="round" stroke-linecap="round"/>
<polyline points="253.69,457.40 268.51,463.75 279.09,471.16 289.67,477.51 304.49,481.11 323.54,481.11 340.48,477.51 346.83,475.40" fill="none" stroke="#fff" stroke-width="0.45" stroke-linejoin="round" stroke-linecap="round"/>
<polyline points="210.29,495.51 226.17,495.51 245.22,501.86" fill="none" stroke="#fff" stroke-width="0.5" stroke-linejoin="round" stroke-linecap="round"/>
<polyline points="257.92,495.51 274.86,499.32 289.67,502.07" fill="none" stroke="#fff" stroke-width="0.45" stroke-linejoin="round" stroke-linecap="round"/>
</g></g>
<rect x="214.6" y="505.0" width="16.4" height="2.2" fill="#000"/>
<text transform="translate(213.8 502.0)" font-size="8.7" text-anchor="start" fill="#2d2d2d">200 &#181;m</text>
<g clip-path="url(#co)">
<rect x="389.8" y="435.3" width="136.2" height="75.7" fill="#fcf6f8"/>
<g filter="url(#b10)">
<ellipse cx="448.51" cy="474.34" rx="19.05" ry="31.75" transform="rotate(0 448.51 474.34)" fill="#e9c3d6" opacity="0.55"/>
<ellipse cx="473.91" cy="470.10" rx="12.70" ry="21.17" transform="rotate(0 473.91 470.10)" fill="#f0d5e2" opacity="0.5"/>
<ellipse cx="514.13" cy="489.15" rx="10.58" ry="19.05" transform="rotate(0 514.13 489.15)" fill="#f1d3df" opacity="0.55"/>
<ellipse cx="437.92" cy="457.40" rx="12.70" ry="14.82" transform="rotate(0 437.92 457.40)" fill="#c9a8cc" opacity="0.45"/>
</g>
<g filter="url(#b03)">
<polygon points="388.18,434.12 421.41,434.12 424.16,444.70 428.40,459.52 434.11,480.69 440.46,497.62 447.45,512.02 388.18,512.02" fill="#dd5484"/>
<clipPath id="cblk"><polygon points="388.18,434.12 421.41,434.12 424.16,444.70 428.40,459.52 434.11,480.69 440.46,497.62 447.45,512.02 388.18,512.02"/></clipPath><g clip-path="url(#cblk)">
<polyline points="395.16,434.12 431.78,478.57 466.29,523.02" fill="none" stroke="#fdf3f6" stroke-width="0.9" stroke-linejoin="round" stroke-linecap="round"/>
<polyline points="404.48,434.12 441.10,478.57 475.60,523.02" fill="none" stroke="#fdf3f6" stroke-width="1.1" stroke-linejoin="round" stroke-linecap="round"/>
<polyline points="413.58,434.12 450.20,478.57 484.70,523.02" fill="none" stroke="#fdf3f6" stroke-width="0.8" stroke-linejoin="round" stroke-linecap="round"/>
<polyline points="388.18,438.35 424.80,482.80 459.30,527.26" fill="none" stroke="#fdf3f6" stroke-width="1.0" stroke-linejoin="round" stroke-linecap="round"/>
<polyline points="388.18,452.11 424.80,496.56 459.30,541.02" fill="none" stroke="#fdf3f6" stroke-width="0.8" stroke-linejoin="round" stroke-linecap="round"/>
<polyline points="388.18,465.87 424.80,510.32 459.30,554.78" fill="none" stroke="#fdf3f6" stroke-width="1.2" stroke-linejoin="round" stroke-linecap="round"/>
<polyline points="388.18,479.63 424.80,524.08 459.30,568.54" fill="none" stroke="#fdf3f6" stroke-width="0.7" stroke-linejoin="round" stroke-linecap="round"/>
<polyline points="388.18,493.39 424.80,537.84 459.30,582.30" fill="none" stroke="#fdf3f6" stroke-width="0.9" stroke-linejoin="round" stroke-linecap="round"/>
<polyline points="388.18,505.03 424.80,549.49 459.30,593.94" fill="none" stroke="#fdf3f6" stroke-width="0.7" stroke-linejoin="round" stroke-linecap="round"/>
</g>
<polyline points="421.41,434.12 424.16,444.70 428.40,459.52 434.11,480.69 440.46,497.62 447.45,512.02" fill="none" stroke="#fdf3f6" stroke-width="1.3" stroke-linejoin="round" stroke-linecap="round"/>
<polygon points="448.08,469.04 452.32,465.45 456.97,465.87 461.63,475.40 465.44,492.33 467.13,512.02 455.91,512.02 452.32,495.51 448.51,480.69" fill="#df5686"/>
<polyline points="453.80,470.10 458.03,487.04 461.21,512.02" fill="none" stroke="#fbeaf0" stroke-width="0.5" stroke-linejoin="round" stroke-linecap="round"/>
<ellipse cx="451.05" cy="459.10" rx="3.81" ry="2.96" transform="rotate(0 451.05 459.10)" fill="#e66a94" opacity="1"/>
<ellipse cx="457.40" cy="461.21" rx="3.18" ry="3.60" transform="rotate(20 457.40 461.21)" fill="#dc5685" opacity="1"/>
<ellipse cx="448.51" cy="453.17" rx="2.12" ry="1.69" transform="rotate(0 448.51 453.17)" fill="#e66a94" opacity="1"/>
<ellipse cx="438.98" cy="501.86" rx="2.54" ry="6.35" transform="rotate(-20 438.98 501.86)" fill="#de5283" opacity="1"/>
<ellipse cx="448.51" cy="495.51" rx="1.69" ry="3.39" transform="rotate(-20 448.51 495.51)" fill="#e66a94" opacity="1"/>
<ellipse cx="473.91" cy="441.53" rx="2.96" ry="7.62" transform="rotate(-8 473.91 441.53)" fill="#e66a94" opacity="1"/>
<ellipse cx="479.83" cy="440.47" rx="2.12" ry="5.93" transform="rotate(-5 479.83 440.47)" fill="#da4a7c" opacity="1"/>
<ellipse cx="470.73" cy="436.23" rx="2.12" ry="2.96" transform="rotate(0 470.73 436.23)" fill="#e66a94" opacity="1"/>
<ellipse cx="478.14" cy="455.29" rx="2.54" ry="4.66" transform="rotate(-10 478.14 455.29)" fill="#dc5685" opacity="1"/>
<ellipse cx="484.49" cy="438.35" rx="2.54" ry="4.23" transform="rotate(0 484.49 438.35)" fill="#dc5685" opacity="1"/>
<ellipse cx="464.38" cy="446.82" rx="3.39" ry="8.04" transform="rotate(-15 464.38 446.82)" fill="#e6aec6" opacity="0.9"/>
<ellipse cx="490.84" cy="463.75" rx="6.35" ry="13.12" transform="rotate(-15 490.84 463.75)" fill="#e66a94" opacity="1"/>
<ellipse cx="486.19" cy="481.75" rx="4.23" ry="11.64" transform="rotate(-8 486.19 481.75)" fill="#de5283" opacity="1"/>
<ellipse cx="497.19" cy="479.63" rx="5.08" ry="15.88" transform="rotate(-12 497.19 479.63)" fill="#de5283" opacity="1"/>
<ellipse cx="503.97" cy="459.52" rx="5.93" ry="13.12" transform="rotate(-18 503.97 459.52)" fill="#da4a7c" opacity="1"/>
<ellipse cx="490.84" cy="446.82" rx="4.66" ry="8.47" transform="rotate(-15 490.84 446.82)" fill="#e66a94" opacity="1"/>
<ellipse cx="500.37" cy="441.53" rx="3.81" ry="7.20" transform="rotate(-20 500.37 441.53)" fill="#e66a94" opacity="1"/>
<ellipse cx="508.84" cy="446.82" rx="4.23" ry="9.53" transform="rotate(-25 508.84 446.82)" fill="#de5283" opacity="1"/>
<ellipse cx="515.19" cy="455.29" rx="4.66" ry="10.58" transform="rotate(-28 515.19 455.29)" fill="#e25e8c" opacity="1"/>
<ellipse cx="518.78" cy="447.88" rx="2.54" ry="5.50" transform="rotate(-30 518.78 447.88)" fill="#de5283" opacity="1"/>
<ellipse cx="512.01" cy="467.99" rx="3.81" ry="10.58" transform="rotate(-20 512.01 467.99)" fill="#da4a7c" opacity="1"/>
<ellipse cx="503.54" cy="493.39" rx="4.66" ry="10.58" transform="rotate(-10 503.54 493.39)" fill="#dc5685" opacity="1"/>
<ellipse cx="495.08" cy="499.74" rx="4.23" ry="8.47" transform="rotate(-5 495.08 499.74)" fill="#e66a94" opacity="1"/>
<ellipse cx="484.49" cy="463.75" rx="2.54" ry="6.35" transform="rotate(-10 484.49 463.75)" fill="#de5283" opacity="1"/>
<ellipse cx="505.66" cy="436.66" rx="2.96" ry="2.12" transform="rotate(0 505.66 436.66)" fill="#de5283" opacity="1"/>
<ellipse cx="522.60" cy="463.75" rx="2.12" ry="5.50" transform="rotate(-25 522.60 463.75)" fill="#da4a7c" opacity="1"/>
<ellipse cx="520.90" cy="495.51" rx="3.39" ry="8.89" transform="rotate(8 520.90 495.51)" fill="#de5283" opacity="1"/>
<ellipse cx="525.14" cy="505.03" rx="2.54" ry="6.35" transform="rotate(5 525.14 505.03)" fill="#e25e8c" opacity="1"/>
<ellipse cx="514.13" cy="506.09" rx="2.54" ry="4.66" transform="rotate(0 514.13 506.09)" fill="#dc5685" opacity="1"/>
</g>
<ellipse cx="470.85" cy="495.35" rx="0.43" ry="0.70" transform="rotate(0 470.85 495.35)" fill="#b58cc0" opacity="0.55"/>
<ellipse cx="448.68" cy="477.37" rx="0.72" ry="0.52" transform="rotate(0 448.68 477.37)" fill="#8a6aa8" opacity="0.55"/>
<ellipse cx="433.56" cy="459.65" rx="0.60" ry="0.53" transform="rotate(0 433.56 459.65)" fill="#9a78b4" opacity="0.55"/>
<ellipse cx="460.81" cy="487.33" rx="0.51" ry="0.44" transform="rotate(0 460.81 487.33)" fill="#9a78b4" opacity="0.55"/>
<ellipse cx="462.93" cy="495.31" rx="0.62" ry="0.66" transform="rotate(0 462.93 495.31)" fill="#9a78b4" opacity="0.55"/>
<ellipse cx="431.69" cy="471.48" rx="0.62" ry="0.34" transform="rotate(0 431.69 471.48)" fill="#b58cc0" opacity="0.55"/>
<ellipse cx="477.85" cy="484.98" rx="0.52" ry="0.59" transform="rotate(0 477.85 484.98)" fill="#8a6aa8" opacity="0.55"/>
<ellipse cx="476.54" cy="483.97" rx="0.34" ry="0.60" transform="rotate(0 476.54 483.97)" fill="#b58cc0" opacity="0.55"/>
<ellipse cx="439.51" cy="457.58" rx="0.48" ry="0.43" transform="rotate(0 439.51 457.58)" fill="#d8a0c0" opacity="0.55"/>
<ellipse cx="479.43" cy="482.38" rx="0.37" ry="0.63" transform="rotate(0 479.43 482.38)" fill="#b58cc0" opacity="0.55"/>
<ellipse cx="449.23" cy="466.43" rx="0.48" ry="0.64" transform="rotate(0 449.23 466.43)" fill="#b58cc0" opacity="0.55"/>
<ellipse cx="456.54" cy="506.13" rx="0.59" ry="0.53" transform="rotate(0 456.54 506.13)" fill="#8a6aa8" opacity="0.55"/>
<ellipse cx="464.35" cy="439.13" rx="0.69" ry="0.53" transform="rotate(0 464.35 439.13)" fill="#9a78b4" opacity="0.55"/>
<ellipse cx="437.93" cy="482.04" rx="0.37" ry="0.38" transform="rotate(0 437.93 482.04)" fill="#8a6aa8" opacity="0.55"/>
<ellipse cx="442.61" cy="456.45" rx="0.40" ry="0.59" transform="rotate(0 442.61 456.45)" fill="#b58cc0" opacity="0.55"/>
<ellipse cx="443.42" cy="504.92" rx="0.70" ry="0.44" transform="rotate(0 443.42 504.92)" fill="#d8a0c0" opacity="0.55"/>
<ellipse cx="478.20" cy="493.59" rx="0.46" ry="0.44" transform="rotate(0 478.20 493.59)" fill="#8a6aa8" opacity="0.55"/>
<ellipse cx="428.85" cy="443.40" rx="0.62" ry="0.34" transform="rotate(0 428.85 443.40)" fill="#9a78b4" opacity="0.55"/>
<ellipse cx="441.09" cy="505.34" rx="0.47" ry="0.50" transform="rotate(0 441.09 505.34)" fill="#8a6aa8" opacity="0.55"/>
<ellipse cx="429.07" cy="440.10" rx="0.47" ry="0.54" transform="rotate(0 429.07 440.10)" fill="#8a6aa8" opacity="0.55"/>
<ellipse cx="437.08" cy="504.41" rx="0.65" ry="0.71" transform="rotate(0 437.08 504.41)" fill="#b58cc0" opacity="0.55"/>
<ellipse cx="431.93" cy="468.31" rx="0.61" ry="0.64" transform="rotate(0 431.93 468.31)" fill="#d8a0c0" opacity="0.55"/>
<ellipse cx="457.49" cy="467.33" rx="0.32" ry="0.35" transform="rotate(0 457.49 467.33)" fill="#9a78b4" opacity="0.55"/>
<ellipse cx="467.38" cy="440.45" rx="0.38" ry="0.55" transform="rotate(0 467.38 440.45)" fill="#d8a0c0" opacity="0.55"/>
<ellipse cx="468.54" cy="479.55" rx="0.71" ry="0.43" transform="rotate(0 468.54 479.55)" fill="#b58cc0" opacity="0.55"/>
<ellipse cx="464.08" cy="470.07" rx="0.50" ry="0.36" transform="rotate(0 464.08 470.07)" fill="#8a6aa8" opacity="0.55"/>
<ellipse cx="435.89" cy="454.95" rx="0.70" ry="0.55" transform="rotate(0 435.89 454.95)" fill="#b58cc0" opacity="0.55"/>
<ellipse cx="440.05" cy="487.69" rx="0.50" ry="0.37" transform="rotate(0 440.05 487.69)" fill="#8a6aa8" opacity="0.55"/>
<ellipse cx="452.64" cy="494.37" rx="0.42" ry="0.66" transform="rotate(0 452.64 494.37)" fill="#9a78b4" opacity="0.55"/>
<ellipse cx="462.72" cy="481.85" rx="0.34" ry="0.62" transform="rotate(0 462.72 481.85)" fill="#9a78b4" opacity="0.55"/>
<ellipse cx="438.72" cy="478.49" rx="0.49" ry="0.48" transform="rotate(0 438.72 478.49)" fill="#8a6aa8" opacity="0.55"/>
<ellipse cx="465.42" cy="482.10" rx="0.41" ry="0.42" transform="rotate(0 465.42 482.10)" fill="#8a6aa8" opacity="0.55"/>
<ellipse cx="479.53" cy="500.97" rx="0.71" ry="0.59" transform="rotate(0 479.53 500.97)" fill="#d8a0c0" opacity="0.55"/>
<ellipse cx="441.96" cy="452.60" rx="0.68" ry="0.53" transform="rotate(0 441.96 452.60)" fill="#8a6aa8" opacity="0.55"/>
<ellipse cx="465.90" cy="500.67" rx="0.40" ry="0.33" transform="rotate(0 465.90 500.67)" fill="#b58cc0" opacity="0.55"/>
<ellipse cx="464.19" cy="469.45" rx="0.47" ry="0.50" transform="rotate(0 464.19 469.45)" fill="#8a6aa8" opacity="0.55"/>
<ellipse cx="449.17" cy="451.88" rx="0.33" ry="0.69" transform="rotate(0 449.17 451.88)" fill="#b58cc0" opacity="0.55"/>
<ellipse cx="450.27" cy="471.32" rx="0.69" ry="0.51" transform="rotate(0 450.27 471.32)" fill="#8a6aa8" opacity="0.55"/>
<ellipse cx="462.53" cy="473.61" rx="0.66" ry="0.71" transform="rotate(0 462.53 473.61)" fill="#b58cc0" opacity="0.55"/>
<ellipse cx="466.00" cy="458.18" rx="0.62" ry="0.72" transform="rotate(0 466.00 458.18)" fill="#8a6aa8" opacity="0.55"/>
<ellipse cx="449.17" cy="484.64" rx="0.41" ry="0.64" transform="rotate(0 449.17 484.64)" fill="#d8a0c0" opacity="0.55"/>
<ellipse cx="456.22" cy="465.23" rx="0.67" ry="0.46" transform="rotate(0 456.22 465.23)" fill="#8a6aa8" opacity="0.55"/>
<ellipse cx="439.50" cy="481.69" rx="0.41" ry="0.49" transform="rotate(0 439.50 481.69)" fill="#9a78b4" opacity="0.55"/>
<ellipse cx="466.36" cy="468.36" rx="0.53" ry="0.34" transform="rotate(0 466.36 468.36)" fill="#9a78b4" opacity="0.55"/>
<ellipse cx="471.31" cy="465.22" rx="0.57" ry="0.62" transform="rotate(0 471.31 465.22)" fill="#d8a0c0" opacity="0.55"/>
<ellipse cx="466.31" cy="479.13" rx="0.42" ry="0.62" transform="rotate(0 466.31 479.13)" fill="#8a6aa8" opacity="0.55"/>
<ellipse cx="455.18" cy="509.37" rx="0.38" ry="0.65" transform="rotate(0 455.18 509.37)" fill="#d8a0c0" opacity="0.55"/>
<ellipse cx="469.79" cy="473.95" rx="0.33" ry="0.64" transform="rotate(0 469.79 473.95)" fill="#d8a0c0" opacity="0.55"/>
<ellipse cx="454.30" cy="472.92" rx="0.39" ry="0.58" transform="rotate(0 454.30 472.92)" fill="#8a6aa8" opacity="0.55"/>
<ellipse cx="461.73" cy="457.66" rx="0.66" ry="0.50" transform="rotate(0 461.73 457.66)" fill="#9a78b4" opacity="0.55"/>
<ellipse cx="430.62" cy="439.81" rx="0.51" ry="0.55" transform="rotate(0 430.62 439.81)" fill="#8a6aa8" opacity="0.55"/>
<ellipse cx="456.56" cy="506.88" rx="0.47" ry="0.64" transform="rotate(0 456.56 506.88)" fill="#b58cc0" opacity="0.55"/>
<ellipse cx="425.72" cy="476.68" rx="0.39" ry="0.47" transform="rotate(0 425.72 476.68)" fill="#9a78b4" opacity="0.55"/>
<ellipse cx="446.14" cy="456.51" rx="0.47" ry="0.55" transform="rotate(0 446.14 456.51)" fill="#b58cc0" opacity="0.55"/>
<ellipse cx="454.91" cy="465.71" rx="0.49" ry="0.65" transform="rotate(0 454.91 465.71)" fill="#9a78b4" opacity="0.55"/>
<ellipse cx="436.59" cy="438.12" rx="0.70" ry="0.59" transform="rotate(0 436.59 438.12)" fill="#b58cc0" opacity="0.55"/>
<ellipse cx="465.89" cy="455.82" rx="0.52" ry="0.61" transform="rotate(0 465.89 455.82)" fill="#b58cc0" opacity="0.55"/>
<ellipse cx="461.85" cy="457.81" rx="0.46" ry="0.58" transform="rotate(0 461.85 457.81)" fill="#d8a0c0" opacity="0.55"/>
<ellipse cx="463.71" cy="461.21" rx="0.69" ry="0.41" transform="rotate(0 463.71 461.21)" fill="#8a6aa8" opacity="0.55"/>
<ellipse cx="463.82" cy="438.28" rx="0.71" ry="0.65" transform="rotate(0 463.82 438.28)" fill="#d8a0c0" opacity="0.55"/>
<ellipse cx="458.75" cy="509.36" rx="0.41" ry="0.41" transform="rotate(0 458.75 509.36)" fill="#d8a0c0" opacity="0.55"/>
<ellipse cx="433.49" cy="507.67" rx="0.46" ry="0.50" transform="rotate(0 433.49 507.67)" fill="#8a6aa8" opacity="0.55"/>
<ellipse cx="434.89" cy="449.74" rx="0.57" ry="0.64" transform="rotate(0 434.89 449.74)" fill="#8a6aa8" opacity="0.55"/>
<ellipse cx="444.77" cy="488.57" rx="0.41" ry="0.69" transform="rotate(0 444.77 488.57)" fill="#9a78b4" opacity="0.55"/>
<ellipse cx="451.59" cy="440.61" rx="0.53" ry="0.60" transform="rotate(0 451.59 440.61)" fill="#b58cc0" opacity="0.55"/>
<ellipse cx="467.42" cy="486.64" rx="0.72" ry="0.33" transform="rotate(0 467.42 486.64)" fill="#d8a0c0" opacity="0.55"/>
<ellipse cx="427.66" cy="462.39" rx="0.73" ry="0.57" transform="rotate(0 427.66 462.39)" fill="#8a6aa8" opacity="0.55"/>
<ellipse cx="428.67" cy="443.78" rx="0.33" ry="0.61" transform="rotate(0 428.67 443.78)" fill="#9a78b4" opacity="0.55"/>
<ellipse cx="455.70" cy="439.48" rx="0.38" ry="0.60" transform="rotate(0 455.70 439.48)" fill="#b58cc0" opacity="0.55"/>
<ellipse cx="450.95" cy="457.65" rx="0.56" ry="0.47" transform="rotate(0 450.95 457.65)" fill="#d8a0c0" opacity="0.55"/>
<ellipse cx="425.41" cy="504.68" rx="0.44" ry="0.32" transform="rotate(0 425.41 504.68)" fill="#d8a0c0" opacity="0.55"/>
<ellipse cx="442.30" cy="480.10" rx="0.43" ry="0.37" transform="rotate(0 442.30 480.10)" fill="#b58cc0" opacity="0.55"/>
<ellipse cx="451.04" cy="474.15" rx="0.45" ry="0.69" transform="rotate(0 451.04 474.15)" fill="#8a6aa8" opacity="0.55"/>
<ellipse cx="463.33" cy="473.31" rx="0.49" ry="0.48" transform="rotate(0 463.33 473.31)" fill="#d8a0c0" opacity="0.55"/>
<ellipse cx="451.01" cy="475.42" rx="0.54" ry="0.65" transform="rotate(0 451.01 475.42)" fill="#9a78b4" opacity="0.55"/>
<ellipse cx="440.91" cy="458.18" rx="0.48" ry="0.59" transform="rotate(0 440.91 458.18)" fill="#b58cc0" opacity="0.55"/>
<ellipse cx="459.36" cy="457.39" rx="0.40" ry="0.69" transform="rotate(0 459.36 457.39)" fill="#8a6aa8" opacity="0.55"/>
<ellipse cx="463.29" cy="491.40" rx="0.51" ry="0.49" transform="rotate(0 463.29 491.40)" fill="#9a78b4" opacity="0.55"/>
<ellipse cx="473.68" cy="509.68" rx="0.71" ry="0.67" transform="rotate(0 473.68 509.68)" fill="#b58cc0" opacity="0.55"/>
<ellipse cx="431.25" cy="475.82" rx="0.46" ry="0.50" transform="rotate(0 431.25 475.82)" fill="#d8a0c0" opacity="0.55"/>
<ellipse cx="427.36" cy="457.67" rx="0.47" ry="0.72" transform="rotate(0 427.36 457.67)" fill="#b58cc0" opacity="0.55"/>
<ellipse cx="425.96" cy="447.22" rx="0.48" ry="0.59" transform="rotate(0 425.96 447.22)" fill="#b58cc0" opacity="0.55"/>
<ellipse cx="449.86" cy="509.56" rx="0.70" ry="0.57" transform="rotate(0 449.86 509.56)" fill="#b58cc0" opacity="0.55"/>
<ellipse cx="457.27" cy="449.07" rx="0.51" ry="0.70" transform="rotate(0 457.27 449.07)" fill="#8a6aa8" opacity="0.55"/>
<ellipse cx="437.15" cy="469.35" rx="0.55" ry="0.46" transform="rotate(0 437.15 469.35)" fill="#b58cc0" opacity="0.55"/>
<ellipse cx="425.90" cy="489.69" rx="0.71" ry="0.57" transform="rotate(0 425.90 489.69)" fill="#9a78b4" opacity="0.55"/>
<ellipse cx="467.15" cy="460.97" rx="0.72" ry="0.55" transform="rotate(0 467.15 460.97)" fill="#b58cc0" opacity="0.55"/>
<ellipse cx="478.97" cy="449.87" rx="0.40" ry="0.65" transform="rotate(0 478.97 449.87)" fill="#9a78b4" opacity="0.55"/>
<ellipse cx="466.96" cy="440.47" rx="0.33" ry="0.66" transform="rotate(0 466.96 440.47)" fill="#9a78b4" opacity="0.55"/>
<ellipse cx="468.75" cy="483.23" rx="0.63" ry="0.69" transform="rotate(0 468.75 483.23)" fill="#d8a0c0" opacity="0.55"/>
<ellipse cx="469.53" cy="503.01" rx="0.63" ry="0.45" transform="rotate(0 469.53 503.01)" fill="#b58cc0" opacity="0.55"/>
<ellipse cx="459.08" cy="505.53" rx="0.34" ry="0.56" transform="rotate(0 459.08 505.53)" fill="#8a6aa8" opacity="0.55"/>
<ellipse cx="473.60" cy="484.87" rx="0.48" ry="0.59" transform="rotate(0 473.60 484.87)" fill="#8a6aa8" opacity="0.55"/>
<ellipse cx="452.47" cy="507.98" rx="0.42" ry="0.44" transform="rotate(0 452.47 507.98)" fill="#9a78b4" opacity="0.55"/>
<ellipse cx="462.34" cy="441.12" rx="0.40" ry="0.42" transform="rotate(0 462.34 441.12)" fill="#d8a0c0" opacity="0.55"/>
<ellipse cx="476.72" cy="485.53" rx="0.37" ry="0.59" transform="rotate(0 476.72 485.53)" fill="#8a6aa8" opacity="0.55"/>
<ellipse cx="476.69" cy="459.94" rx="0.32" ry="0.49" transform="rotate(0 476.69 459.94)" fill="#8a6aa8" opacity="0.55"/>
<ellipse cx="431.94" cy="455.01" rx="0.37" ry="0.47" transform="rotate(0 431.94 455.01)" fill="#d8a0c0" opacity="0.55"/>
<ellipse cx="455.91" cy="465.08" rx="0.72" ry="0.59" transform="rotate(0 455.91 465.08)" fill="#9a78b4" opacity="0.55"/>
<ellipse cx="436.44" cy="437.08" rx="0.60" ry="0.59" transform="rotate(0 436.44 437.08)" fill="#9a78b4" opacity="0.55"/>
<ellipse cx="449.90" cy="472.13" rx="0.34" ry="0.55" transform="rotate(0 449.90 472.13)" fill="#b58cc0" opacity="0.55"/>
<ellipse cx="432.38" cy="464.65" rx="0.41" ry="0.50" transform="rotate(0 432.38 464.65)" fill="#8a6aa8" opacity="0.55"/>
<ellipse cx="466.27" cy="492.62" rx="0.62" ry="0.34" transform="rotate(0 466.27 492.62)" fill="#b58cc0" opacity="0.55"/>
<ellipse cx="433.35" cy="448.26" rx="0.33" ry="0.33" transform="rotate(0 433.35 448.26)" fill="#8a6aa8" opacity="0.55"/>
<ellipse cx="433.20" cy="489.08" rx="0.38" ry="0.46" transform="rotate(0 433.20 489.08)" fill="#b58cc0" opacity="0.55"/>
<ellipse cx="457.83" cy="453.27" rx="0.39" ry="0.51" transform="rotate(0 457.83 453.27)" fill="#8a6aa8" opacity="0.55"/>
<ellipse cx="436.26" cy="483.68" rx="0.39" ry="0.39" transform="rotate(0 436.26 483.68)" fill="#8a6aa8" opacity="0.55"/>
<ellipse cx="447.77" cy="464.25" rx="0.63" ry="0.36" transform="rotate(0 447.77 464.25)" fill="#b58cc0" opacity="0.55"/>
<ellipse cx="451.32" cy="439.18" rx="0.58" ry="0.40" transform="rotate(0 451.32 439.18)" fill="#d8a0c0" opacity="0.55"/>
<ellipse cx="476.70" cy="467.56" rx="0.65" ry="0.68" transform="rotate(0 476.70 467.56)" fill="#d8a0c0" opacity="0.55"/>
<ellipse cx="455.04" cy="505.87" rx="0.37" ry="0.48" transform="rotate(0 455.04 505.87)" fill="#d8a0c0" opacity="0.55"/>
<ellipse cx="476.11" cy="444.21" rx="0.59" ry="0.43" transform="rotate(0 476.11 444.21)" fill="#d8a0c0" opacity="0.55"/>
<ellipse cx="441.34" cy="491.82" rx="0.65" ry="0.61" transform="rotate(0 441.34 491.82)" fill="#9a78b4" opacity="0.55"/>
<ellipse cx="459.79" cy="500.33" rx="0.46" ry="0.42" transform="rotate(0 459.79 500.33)" fill="#b58cc0" opacity="0.55"/>
<ellipse cx="465.98" cy="500.39" rx="0.47" ry="0.57" transform="rotate(0 465.98 500.39)" fill="#d8a0c0" opacity="0.55"/>
<ellipse cx="480.20" cy="498.41" rx="0.60" ry="0.72" transform="rotate(0 480.20 498.41)" fill="#9a78b4" opacity="0.55"/>
<ellipse cx="439.51" cy="473.03" rx="0.36" ry="0.65" transform="rotate(0 439.51 473.03)" fill="#b58cc0" opacity="0.55"/>
<ellipse cx="449.12" cy="479.11" rx="0.41" ry="0.72" transform="rotate(0 449.12 479.11)" fill="#8a6aa8" opacity="0.55"/>
<ellipse cx="435.76" cy="469.39" rx="0.68" ry="0.74" transform="rotate(0 435.76 469.39)" fill="#d8a0c0" opacity="0.55"/>
<ellipse cx="435.51" cy="473.73" rx="0.57" ry="0.55" transform="rotate(0 435.51 473.73)" fill="#d8a0c0" opacity="0.55"/>
<ellipse cx="436.16" cy="477.48" rx="0.46" ry="0.32" transform="rotate(0 436.16 477.48)" fill="#b58cc0" opacity="0.55"/>
<ellipse cx="463.07" cy="482.71" rx="0.59" ry="0.52" transform="rotate(0 463.07 482.71)" fill="#b58cc0" opacity="0.55"/>
<ellipse cx="428.81" cy="489.28" rx="0.42" ry="0.52" transform="rotate(0 428.81 489.28)" fill="#8a6aa8" opacity="0.55"/>
<ellipse cx="472.37" cy="505.53" rx="0.50" ry="0.45" transform="rotate(0 472.37 505.53)" fill="#8a6aa8" opacity="0.55"/>
<ellipse cx="438.51" cy="489.84" rx="0.65" ry="0.55" transform="rotate(0 438.51 489.84)" fill="#9a78b4" opacity="0.55"/>
<ellipse cx="475.57" cy="484.80" rx="0.72" ry="0.37" transform="rotate(0 475.57 484.80)" fill="#9a78b4" opacity="0.55"/>
<ellipse cx="462.94" cy="467.48" rx="0.68" ry="0.55" transform="rotate(0 462.94 467.48)" fill="#9a78b4" opacity="0.55"/>
<ellipse cx="456.72" cy="486.21" rx="0.73" ry="0.34" transform="rotate(0 456.72 486.21)" fill="#b58cc0" opacity="0.55"/>
<ellipse cx="476.59" cy="446.54" rx="0.60" ry="0.43" transform="rotate(0 476.59 446.54)" fill="#d8a0c0" opacity="0.55"/>
<ellipse cx="455.37" cy="499.67" rx="0.48" ry="0.37" transform="rotate(0 455.37 499.67)" fill="#b58cc0" opacity="0.55"/>
<ellipse cx="451.42" cy="443.71" rx="0.57" ry="0.68" transform="rotate(0 451.42 443.71)" fill="#9a78b4" opacity="0.55"/>
<ellipse cx="454.48" cy="445.72" rx="0.57" ry="0.67" transform="rotate(0 454.48 445.72)" fill="#d8a0c0" opacity="0.55"/>
<ellipse cx="475.77" cy="463.86" rx="0.59" ry="0.47" transform="rotate(0 475.77 463.86)" fill="#8a6aa8" opacity="0.55"/>
<ellipse cx="455.72" cy="479.36" rx="0.68" ry="0.60" transform="rotate(0 455.72 479.36)" fill="#d8a0c0" opacity="0.55"/>
<ellipse cx="441.02" cy="493.61" rx="0.59" ry="0.52" transform="rotate(0 441.02 493.61)" fill="#b58cc0" opacity="0.55"/>
<ellipse cx="449.51" cy="499.37" rx="0.52" ry="0.70" transform="rotate(0 449.51 499.37)" fill="#9a78b4" opacity="0.55"/>
<ellipse cx="453.31" cy="440.59" rx="0.37" ry="0.57" transform="rotate(0 453.31 440.59)" fill="#b58cc0" opacity="0.55"/>
<ellipse cx="479.74" cy="494.97" rx="0.44" ry="0.51" transform="rotate(0 479.74 494.97)" fill="#8a6aa8" opacity="0.55"/>
<ellipse cx="469.47" cy="465.46" rx="0.71" ry="0.52" transform="rotate(0 469.47 465.46)" fill="#8a6aa8" opacity="0.55"/>
<ellipse cx="462.77" cy="499.56" rx="0.35" ry="0.37" transform="rotate(0 462.77 499.56)" fill="#8a6aa8" opacity="0.55"/>
<ellipse cx="454.58" cy="507.52" rx="0.72" ry="0.51" transform="rotate(0 454.58 507.52)" fill="#8a6aa8" opacity="0.55"/>
<ellipse cx="430.62" cy="453.29" rx="0.38" ry="0.59" transform="rotate(0 430.62 453.29)" fill="#d8a0c0" opacity="0.55"/>
<ellipse cx="445.47" cy="502.05" rx="0.41" ry="0.32" transform="rotate(0 445.47 502.05)" fill="#9a78b4" opacity="0.55"/>
<ellipse cx="451.80" cy="446.03" rx="0.38" ry="0.69" transform="rotate(0 451.80 446.03)" fill="#b58cc0" opacity="0.55"/>
<ellipse cx="456.40" cy="447.70" rx="0.46" ry="0.40" transform="rotate(0 456.40 447.70)" fill="#b58cc0" opacity="0.55"/>
<ellipse cx="440.70" cy="439.84" rx="0.62" ry="0.50" transform="rotate(0 440.70 439.84)" fill="#b58cc0" opacity="0.55"/>
<ellipse cx="431.23" cy="438.99" rx="0.59" ry="0.52" transform="rotate(0 431.23 438.99)" fill="#9a78b4" opacity="0.55"/>
<ellipse cx="470.82" cy="503.75" rx="0.39" ry="0.53" transform="rotate(0 470.82 503.75)" fill="#d8a0c0" opacity="0.55"/>
<ellipse cx="475.68" cy="451.68" rx="0.59" ry="0.35" transform="rotate(0 475.68 451.68)" fill="#9a78b4" opacity="0.55"/>
<ellipse cx="477.44" cy="482.02" rx="0.45" ry="0.62" transform="rotate(0 477.44 482.02)" fill="#b58cc0" opacity="0.55"/>
<ellipse cx="470.16" cy="453.91" rx="0.67" ry="0.54" transform="rotate(0 470.16 453.91)" fill="#d8a0c0" opacity="0.55"/>
<ellipse cx="438.91" cy="477.13" rx="0.45" ry="0.39" transform="rotate(0 438.91 477.13)" fill="#d8a0c0" opacity="0.55"/>
<ellipse cx="467.01" cy="461.18" rx="0.50" ry="0.61" transform="rotate(0 467.01 461.18)" fill="#9a78b4" opacity="0.55"/>
<ellipse cx="450.73" cy="444.99" rx="0.36" ry="0.39" transform="rotate(0 450.73 444.99)" fill="#8a6aa8" opacity="0.55"/>
<ellipse cx="452.54" cy="483.98" rx="0.47" ry="0.47" transform="rotate(0 452.54 483.98)" fill="#9a78b4" opacity="0.55"/>
<ellipse cx="437.62" cy="481.17" rx="0.42" ry="0.36" transform="rotate(0 437.62 481.17)" fill="#8a6aa8" opacity="0.55"/>
<ellipse cx="447.61" cy="484.27" rx="0.48" ry="0.49" transform="rotate(0 447.61 484.27)" fill="#d8a0c0" opacity="0.55"/>
<ellipse cx="432.01" cy="454.78" rx="0.51" ry="0.56" transform="rotate(0 432.01 454.78)" fill="#d8a0c0" opacity="0.55"/>
<ellipse cx="469.24" cy="486.34" rx="0.67" ry="0.48" transform="rotate(0 469.24 486.34)" fill="#b58cc0" opacity="0.55"/>
<ellipse cx="439.05" cy="459.60" rx="0.36" ry="0.66" transform="rotate(0 439.05 459.60)" fill="#d8a0c0" opacity="0.55"/>
<ellipse cx="457.78" cy="483.37" rx="0.61" ry="0.73" transform="rotate(0 457.78 483.37)" fill="#b58cc0" opacity="0.55"/>
<ellipse cx="454.62" cy="493.84" rx="0.52" ry="0.36" transform="rotate(0 454.62 493.84)" fill="#b58cc0" opacity="0.55"/>
<ellipse cx="444.64" cy="471.31" rx="0.40" ry="0.44" transform="rotate(0 444.64 471.31)" fill="#8a6aa8" opacity="0.55"/>
<ellipse cx="469.58" cy="458.87" rx="0.52" ry="0.41" transform="rotate(0 469.58 458.87)" fill="#d8a0c0" opacity="0.55"/>
<ellipse cx="452.55" cy="437.12" rx="0.50" ry="0.35" transform="rotate(0 452.55 437.12)" fill="#b58cc0" opacity="0.55"/>
<ellipse cx="438.55" cy="470.86" rx="0.52" ry="0.45" transform="rotate(0 438.55 470.86)" fill="#8a6aa8" opacity="0.55"/>
<ellipse cx="449.34" cy="455.34" rx="0.37" ry="0.58" transform="rotate(0 449.34 455.34)" fill="#b58cc0" opacity="0.55"/>
<ellipse cx="432.15" cy="496.08" rx="0.36" ry="0.55" transform="rotate(0 432.15 496.08)" fill="#b58cc0" opacity="0.55"/>
<ellipse cx="452.95" cy="449.48" rx="0.58" ry="0.44" transform="rotate(0 452.95 449.48)" fill="#d8a0c0" opacity="0.55"/>
<ellipse cx="457.03" cy="502.70" rx="0.72" ry="0.64" transform="rotate(0 457.03 502.70)" fill="#b58cc0" opacity="0.55"/>
<ellipse cx="451.25" cy="493.86" rx="0.60" ry="0.38" transform="rotate(0 451.25 493.86)" fill="#8a6aa8" opacity="0.55"/>
<ellipse cx="469.57" cy="491.43" rx="0.70" ry="0.57" transform="rotate(0 469.57 491.43)" fill="#8a6aa8" opacity="0.55"/>
<ellipse cx="430.30" cy="446.98" rx="0.34" ry="0.39" transform="rotate(0 430.30 446.98)" fill="#d8a0c0" opacity="0.55"/>
<ellipse cx="431.49" cy="446.62" rx="0.39" ry="0.56" transform="rotate(0 431.49 446.62)" fill="#d8a0c0" opacity="0.55"/>
<ellipse cx="430.92" cy="461.00" rx="0.49" ry="0.53" transform="rotate(0 430.92 461.00)" fill="#8a6aa8" opacity="0.55"/>
<ellipse cx="430.34" cy="501.73" rx="0.35" ry="0.43" transform="rotate(0 430.34 501.73)" fill="#9a78b4" opacity="0.55"/>
<ellipse cx="447.95" cy="474.80" rx="0.40" ry="0.51" transform="rotate(0 447.95 474.80)" fill="#d8a0c0" opacity="0.55"/>
<ellipse cx="428.49" cy="470.75" rx="0.55" ry="0.57" transform="rotate(0 428.49 470.75)" fill="#8a6aa8" opacity="0.55"/>
<ellipse cx="425.38" cy="509.37" rx="0.67" ry="0.48" transform="rotate(0 425.38 509.37)" fill="#9a78b4" opacity="0.55"/>
<ellipse cx="451.42" cy="485.15" rx="0.50" ry="0.62" transform="rotate(0 451.42 485.15)" fill="#8a6aa8" opacity="0.55"/>
<ellipse cx="476.80" cy="451.69" rx="0.37" ry="0.39" transform="rotate(0 476.80 451.69)" fill="#9a78b4" opacity="0.55"/>
<ellipse cx="475.36" cy="442.96" rx="0.32" ry="0.67" transform="rotate(0 475.36 442.96)" fill="#d8a0c0" opacity="0.55"/>
<ellipse cx="430.22" cy="457.33" rx="0.68" ry="0.55" transform="rotate(0 430.22 457.33)" fill="#d8a0c0" opacity="0.55"/>
<ellipse cx="449.27" cy="470.08" rx="0.52" ry="0.47" transform="rotate(0 449.27 470.08)" fill="#8a6aa8" opacity="0.55"/>
<ellipse cx="453.05" cy="506.72" rx="0.69" ry="0.73" transform="rotate(0 453.05 506.72)" fill="#9a78b4" opacity="0.55"/>
<ellipse cx="433.70" cy="475.19" rx="0.56" ry="0.71" transform="rotate(0 433.70 475.19)" fill="#b58cc0" opacity="0.55"/>
<ellipse cx="474.48" cy="485.77" rx="0.41" ry="0.47" transform="rotate(0 474.48 485.77)" fill="#b58cc0" opacity="0.55"/>
<ellipse cx="442.65" cy="463.55" rx="0.45" ry="0.38" transform="rotate(0 442.65 463.55)" fill="#8a6aa8" opacity="0.55"/>
<ellipse cx="443.74" cy="449.89" rx="0.46" ry="0.51" transform="rotate(0 443.74 449.89)" fill="#9a78b4" opacity="0.55"/>
<ellipse cx="435.48" cy="496.81" rx="0.72" ry="0.40" transform="rotate(0 435.48 496.81)" fill="#8a6aa8" opacity="0.55"/>
<ellipse cx="442.58" cy="493.20" rx="0.63" ry="0.45" transform="rotate(0 442.58 493.20)" fill="#8a6aa8" opacity="0.55"/>
<ellipse cx="452.14" cy="442.84" rx="0.36" ry="0.73" transform="rotate(0 452.14 442.84)" fill="#b58cc0" opacity="0.55"/>
<ellipse cx="475.86" cy="480.76" rx="0.72" ry="0.71" transform="rotate(0 475.86 480.76)" fill="#9a78b4" opacity="0.55"/>
<ellipse cx="472.12" cy="460.61" rx="0.71" ry="0.41" transform="rotate(0 472.12 460.61)" fill="#8a6aa8" opacity="0.55"/>
<ellipse cx="441.88" cy="468.99" rx="0.67" ry="0.61" transform="rotate(0 441.88 468.99)" fill="#9a78b4" opacity="0.55"/>
<ellipse cx="430.03" cy="467.02" rx="0.66" ry="0.33" transform="rotate(0 430.03 467.02)" fill="#d8a0c0" opacity="0.55"/>
<ellipse cx="440.94" cy="457.90" rx="0.49" ry="0.72" transform="rotate(0 440.94 457.90)" fill="#8a6aa8" opacity="0.55"/>
<ellipse cx="429.14" cy="454.42" rx="0.63" ry="0.46" transform="rotate(0 429.14 454.42)" fill="#9a78b4" opacity="0.55"/>
<ellipse cx="452.73" cy="493.65" rx="0.45" ry="0.43" transform="rotate(0 452.73 493.65)" fill="#d8a0c0" opacity="0.55"/>
<ellipse cx="447.23" cy="478.10" rx="0.44" ry="0.32" transform="rotate(0 447.23 478.10)" fill="#b58cc0" opacity="0.55"/>
<ellipse cx="443.70" cy="472.64" rx="0.48" ry="0.43" transform="rotate(0 443.70 472.64)" fill="#b58cc0" opacity="0.55"/>
<ellipse cx="425.64" cy="492.42" rx="0.38" ry="0.42" transform="rotate(0 425.64 492.42)" fill="#8a6aa8" opacity="0.55"/>
<ellipse cx="457.97" cy="490.61" rx="0.33" ry="0.32" transform="rotate(0 457.97 490.61)" fill="#9a78b4" opacity="0.55"/>
<ellipse cx="426.54" cy="443.75" rx="0.65" ry="0.55" transform="rotate(0 426.54 443.75)" fill="#8a6aa8" opacity="0.55"/>
<ellipse cx="430.56" cy="464.85" rx="0.43" ry="0.48" transform="rotate(0 430.56 464.85)" fill="#9a78b4" opacity="0.55"/>
<ellipse cx="462.31" cy="470.43" rx="0.54" ry="0.56" transform="rotate(0 462.31 470.43)" fill="#b58cc0" opacity="0.55"/>
<ellipse cx="471.07" cy="497.46" rx="0.54" ry="0.55" transform="rotate(0 471.07 497.46)" fill="#b58cc0" opacity="0.55"/>
<ellipse cx="458.20" cy="446.06" rx="0.32" ry="0.56" transform="rotate(0 458.20 446.06)" fill="#d8a0c0" opacity="0.55"/>
<ellipse cx="433.16" cy="492.09" rx="0.52" ry="0.63" transform="rotate(0 433.16 492.09)" fill="#d8a0c0" opacity="0.55"/>
<ellipse cx="470.33" cy="468.20" rx="0.46" ry="0.70" transform="rotate(0 470.33 468.20)" fill="#8a6aa8" opacity="0.55"/>
<ellipse cx="473.59" cy="493.82" rx="0.43" ry="0.35" transform="rotate(0 473.59 493.82)" fill="#8a6aa8" opacity="0.55"/>
<ellipse cx="465.48" cy="440.72" rx="0.71" ry="0.54" transform="rotate(0 465.48 440.72)" fill="#b58cc0" opacity="0.55"/>
<ellipse cx="449.55" cy="454.66" rx="0.39" ry="0.56" transform="rotate(0 449.55 454.66)" fill="#8a6aa8" opacity="0.55"/>
<ellipse cx="476.66" cy="445.43" rx="0.51" ry="0.43" transform="rotate(0 476.66 445.43)" fill="#b58cc0" opacity="0.55"/>
<ellipse cx="435.24" cy="464.72" rx="0.54" ry="0.54" transform="rotate(0 435.24 464.72)" fill="#9a78b4" opacity="0.55"/>
<ellipse cx="458.02" cy="505.89" rx="0.71" ry="0.70" transform="rotate(0 458.02 505.89)" fill="#9a78b4" opacity="0.55"/>
<ellipse cx="464.17" cy="450.91" rx="0.70" ry="0.52" transform="rotate(0 464.17 450.91)" fill="#d8a0c0" opacity="0.55"/>
<ellipse cx="461.35" cy="458.05" rx="0.59" ry="0.37" transform="rotate(0 461.35 458.05)" fill="#9a78b4" opacity="0.55"/>
<ellipse cx="479.73" cy="506.73" rx="0.72" ry="0.60" transform="rotate(0 479.73 506.73)" fill="#b58cc0" opacity="0.55"/>
<ellipse cx="438.56" cy="494.51" rx="0.70" ry="0.43" transform="rotate(0 438.56 494.51)" fill="#b58cc0" opacity="0.55"/>
<ellipse cx="512.95" cy="481.29" rx="0.61" ry="0.50" transform="rotate(0 512.95 481.29)" fill="#e2b0c8" opacity="0.55"/>
<ellipse cx="519.35" cy="500.97" rx="0.48" ry="0.40" transform="rotate(0 519.35 500.97)" fill="#c9a3c4" opacity="0.55"/>
<ellipse cx="516.30" cy="498.27" rx="0.55" ry="0.36" transform="rotate(0 516.30 498.27)" fill="#d8a0c0" opacity="0.55"/>
<ellipse cx="524.09" cy="478.61" rx="0.39" ry="0.62" transform="rotate(0 524.09 478.61)" fill="#e2b0c8" opacity="0.55"/>
<ellipse cx="523.13" cy="503.93" rx="0.59" ry="0.58" transform="rotate(0 523.13 503.93)" fill="#c9a3c4" opacity="0.55"/>
<ellipse cx="517.95" cy="505.59" rx="0.61" ry="0.55" transform="rotate(0 517.95 505.59)" fill="#e2b0c8" opacity="0.55"/>
<ellipse cx="504.46" cy="472.57" rx="0.55" ry="0.47" transform="rotate(0 504.46 472.57)" fill="#c9a3c4" opacity="0.55"/>
<ellipse cx="524.52" cy="488.08" rx="0.53" ry="0.53" transform="rotate(0 524.52 488.08)" fill="#c9a3c4" opacity="0.55"/>
<ellipse cx="512.75" cy="472.48" rx="0.63" ry="0.56" transform="rotate(0 512.75 472.48)" fill="#d8a0c0" opacity="0.55"/>
<ellipse cx="518.86" cy="502.38" rx="0.46" ry="0.38" transform="rotate(0 518.86 502.38)" fill="#d8a0c0" opacity="0.55"/>
<ellipse cx="512.91" cy="503.17" rx="0.54" ry="0.37" transform="rotate(0 512.91 503.17)" fill="#d8a0c0" opacity="0.55"/>
<ellipse cx="523.00" cy="503.70" rx="0.36" ry="0.62" transform="rotate(0 523.00 503.70)" fill="#c9a3c4" opacity="0.55"/>
<ellipse cx="516.05" cy="475.49" rx="0.57" ry="0.53" transform="rotate(0 516.05 475.49)" fill="#c9a3c4" opacity="0.55"/>
<ellipse cx="516.43" cy="499.53" rx="0.51" ry="0.43" transform="rotate(0 516.43 499.53)" fill="#d8a0c0" opacity="0.55"/>
<ellipse cx="517.08" cy="484.13" rx="0.63" ry="0.59" transform="rotate(0 517.08 484.13)" fill="#c9a3c4" opacity="0.55"/>
<ellipse cx="522.83" cy="496.97" rx="0.51" ry="0.57" transform="rotate(0 522.83 496.97)" fill="#d8a0c0" opacity="0.55"/>
<ellipse cx="513.27" cy="470.69" rx="0.51" ry="0.52" transform="rotate(0 513.27 470.69)" fill="#c9a3c4" opacity="0.55"/>
<ellipse cx="511.29" cy="472.61" rx="0.52" ry="0.42" transform="rotate(0 511.29 472.61)" fill="#d8a0c0" opacity="0.55"/>
<ellipse cx="524.40" cy="493.97" rx="0.59" ry="0.56" transform="rotate(0 524.40 493.97)" fill="#e2b0c8" opacity="0.55"/>
<ellipse cx="513.33" cy="506.19" rx="0.44" ry="0.32" transform="rotate(0 513.33 506.19)" fill="#d8a0c0" opacity="0.55"/>
<ellipse cx="522.97" cy="472.54" rx="0.50" ry="0.42" transform="rotate(0 522.97 472.54)" fill="#e2b0c8" opacity="0.55"/>
<ellipse cx="518.17" cy="474.02" rx="0.41" ry="0.44" transform="rotate(0 518.17 474.02)" fill="#e2b0c8" opacity="0.55"/>
<ellipse cx="505.48" cy="490.61" rx="0.43" ry="0.33" transform="rotate(0 505.48 490.61)" fill="#c9a3c4" opacity="0.55"/>
<ellipse cx="524.23" cy="477.97" rx="0.49" ry="0.39" transform="rotate(0 524.23 477.97)" fill="#e2b0c8" opacity="0.55"/>
<ellipse cx="514.62" cy="486.86" rx="0.54" ry="0.43" transform="rotate(0 514.62 486.86)" fill="#c9a3c4" opacity="0.55"/>
<ellipse cx="516.49" cy="498.16" rx="0.43" ry="0.45" transform="rotate(0 516.49 498.16)" fill="#d8a0c0" opacity="0.55"/>
<ellipse cx="523.70" cy="501.31" rx="0.57" ry="0.63" transform="rotate(0 523.70 501.31)" fill="#e2b0c8" opacity="0.55"/>
<ellipse cx="521.89" cy="499.91" rx="0.34" ry="0.36" transform="rotate(0 521.89 499.91)" fill="#c9a3c4" opacity="0.55"/>
<ellipse cx="505.59" cy="503.51" rx="0.49" ry="0.51" transform="rotate(0 505.59 503.51)" fill="#c9a3c4" opacity="0.55"/>
<ellipse cx="505.84" cy="487.73" rx="0.46" ry="0.44" transform="rotate(0 505.84 487.73)" fill="#d8a0c0" opacity="0.55"/>
<ellipse cx="514.35" cy="480.91" rx="0.63" ry="0.44" transform="rotate(0 514.35 480.91)" fill="#e2b0c8" opacity="0.55"/>
<ellipse cx="519.10" cy="471.02" rx="0.35" ry="0.37" transform="rotate(0 519.10 471.02)" fill="#d8a0c0" opacity="0.55"/>
<ellipse cx="516.40" cy="482.97" rx="0.53" ry="0.60" transform="rotate(0 516.40 482.97)" fill="#e2b0c8" opacity="0.55"/>
<ellipse cx="522.36" cy="507.16" rx="0.40" ry="0.58" transform="rotate(0 522.36 507.16)" fill="#e2b0c8" opacity="0.55"/>
<ellipse cx="516.25" cy="502.69" rx="0.47" ry="0.48" transform="rotate(0 516.25 502.69)" fill="#c9a3c4" opacity="0.55"/>
<ellipse cx="506.23" cy="498.95" rx="0.48" ry="0.32" transform="rotate(0 506.23 498.95)" fill="#e2b0c8" opacity="0.55"/>
<ellipse cx="504.83" cy="505.76" rx="0.58" ry="0.48" transform="rotate(0 504.83 505.76)" fill="#d8a0c0" opacity="0.55"/>
<ellipse cx="514.03" cy="488.15" rx="0.40" ry="0.52" transform="rotate(0 514.03 488.15)" fill="#e2b0c8" opacity="0.55"/>
<ellipse cx="523.13" cy="497.38" rx="0.35" ry="0.55" transform="rotate(0 523.13 497.38)" fill="#c9a3c4" opacity="0.55"/>
<ellipse cx="512.32" cy="499.04" rx="0.58" ry="0.36" transform="rotate(0 512.32 499.04)" fill="#c9a3c4" opacity="0.55"/>
<ellipse cx="514.67" cy="481.19" rx="0.41" ry="0.60" transform="rotate(0 514.67 481.19)" fill="#d8a0c0" opacity="0.55"/>
<ellipse cx="505.36" cy="486.02" rx="0.38" ry="0.61" transform="rotate(0 505.36 486.02)" fill="#e2b0c8" opacity="0.55"/>
<ellipse cx="523.94" cy="500.33" rx="0.63" ry="0.50" transform="rotate(0 523.94 500.33)" fill="#e2b0c8" opacity="0.55"/>
<ellipse cx="513.55" cy="506.55" rx="0.54" ry="0.42" transform="rotate(0 513.55 506.55)" fill="#d8a0c0" opacity="0.55"/>
<ellipse cx="523.77" cy="482.01" rx="0.39" ry="0.39" transform="rotate(0 523.77 482.01)" fill="#e2b0c8" opacity="0.55"/>
<ellipse cx="521.49" cy="476.53" rx="0.50" ry="0.45" transform="rotate(0 521.49 476.53)" fill="#c9a3c4" opacity="0.55"/>
<ellipse cx="523.68" cy="482.72" rx="0.58" ry="0.49" transform="rotate(0 523.68 482.72)" fill="#e2b0c8" opacity="0.55"/>
<ellipse cx="513.35" cy="484.40" rx="0.51" ry="0.48" transform="rotate(0 513.35 484.40)" fill="#e2b0c8" opacity="0.55"/>
<ellipse cx="518.41" cy="479.45" rx="0.54" ry="0.58" transform="rotate(0 518.41 479.45)" fill="#c9a3c4" opacity="0.55"/>
<ellipse cx="507.84" cy="481.99" rx="0.48" ry="0.48" transform="rotate(0 507.84 481.99)" fill="#e2b0c8" opacity="0.55"/>
<ellipse cx="523.09" cy="491.87" rx="0.33" ry="0.43" transform="rotate(0 523.09 491.87)" fill="#e2b0c8" opacity="0.55"/>
<ellipse cx="504.96" cy="481.98" rx="0.33" ry="0.60" transform="rotate(0 504.96 481.98)" fill="#d8a0c0" opacity="0.55"/>
<ellipse cx="521.92" cy="504.97" rx="0.33" ry="0.62" transform="rotate(0 521.92 504.97)" fill="#e2b0c8" opacity="0.55"/>
<ellipse cx="516.59" cy="496.57" rx="0.35" ry="0.49" transform="rotate(0 516.59 496.57)" fill="#e2b0c8" opacity="0.55"/>
<ellipse cx="506.19" cy="474.10" rx="0.55" ry="0.46" transform="rotate(0 506.19 474.10)" fill="#e2b0c8" opacity="0.55"/>
<ellipse cx="508.71" cy="485.92" rx="0.57" ry="0.32" transform="rotate(0 508.71 485.92)" fill="#c9a3c4" opacity="0.55"/>
<ellipse cx="511.50" cy="479.80" rx="0.46" ry="0.36" transform="rotate(0 511.50 479.80)" fill="#d8a0c0" opacity="0.55"/>
<ellipse cx="508.28" cy="478.11" rx="0.47" ry="0.41" transform="rotate(0 508.28 478.11)" fill="#c9a3c4" opacity="0.55"/>
<ellipse cx="524.46" cy="490.59" rx="0.43" ry="0.59" transform="rotate(0 524.46 490.59)" fill="#c9a3c4" opacity="0.55"/>
<ellipse cx="506.10" cy="507.72" rx="0.59" ry="0.60" transform="rotate(0 506.10 507.72)" fill="#d8a0c0" opacity="0.55"/>
<ellipse cx="524.33" cy="479.60" rx="0.34" ry="0.46" transform="rotate(0 524.33 479.60)" fill="#c9a3c4" opacity="0.55"/>
<ellipse cx="507.96" cy="470.27" rx="0.36" ry="0.34" transform="rotate(0 507.96 470.27)" fill="#c9a3c4" opacity="0.55"/>
<ellipse cx="521.15" cy="486.85" rx="0.62" ry="0.32" transform="rotate(0 521.15 486.85)" fill="#d8a0c0" opacity="0.55"/>
<ellipse cx="506.37" cy="493.99" rx="0.52" ry="0.57" transform="rotate(0 506.37 493.99)" fill="#c9a3c4" opacity="0.55"/>
<ellipse cx="506.45" cy="482.33" rx="0.36" ry="0.47" transform="rotate(0 506.45 482.33)" fill="#e2b0c8" opacity="0.55"/>
<ellipse cx="516.93" cy="476.52" rx="0.60" ry="0.53" transform="rotate(0 516.93 476.52)" fill="#e2b0c8" opacity="0.55"/>
<ellipse cx="521.22" cy="503.45" rx="0.57" ry="0.39" transform="rotate(0 521.22 503.45)" fill="#d8a0c0" opacity="0.55"/>
<ellipse cx="507.81" cy="488.01" rx="0.46" ry="0.46" transform="rotate(0 507.81 488.01)" fill="#e2b0c8" opacity="0.55"/>
<ellipse cx="509.67" cy="487.44" rx="0.59" ry="0.63" transform="rotate(0 509.67 487.44)" fill="#e2b0c8" opacity="0.55"/>
<ellipse cx="522.23" cy="507.25" rx="0.40" ry="0.51" transform="rotate(0 522.23 507.25)" fill="#e2b0c8" opacity="0.55"/>
<ellipse cx="524.45" cy="505.83" rx="0.50" ry="0.51" transform="rotate(0 524.45 505.83)" fill="#c9a3c4" opacity="0.55"/>
<ellipse cx="515.59" cy="472.74" rx="0.46" ry="0.34" transform="rotate(0 515.59 472.74)" fill="#d8a0c0" opacity="0.55"/>
<ellipse cx="513.70" cy="478.49" rx="0.34" ry="0.44" transform="rotate(0 513.70 478.49)" fill="#c9a3c4" opacity="0.55"/>
<ellipse cx="512.88" cy="472.32" rx="0.57" ry="0.50" transform="rotate(0 512.88 472.32)" fill="#d8a0c0" opacity="0.55"/>
<ellipse cx="520.97" cy="497.44" rx="0.55" ry="0.36" transform="rotate(0 520.97 497.44)" fill="#c9a3c4" opacity="0.55"/>
<ellipse cx="505.22" cy="487.19" rx="0.36" ry="0.58" transform="rotate(0 505.22 487.19)" fill="#c9a3c4" opacity="0.55"/>
<ellipse cx="505.10" cy="488.01" rx="0.53" ry="0.58" transform="rotate(0 505.10 488.01)" fill="#c9a3c4" opacity="0.55"/>
<ellipse cx="515.93" cy="496.10" rx="0.52" ry="0.33" transform="rotate(0 515.93 496.10)" fill="#e2b0c8" opacity="0.55"/>
<ellipse cx="510.89" cy="473.96" rx="0.56" ry="0.36" transform="rotate(0 510.89 473.96)" fill="#e2b0c8" opacity="0.55"/>
<ellipse cx="509.04" cy="471.98" rx="0.49" ry="0.45" transform="rotate(0 509.04 471.98)" fill="#c9a3c4" opacity="0.55"/>
<ellipse cx="507.92" cy="478.34" rx="0.32" ry="0.33" transform="rotate(0 507.92 478.34)" fill="#d8a0c0" opacity="0.55"/>
<ellipse cx="506.80" cy="470.72" rx="0.50" ry="0.40" transform="rotate(0 506.80 470.72)" fill="#c9a3c4" opacity="0.55"/>
<ellipse cx="507.78" cy="509.43" rx="0.49" ry="0.55" transform="rotate(0 507.78 509.43)" fill="#c9a3c4" opacity="0.55"/>
<ellipse cx="509.67" cy="500.65" rx="0.40" ry="0.59" transform="rotate(0 509.67 500.65)" fill="#c9a3c4" opacity="0.55"/>
<ellipse cx="508.02" cy="492.23" rx="0.37" ry="0.49" transform="rotate(0 508.02 492.23)" fill="#e2b0c8" opacity="0.55"/>
<ellipse cx="508.99" cy="496.12" rx="0.42" ry="0.35" transform="rotate(0 508.99 496.12)" fill="#e2b0c8" opacity="0.55"/>
<ellipse cx="515.87" cy="480.07" rx="0.34" ry="0.38" transform="rotate(0 515.87 480.07)" fill="#c9a3c4" opacity="0.55"/>
<ellipse cx="506.55" cy="500.46" rx="0.40" ry="0.43" transform="rotate(0 506.55 500.46)" fill="#e2b0c8" opacity="0.55"/>
<ellipse cx="521.08" cy="503.67" rx="0.63" ry="0.51" transform="rotate(0 521.08 503.67)" fill="#e2b0c8" opacity="0.55"/>
<ellipse cx="516.72" cy="493.52" rx="0.42" ry="0.44" transform="rotate(0 516.72 493.52)" fill="#c9a3c4" opacity="0.55"/>
<g filter="url(#b03)">
<ellipse cx="431.57" cy="453.17" rx="6.35" ry="6.35" transform="rotate(0 431.57 453.17)" fill="#b093c2" opacity="0.9"/>
<ellipse cx="430.35" cy="458.82" rx="0.49" ry="0.49" transform="rotate(0 430.35 458.82)" fill="#7a58a0" opacity="0.8"/>
<ellipse cx="434.33" cy="449.99" rx="0.49" ry="0.49" transform="rotate(0 434.33 449.99)" fill="#8464a6" opacity="0.8"/>
<ellipse cx="430.85" cy="451.95" rx="0.49" ry="0.49" transform="rotate(0 430.85 451.95)" fill="#6f4f96" opacity="0.8"/>
<ellipse cx="427.05" cy="455.16" rx="0.49" ry="0.49" transform="rotate(0 427.05 455.16)" fill="#5d3f88" opacity="0.8"/>
<ellipse cx="428.05" cy="452.78" rx="0.49" ry="0.49" transform="rotate(0 428.05 452.78)" fill="#6f4f96" opacity="0.8"/>
<ellipse cx="430.14" cy="450.24" rx="0.49" ry="0.49" transform="rotate(0 430.14 450.24)" fill="#8464a6" opacity="0.8"/>
<ellipse cx="430.68" cy="456.41" rx="0.49" ry="0.49" transform="rotate(0 430.68 456.41)" fill="#5d3f88" opacity="0.8"/>
<ellipse cx="435.75" cy="449.54" rx="0.49" ry="0.49" transform="rotate(0 435.75 449.54)" fill="#5d3f88" opacity="0.8"/>
<ellipse cx="433.87" cy="453.47" rx="0.49" ry="0.49" transform="rotate(0 433.87 453.47)" fill="#7a58a0" opacity="0.8"/>
<ellipse cx="426.07" cy="454.18" rx="0.49" ry="0.49" transform="rotate(0 426.07 454.18)" fill="#6f4f96" opacity="0.8"/>
<ellipse cx="430.19" cy="449.43" rx="0.49" ry="0.49" transform="rotate(0 430.19 449.43)" fill="#8464a6" opacity="0.8"/>
<ellipse cx="435.43" cy="453.35" rx="0.49" ry="0.49" transform="rotate(0 435.43 453.35)" fill="#8464a6" opacity="0.8"/>
<ellipse cx="430.58" cy="453.02" rx="0.49" ry="0.49" transform="rotate(0 430.58 453.02)" fill="#7a58a0" opacity="0.8"/>
<ellipse cx="430.76" cy="453.32" rx="0.49" ry="0.49" transform="rotate(0 430.76 453.32)" fill="#7a58a0" opacity="0.8"/>
<ellipse cx="428.53" cy="452.69" rx="0.49" ry="0.49" transform="rotate(0 428.53 452.69)" fill="#5d3f88" opacity="0.8"/>
<ellipse cx="431.21" cy="449.77" rx="0.49" ry="0.49" transform="rotate(0 431.21 449.77)" fill="#5d3f88" opacity="0.8"/>
<ellipse cx="429.18" cy="451.03" rx="0.49" ry="0.49" transform="rotate(0 429.18 451.03)" fill="#8464a6" opacity="0.8"/>
<ellipse cx="431.05" cy="455.28" rx="0.49" ry="0.49" transform="rotate(0 431.05 455.28)" fill="#7a58a0" opacity="0.8"/>
<ellipse cx="426.37" cy="453.41" rx="0.49" ry="0.49" transform="rotate(0 426.37 453.41)" fill="#8464a6" opacity="0.8"/>
<ellipse cx="431.04" cy="453.84" rx="0.49" ry="0.49" transform="rotate(0 431.04 453.84)" fill="#7a58a0" opacity="0.8"/>
<ellipse cx="429.61" cy="452.94" rx="0.49" ry="0.49" transform="rotate(0 429.61 452.94)" fill="#8464a6" opacity="0.8"/>
<ellipse cx="431.19" cy="453.51" rx="0.49" ry="0.49" transform="rotate(0 431.19 453.51)" fill="#6f4f96" opacity="0.8"/>
<ellipse cx="429.78" cy="457.18" rx="0.49" ry="0.49" transform="rotate(0 429.78 457.18)" fill="#8464a6" opacity="0.8"/>
<ellipse cx="432.09" cy="450.67" rx="0.49" ry="0.49" transform="rotate(0 432.09 450.67)" fill="#7a58a0" opacity="0.8"/>
<ellipse cx="428.62" cy="450.92" rx="0.49" ry="0.49" transform="rotate(0 428.62 450.92)" fill="#5d3f88" opacity="0.8"/>
<ellipse cx="429.94" cy="450.33" rx="0.49" ry="0.49" transform="rotate(0 429.94 450.33)" fill="#6f4f96" opacity="0.8"/>
<ellipse cx="433.61" cy="450.70" rx="0.49" ry="0.49" transform="rotate(0 433.61 450.70)" fill="#6f4f96" opacity="0.8"/>
<ellipse cx="426.48" cy="455.66" rx="0.49" ry="0.49" transform="rotate(0 426.48 455.66)" fill="#7a58a0" opacity="0.8"/>
<ellipse cx="431.48" cy="450.88" rx="0.49" ry="0.49" transform="rotate(0 431.48 450.88)" fill="#5d3f88" opacity="0.8"/>
<ellipse cx="431.52" cy="453.32" rx="0.49" ry="0.49" transform="rotate(0 431.52 453.32)" fill="#8464a6" opacity="0.8"/>
<ellipse cx="433.41" cy="456.90" rx="0.49" ry="0.49" transform="rotate(0 433.41 456.90)" fill="#8464a6" opacity="0.8"/>
<ellipse cx="430.38" cy="452.64" rx="0.49" ry="0.49" transform="rotate(0 430.38 452.64)" fill="#5d3f88" opacity="0.8"/>
<ellipse cx="435.83" cy="455.82" rx="0.49" ry="0.49" transform="rotate(0 435.83 455.82)" fill="#6f4f96" opacity="0.8"/>
<ellipse cx="430.46" cy="452.82" rx="0.49" ry="0.49" transform="rotate(0 430.46 452.82)" fill="#7a58a0" opacity="0.8"/>
<ellipse cx="435.63" cy="455.32" rx="0.49" ry="0.49" transform="rotate(0 435.63 455.32)" fill="#8464a6" opacity="0.8"/>
<ellipse cx="432.89" cy="451.46" rx="0.49" ry="0.49" transform="rotate(0 432.89 451.46)" fill="#5d3f88" opacity="0.8"/>
<ellipse cx="432.02" cy="452.68" rx="0.49" ry="0.49" transform="rotate(0 432.02 452.68)" fill="#7a58a0" opacity="0.8"/>
<ellipse cx="431.58" cy="453.15" rx="0.49" ry="0.49" transform="rotate(0 431.58 453.15)" fill="#7a58a0" opacity="0.8"/>
<ellipse cx="429.09" cy="458.17" rx="0.49" ry="0.49" transform="rotate(0 429.09 458.17)" fill="#5d3f88" opacity="0.8"/>
<ellipse cx="429.94" cy="455.70" rx="0.49" ry="0.49" transform="rotate(0 429.94 455.70)" fill="#6f4f96" opacity="0.8"/>
<ellipse cx="432.78" cy="452.49" rx="0.49" ry="0.49" transform="rotate(0 432.78 452.49)" fill="#5d3f88" opacity="0.8"/>
<ellipse cx="431.35" cy="454.07" rx="0.49" ry="0.49" transform="rotate(0 431.35 454.07)" fill="#8464a6" opacity="0.8"/>
<ellipse cx="431.92" cy="454.47" rx="0.49" ry="0.49" transform="rotate(0 431.92 454.47)" fill="#5d3f88" opacity="0.8"/>
<ellipse cx="430.30" cy="452.23" rx="0.49" ry="0.49" transform="rotate(0 430.30 452.23)" fill="#7a58a0" opacity="0.8"/>
<ellipse cx="427.96" cy="449.08" rx="0.49" ry="0.49" transform="rotate(0 427.96 449.08)" fill="#8464a6" opacity="0.8"/>
<ellipse cx="432.03" cy="458.86" rx="0.49" ry="0.49" transform="rotate(0 432.03 458.86)" fill="#5d3f88" opacity="0.8"/>
<ellipse cx="429.95" cy="455.12" rx="0.49" ry="0.49" transform="rotate(0 429.95 455.12)" fill="#7a58a0" opacity="0.8"/>
<ellipse cx="425.77" cy="453.30" rx="0.49" ry="0.49" transform="rotate(0 425.77 453.30)" fill="#5d3f88" opacity="0.8"/>
<ellipse cx="443.21" cy="447.88" rx="3.18" ry="3.18" transform="rotate(0 443.21 447.88)" fill="#b093c2" opacity="0.9"/>
<ellipse cx="441.06" cy="449.84" rx="0.49" ry="0.49" transform="rotate(0 441.06 449.84)" fill="#7a58a0" opacity="0.8"/>
<ellipse cx="441.84" cy="448.86" rx="0.49" ry="0.49" transform="rotate(0 441.84 448.86)" fill="#7a58a0" opacity="0.8"/>
<ellipse cx="440.64" cy="446.85" rx="0.49" ry="0.49" transform="rotate(0 440.64 446.85)" fill="#8464a6" opacity="0.8"/>
<ellipse cx="445.63" cy="449.46" rx="0.49" ry="0.49" transform="rotate(0 445.63 449.46)" fill="#6f4f96" opacity="0.8"/>
<ellipse cx="440.70" cy="447.46" rx="0.49" ry="0.49" transform="rotate(0 440.70 447.46)" fill="#5d3f88" opacity="0.8"/>
<ellipse cx="445.47" cy="447.43" rx="0.49" ry="0.49" transform="rotate(0 445.47 447.43)" fill="#7a58a0" opacity="0.8"/>
<ellipse cx="444.28" cy="448.70" rx="0.49" ry="0.49" transform="rotate(0 444.28 448.70)" fill="#8464a6" opacity="0.8"/>
<ellipse cx="442.29" cy="449.65" rx="0.49" ry="0.49" transform="rotate(0 442.29 449.65)" fill="#7a58a0" opacity="0.8"/>
<ellipse cx="442.64" cy="449.19" rx="0.49" ry="0.49" transform="rotate(0 442.64 449.19)" fill="#8464a6" opacity="0.8"/>
<ellipse cx="440.97" cy="446.44" rx="0.49" ry="0.49" transform="rotate(0 440.97 446.44)" fill="#8464a6" opacity="0.8"/>
<ellipse cx="442.17" cy="448.04" rx="0.49" ry="0.49" transform="rotate(0 442.17 448.04)" fill="#6f4f96" opacity="0.8"/>
<ellipse cx="442.14" cy="448.52" rx="0.49" ry="0.49" transform="rotate(0 442.14 448.52)" fill="#8464a6" opacity="0.8"/>
<ellipse cx="443.66" cy="449.24" rx="0.49" ry="0.49" transform="rotate(0 443.66 449.24)" fill="#7a58a0" opacity="0.8"/>
<ellipse cx="442.96" cy="449.57" rx="0.49" ry="0.49" transform="rotate(0 442.96 449.57)" fill="#6f4f96" opacity="0.8"/>
<ellipse cx="443.09" cy="447.77" rx="0.49" ry="0.49" transform="rotate(0 443.09 447.77)" fill="#5d3f88" opacity="0.8"/>
<ellipse cx="441.21" cy="447.81" rx="0.49" ry="0.49" transform="rotate(0 441.21 447.81)" fill="#8464a6" opacity="0.8"/>
<ellipse cx="445.93" cy="448.06" rx="0.49" ry="0.49" transform="rotate(0 445.93 448.06)" fill="#5d3f88" opacity="0.8"/>
<ellipse cx="443.22" cy="444.97" rx="0.49" ry="0.49" transform="rotate(0 443.22 444.97)" fill="#5d3f88" opacity="0.8"/>
<ellipse cx="443.29" cy="449.28" rx="0.49" ry="0.49" transform="rotate(0 443.29 449.28)" fill="#8464a6" opacity="0.8"/>
<ellipse cx="442.70" cy="447.85" rx="0.49" ry="0.49" transform="rotate(0 442.70 447.85)" fill="#6f4f96" opacity="0.8"/>
<ellipse cx="443.08" cy="444.98" rx="0.49" ry="0.49" transform="rotate(0 443.08 444.98)" fill="#6f4f96" opacity="0.8"/>
<ellipse cx="443.31" cy="447.96" rx="0.49" ry="0.49" transform="rotate(0 443.31 447.96)" fill="#6f4f96" opacity="0.8"/>
<ellipse cx="443.47" cy="448.60" rx="0.49" ry="0.49" transform="rotate(0 443.47 448.60)" fill="#7a58a0" opacity="0.8"/>
<ellipse cx="442.58" cy="449.07" rx="0.49" ry="0.49" transform="rotate(0 442.58 449.07)" fill="#8464a6" opacity="0.8"/>
<ellipse cx="456.97" cy="447.88" rx="2.54" ry="2.54" transform="rotate(0 456.97 447.88)" fill="#b093c2" opacity="0.9"/>
<ellipse cx="455.79" cy="448.30" rx="0.49" ry="0.49" transform="rotate(0 455.79 448.30)" fill="#7a58a0" opacity="0.8"/>
<ellipse cx="457.10" cy="447.31" rx="0.49" ry="0.49" transform="rotate(0 457.10 447.31)" fill="#6f4f96" opacity="0.8"/>
<ellipse cx="457.09" cy="447.73" rx="0.49" ry="0.49" transform="rotate(0 457.09 447.73)" fill="#8464a6" opacity="0.8"/>
<ellipse cx="457.50" cy="449.08" rx="0.49" ry="0.49" transform="rotate(0 457.50 449.08)" fill="#5d3f88" opacity="0.8"/>
<ellipse cx="457.84" cy="447.92" rx="0.49" ry="0.49" transform="rotate(0 457.84 447.92)" fill="#7a58a0" opacity="0.8"/>
<ellipse cx="456.97" cy="447.90" rx="0.49" ry="0.49" transform="rotate(0 456.97 447.90)" fill="#7a58a0" opacity="0.8"/>
<ellipse cx="456.89" cy="448.82" rx="0.49" ry="0.49" transform="rotate(0 456.89 448.82)" fill="#5d3f88" opacity="0.8"/>
<ellipse cx="456.69" cy="447.19" rx="0.49" ry="0.49" transform="rotate(0 456.69 447.19)" fill="#5d3f88" opacity="0.8"/>
<ellipse cx="457.26" cy="447.45" rx="0.49" ry="0.49" transform="rotate(0 457.26 447.45)" fill="#5d3f88" opacity="0.8"/>
<ellipse cx="458.10" cy="447.92" rx="0.49" ry="0.49" transform="rotate(0 458.10 447.92)" fill="#8464a6" opacity="0.8"/>
<ellipse cx="455.66" cy="448.23" rx="0.49" ry="0.49" transform="rotate(0 455.66 448.23)" fill="#7a58a0" opacity="0.8"/>
<ellipse cx="457.71" cy="447.96" rx="0.49" ry="0.49" transform="rotate(0 457.71 447.96)" fill="#7a58a0" opacity="0.8"/>
<ellipse cx="456.69" cy="446.64" rx="0.49" ry="0.49" transform="rotate(0 456.69 446.64)" fill="#5d3f88" opacity="0.8"/>
<ellipse cx="456.74" cy="447.80" rx="0.49" ry="0.49" transform="rotate(0 456.74 447.80)" fill="#7a58a0" opacity="0.8"/>
<ellipse cx="455.57" cy="446.80" rx="0.49" ry="0.49" transform="rotate(0 455.57 446.80)" fill="#7a58a0" opacity="0.8"/>
<ellipse cx="458.03" cy="447.51" rx="0.49" ry="0.49" transform="rotate(0 458.03 447.51)" fill="#5d3f88" opacity="0.8"/>
<ellipse cx="457.79" cy="449.10" rx="0.49" ry="0.49" transform="rotate(0 457.79 449.10)" fill="#6f4f96" opacity="0.8"/>
<ellipse cx="455.41" cy="449.09" rx="0.49" ry="0.49" transform="rotate(0 455.41 449.09)" fill="#6f4f96" opacity="0.8"/>
<ellipse cx="457.83" cy="448.86" rx="0.49" ry="0.49" transform="rotate(0 457.83 448.86)" fill="#5d3f88" opacity="0.8"/>
<ellipse cx="440.46" cy="471.16" rx="3.18" ry="3.18" transform="rotate(0 440.46 471.16)" fill="#b093c2" opacity="0.9"/>
<ellipse cx="440.44" cy="471.19" rx="0.49" ry="0.49" transform="rotate(0 440.44 471.19)" fill="#7a58a0" opacity="0.8"/>
<ellipse cx="440.39" cy="471.05" rx="0.49" ry="0.49" transform="rotate(0 440.39 471.05)" fill="#7a58a0" opacity="0.8"/>
<ellipse cx="441.08" cy="471.44" rx="0.49" ry="0.49" transform="rotate(0 441.08 471.44)" fill="#8464a6" opacity="0.8"/>
<ellipse cx="440.41" cy="471.17" rx="0.49" ry="0.49" transform="rotate(0 440.41 471.17)" fill="#8464a6" opacity="0.8"/>
<ellipse cx="439.93" cy="471.08" rx="0.49" ry="0.49" transform="rotate(0 439.93 471.08)" fill="#6f4f96" opacity="0.8"/>
<ellipse cx="440.56" cy="470.33" rx="0.49" ry="0.49" transform="rotate(0 440.56 470.33)" fill="#7a58a0" opacity="0.8"/>
<ellipse cx="438.66" cy="471.62" rx="0.49" ry="0.49" transform="rotate(0 438.66 471.62)" fill="#7a58a0" opacity="0.8"/>
<ellipse cx="438.38" cy="472.47" rx="0.49" ry="0.49" transform="rotate(0 438.38 472.47)" fill="#5d3f88" opacity="0.8"/>
<ellipse cx="442.56" cy="469.19" rx="0.49" ry="0.49" transform="rotate(0 442.56 469.19)" fill="#8464a6" opacity="0.8"/>
<ellipse cx="440.29" cy="471.06" rx="0.49" ry="0.49" transform="rotate(0 440.29 471.06)" fill="#5d3f88" opacity="0.8"/>
<ellipse cx="440.48" cy="472.95" rx="0.49" ry="0.49" transform="rotate(0 440.48 472.95)" fill="#7a58a0" opacity="0.8"/>
<ellipse cx="439.48" cy="470.38" rx="0.49" ry="0.49" transform="rotate(0 439.48 470.38)" fill="#8464a6" opacity="0.8"/>
<ellipse cx="441.70" cy="473.49" rx="0.49" ry="0.49" transform="rotate(0 441.70 473.49)" fill="#6f4f96" opacity="0.8"/>
<ellipse cx="441.16" cy="470.55" rx="0.49" ry="0.49" transform="rotate(0 441.16 470.55)" fill="#5d3f88" opacity="0.8"/>
<ellipse cx="440.27" cy="471.15" rx="0.49" ry="0.49" transform="rotate(0 440.27 471.15)" fill="#6f4f96" opacity="0.8"/>
<ellipse cx="440.72" cy="468.81" rx="0.49" ry="0.49" transform="rotate(0 440.72 468.81)" fill="#7a58a0" opacity="0.8"/>
<ellipse cx="439.22" cy="471.58" rx="0.49" ry="0.49" transform="rotate(0 439.22 471.58)" fill="#5d3f88" opacity="0.8"/>
<ellipse cx="439.52" cy="473.39" rx="0.49" ry="0.49" transform="rotate(0 439.52 473.39)" fill="#7a58a0" opacity="0.8"/>
<ellipse cx="440.72" cy="473.49" rx="0.49" ry="0.49" transform="rotate(0 440.72 473.49)" fill="#7a58a0" opacity="0.8"/>
<ellipse cx="440.44" cy="471.18" rx="0.49" ry="0.49" transform="rotate(0 440.44 471.18)" fill="#5d3f88" opacity="0.8"/>
<ellipse cx="439.55" cy="469.88" rx="0.49" ry="0.49" transform="rotate(0 439.55 469.88)" fill="#8464a6" opacity="0.8"/>
<ellipse cx="443.05" cy="472.49" rx="0.49" ry="0.49" transform="rotate(0 443.05 472.49)" fill="#6f4f96" opacity="0.8"/>
<ellipse cx="440.67" cy="470.37" rx="0.49" ry="0.49" transform="rotate(0 440.67 470.37)" fill="#6f4f96" opacity="0.8"/>
<ellipse cx="440.21" cy="470.79" rx="0.49" ry="0.49" transform="rotate(0 440.21 470.79)" fill="#5d3f88" opacity="0.8"/>
<ellipse cx="468.62" cy="461.64" rx="2.96" ry="2.96" transform="rotate(0 468.62 461.64)" fill="#b093c2" opacity="0.9"/>
<ellipse cx="467.61" cy="463.07" rx="0.49" ry="0.49" transform="rotate(0 467.61 463.07)" fill="#8464a6" opacity="0.8"/>
<ellipse cx="470.62" cy="460.20" rx="0.49" ry="0.49" transform="rotate(0 470.62 460.20)" fill="#7a58a0" opacity="0.8"/>
<ellipse cx="468.76" cy="462.53" rx="0.49" ry="0.49" transform="rotate(0 468.76 462.53)" fill="#5d3f88" opacity="0.8"/>
<ellipse cx="467.30" cy="459.47" rx="0.49" ry="0.49" transform="rotate(0 467.30 459.47)" fill="#7a58a0" opacity="0.8"/>
<ellipse cx="468.61" cy="461.80" rx="0.49" ry="0.49" transform="rotate(0 468.61 461.80)" fill="#7a58a0" opacity="0.8"/>
<ellipse cx="467.59" cy="461.77" rx="0.49" ry="0.49" transform="rotate(0 467.59 461.77)" fill="#6f4f96" opacity="0.8"/>
<ellipse cx="466.45" cy="460.65" rx="0.49" ry="0.49" transform="rotate(0 466.45 460.65)" fill="#8464a6" opacity="0.8"/>
<ellipse cx="466.59" cy="461.36" rx="0.49" ry="0.49" transform="rotate(0 466.59 461.36)" fill="#6f4f96" opacity="0.8"/>
<ellipse cx="466.50" cy="460.12" rx="0.49" ry="0.49" transform="rotate(0 466.50 460.12)" fill="#7a58a0" opacity="0.8"/>
<ellipse cx="471.08" cy="462.38" rx="0.49" ry="0.49" transform="rotate(0 471.08 462.38)" fill="#7a58a0" opacity="0.8"/>
<ellipse cx="468.92" cy="463.99" rx="0.49" ry="0.49" transform="rotate(0 468.92 463.99)" fill="#8464a6" opacity="0.8"/>
<ellipse cx="469.53" cy="460.44" rx="0.49" ry="0.49" transform="rotate(0 469.53 460.44)" fill="#5d3f88" opacity="0.8"/>
<ellipse cx="468.04" cy="461.31" rx="0.49" ry="0.49" transform="rotate(0 468.04 461.31)" fill="#6f4f96" opacity="0.8"/>
<ellipse cx="467.67" cy="462.91" rx="0.49" ry="0.49" transform="rotate(0 467.67 462.91)" fill="#8464a6" opacity="0.8"/>
<ellipse cx="468.61" cy="461.12" rx="0.49" ry="0.49" transform="rotate(0 468.61 461.12)" fill="#7a58a0" opacity="0.8"/>
<ellipse cx="470.03" cy="461.88" rx="0.49" ry="0.49" transform="rotate(0 470.03 461.88)" fill="#7a58a0" opacity="0.8"/>
<ellipse cx="468.78" cy="461.29" rx="0.49" ry="0.49" transform="rotate(0 468.78 461.29)" fill="#5d3f88" opacity="0.8"/>
<ellipse cx="468.19" cy="460.98" rx="0.49" ry="0.49" transform="rotate(0 468.19 460.98)" fill="#5d3f88" opacity="0.8"/>
<ellipse cx="468.54" cy="459.70" rx="0.49" ry="0.49" transform="rotate(0 468.54 459.70)" fill="#8464a6" opacity="0.8"/>
<ellipse cx="470.39" cy="461.08" rx="0.49" ry="0.49" transform="rotate(0 470.39 461.08)" fill="#8464a6" opacity="0.8"/>
<ellipse cx="468.87" cy="461.79" rx="0.49" ry="0.49" transform="rotate(0 468.87 461.79)" fill="#5d3f88" opacity="0.8"/>
<ellipse cx="467.84" cy="462.32" rx="0.49" ry="0.49" transform="rotate(0 467.84 462.32)" fill="#5d3f88" opacity="0.8"/>
<ellipse cx="477.08" cy="488.73" rx="4.87" ry="4.87" transform="rotate(0 477.08 488.73)" fill="#b093c2" opacity="0.9"/>
<ellipse cx="476.73" cy="489.76" rx="0.49" ry="0.49" transform="rotate(0 476.73 489.76)" fill="#8464a6" opacity="0.8"/>
<ellipse cx="476.74" cy="488.98" rx="0.49" ry="0.49" transform="rotate(0 476.74 488.98)" fill="#5d3f88" opacity="0.8"/>
<ellipse cx="477.02" cy="489.52" rx="0.49" ry="0.49" transform="rotate(0 477.02 489.52)" fill="#8464a6" opacity="0.8"/>
<ellipse cx="479.37" cy="486.56" rx="0.49" ry="0.49" transform="rotate(0 479.37 486.56)" fill="#5d3f88" opacity="0.8"/>
<ellipse cx="480.64" cy="486.57" rx="0.49" ry="0.49" transform="rotate(0 480.64 486.57)" fill="#7a58a0" opacity="0.8"/>
<ellipse cx="478.09" cy="490.52" rx="0.49" ry="0.49" transform="rotate(0 478.09 490.52)" fill="#6f4f96" opacity="0.8"/>
<ellipse cx="476.12" cy="489.84" rx="0.49" ry="0.49" transform="rotate(0 476.12 489.84)" fill="#5d3f88" opacity="0.8"/>
<ellipse cx="480.46" cy="488.89" rx="0.49" ry="0.49" transform="rotate(0 480.46 488.89)" fill="#6f4f96" opacity="0.8"/>
<ellipse cx="477.10" cy="488.69" rx="0.49" ry="0.49" transform="rotate(0 477.10 488.69)" fill="#6f4f96" opacity="0.8"/>
<ellipse cx="476.64" cy="488.24" rx="0.49" ry="0.49" transform="rotate(0 476.64 488.24)" fill="#5d3f88" opacity="0.8"/>
<ellipse cx="477.34" cy="491.48" rx="0.49" ry="0.49" transform="rotate(0 477.34 491.48)" fill="#7a58a0" opacity="0.8"/>
<ellipse cx="474.12" cy="487.19" rx="0.49" ry="0.49" transform="rotate(0 474.12 487.19)" fill="#8464a6" opacity="0.8"/>
<ellipse cx="476.89" cy="490.11" rx="0.49" ry="0.49" transform="rotate(0 476.89 490.11)" fill="#5d3f88" opacity="0.8"/>
<ellipse cx="476.45" cy="489.62" rx="0.49" ry="0.49" transform="rotate(0 476.45 489.62)" fill="#6f4f96" opacity="0.8"/>
<ellipse cx="478.35" cy="486.19" rx="0.49" ry="0.49" transform="rotate(0 478.35 486.19)" fill="#7a58a0" opacity="0.8"/>
<ellipse cx="478.48" cy="485.86" rx="0.49" ry="0.49" transform="rotate(0 478.48 485.86)" fill="#6f4f96" opacity="0.8"/>
<ellipse cx="475.06" cy="486.78" rx="0.49" ry="0.49" transform="rotate(0 475.06 486.78)" fill="#7a58a0" opacity="0.8"/>
<ellipse cx="476.81" cy="489.50" rx="0.49" ry="0.49" transform="rotate(0 476.81 489.50)" fill="#5d3f88" opacity="0.8"/>
<ellipse cx="476.52" cy="487.16" rx="0.49" ry="0.49" transform="rotate(0 476.52 487.16)" fill="#8464a6" opacity="0.8"/>
<ellipse cx="475.16" cy="485.08" rx="0.49" ry="0.49" transform="rotate(0 475.16 485.08)" fill="#7a58a0" opacity="0.8"/>
<ellipse cx="477.63" cy="489.03" rx="0.49" ry="0.49" transform="rotate(0 477.63 489.03)" fill="#7a58a0" opacity="0.8"/>
<ellipse cx="478.14" cy="490.38" rx="0.49" ry="0.49" transform="rotate(0 478.14 490.38)" fill="#5d3f88" opacity="0.8"/>
<ellipse cx="477.00" cy="488.82" rx="0.49" ry="0.49" transform="rotate(0 477.00 488.82)" fill="#6f4f96" opacity="0.8"/>
<ellipse cx="474.24" cy="491.11" rx="0.49" ry="0.49" transform="rotate(0 474.24 491.11)" fill="#6f4f96" opacity="0.8"/>
<ellipse cx="475.74" cy="486.78" rx="0.49" ry="0.49" transform="rotate(0 475.74 486.78)" fill="#8464a6" opacity="0.8"/>
<ellipse cx="476.59" cy="486.75" rx="0.49" ry="0.49" transform="rotate(0 476.59 486.75)" fill="#5d3f88" opacity="0.8"/>
<ellipse cx="479.52" cy="488.72" rx="0.49" ry="0.49" transform="rotate(0 479.52 488.72)" fill="#5d3f88" opacity="0.8"/>
<ellipse cx="475.36" cy="487.46" rx="0.49" ry="0.49" transform="rotate(0 475.36 487.46)" fill="#8464a6" opacity="0.8"/>
<ellipse cx="478.98" cy="487.95" rx="0.49" ry="0.49" transform="rotate(0 478.98 487.95)" fill="#6f4f96" opacity="0.8"/>
<ellipse cx="479.63" cy="488.86" rx="0.49" ry="0.49" transform="rotate(0 479.63 488.86)" fill="#7a58a0" opacity="0.8"/>
<ellipse cx="475.81" cy="488.90" rx="0.49" ry="0.49" transform="rotate(0 475.81 488.90)" fill="#5d3f88" opacity="0.8"/>
<ellipse cx="475.79" cy="488.57" rx="0.49" ry="0.49" transform="rotate(0 475.79 488.57)" fill="#7a58a0" opacity="0.8"/>
<ellipse cx="475.48" cy="489.07" rx="0.49" ry="0.49" transform="rotate(0 475.48 489.07)" fill="#6f4f96" opacity="0.8"/>
<ellipse cx="474.45" cy="491.04" rx="0.49" ry="0.49" transform="rotate(0 474.45 491.04)" fill="#5d3f88" opacity="0.8"/>
<ellipse cx="473.03" cy="487.58" rx="0.49" ry="0.49" transform="rotate(0 473.03 487.58)" fill="#6f4f96" opacity="0.8"/>
<ellipse cx="473.94" cy="487.06" rx="0.49" ry="0.49" transform="rotate(0 473.94 487.06)" fill="#7a58a0" opacity="0.8"/>
<ellipse cx="470.73" cy="502.28" rx="4.66" ry="4.66" transform="rotate(0 470.73 502.28)" fill="#b093c2" opacity="0.9"/>
<ellipse cx="473.90" cy="504.50" rx="0.49" ry="0.49" transform="rotate(0 473.90 504.50)" fill="#7a58a0" opacity="0.8"/>
<ellipse cx="470.23" cy="501.54" rx="0.49" ry="0.49" transform="rotate(0 470.23 501.54)" fill="#7a58a0" opacity="0.8"/>
<ellipse cx="469.74" cy="502.35" rx="0.49" ry="0.49" transform="rotate(0 469.74 502.35)" fill="#6f4f96" opacity="0.8"/>
<ellipse cx="469.82" cy="499.24" rx="0.49" ry="0.49" transform="rotate(0 469.82 499.24)" fill="#8464a6" opacity="0.8"/>
<ellipse cx="474.83" cy="501.62" rx="0.49" ry="0.49" transform="rotate(0 474.83 501.62)" fill="#5d3f88" opacity="0.8"/>
<ellipse cx="470.39" cy="498.99" rx="0.49" ry="0.49" transform="rotate(0 470.39 498.99)" fill="#7a58a0" opacity="0.8"/>
<ellipse cx="468.37" cy="504.49" rx="0.49" ry="0.49" transform="rotate(0 468.37 504.49)" fill="#7a58a0" opacity="0.8"/>
<ellipse cx="472.72" cy="502.60" rx="0.49" ry="0.49" transform="rotate(0 472.72 502.60)" fill="#5d3f88" opacity="0.8"/>
<ellipse cx="473.15" cy="500.50" rx="0.49" ry="0.49" transform="rotate(0 473.15 500.50)" fill="#8464a6" opacity="0.8"/>
<ellipse cx="472.12" cy="500.61" rx="0.49" ry="0.49" transform="rotate(0 472.12 500.61)" fill="#7a58a0" opacity="0.8"/>
<ellipse cx="473.22" cy="503.63" rx="0.49" ry="0.49" transform="rotate(0 473.22 503.63)" fill="#7a58a0" opacity="0.8"/>
<ellipse cx="470.68" cy="502.48" rx="0.49" ry="0.49" transform="rotate(0 470.68 502.48)" fill="#8464a6" opacity="0.8"/>
<ellipse cx="469.16" cy="505.86" rx="0.49" ry="0.49" transform="rotate(0 469.16 505.86)" fill="#7a58a0" opacity="0.8"/>
<ellipse cx="470.57" cy="502.26" rx="0.49" ry="0.49" transform="rotate(0 470.57 502.26)" fill="#7a58a0" opacity="0.8"/>
<ellipse cx="470.28" cy="501.65" rx="0.49" ry="0.49" transform="rotate(0 470.28 501.65)" fill="#6f4f96" opacity="0.8"/>
<ellipse cx="471.64" cy="504.26" rx="0.49" ry="0.49" transform="rotate(0 471.64 504.26)" fill="#7a58a0" opacity="0.8"/>
<ellipse cx="471.21" cy="504.18" rx="0.49" ry="0.49" transform="rotate(0 471.21 504.18)" fill="#7a58a0" opacity="0.8"/>
<ellipse cx="471.01" cy="502.94" rx="0.49" ry="0.49" transform="rotate(0 471.01 502.94)" fill="#6f4f96" opacity="0.8"/>
<ellipse cx="470.94" cy="502.13" rx="0.49" ry="0.49" transform="rotate(0 470.94 502.13)" fill="#8464a6" opacity="0.8"/>
<ellipse cx="470.69" cy="506.36" rx="0.49" ry="0.49" transform="rotate(0 470.69 506.36)" fill="#7a58a0" opacity="0.8"/>
<ellipse cx="471.28" cy="502.01" rx="0.49" ry="0.49" transform="rotate(0 471.28 502.01)" fill="#6f4f96" opacity="0.8"/>
<ellipse cx="469.55" cy="500.67" rx="0.49" ry="0.49" transform="rotate(0 469.55 500.67)" fill="#5d3f88" opacity="0.8"/>
<ellipse cx="471.90" cy="501.95" rx="0.49" ry="0.49" transform="rotate(0 471.90 501.95)" fill="#6f4f96" opacity="0.8"/>
<ellipse cx="470.69" cy="499.71" rx="0.49" ry="0.49" transform="rotate(0 470.69 499.71)" fill="#6f4f96" opacity="0.8"/>
<ellipse cx="471.25" cy="503.44" rx="0.49" ry="0.49" transform="rotate(0 471.25 503.44)" fill="#6f4f96" opacity="0.8"/>
<ellipse cx="471.51" cy="499.73" rx="0.49" ry="0.49" transform="rotate(0 471.51 499.73)" fill="#6f4f96" opacity="0.8"/>
<ellipse cx="473.85" cy="502.03" rx="0.49" ry="0.49" transform="rotate(0 473.85 502.03)" fill="#6f4f96" opacity="0.8"/>
<ellipse cx="469.61" cy="501.09" rx="0.49" ry="0.49" transform="rotate(0 469.61 501.09)" fill="#6f4f96" opacity="0.8"/>
<ellipse cx="472.35" cy="500.12" rx="0.49" ry="0.49" transform="rotate(0 472.35 500.12)" fill="#8464a6" opacity="0.8"/>
<ellipse cx="470.57" cy="505.57" rx="0.49" ry="0.49" transform="rotate(0 470.57 505.57)" fill="#7a58a0" opacity="0.8"/>
<ellipse cx="470.46" cy="501.44" rx="0.49" ry="0.49" transform="rotate(0 470.46 501.44)" fill="#7a58a0" opacity="0.8"/>
<ellipse cx="471.47" cy="502.32" rx="0.49" ry="0.49" transform="rotate(0 471.47 502.32)" fill="#5d3f88" opacity="0.8"/>
<ellipse cx="474.30" cy="501.78" rx="0.49" ry="0.49" transform="rotate(0 474.30 501.78)" fill="#8464a6" opacity="0.8"/>
<ellipse cx="470.06" cy="502.96" rx="0.49" ry="0.49" transform="rotate(0 470.06 502.96)" fill="#7a58a0" opacity="0.8"/>
<ellipse cx="470.70" cy="502.60" rx="0.49" ry="0.49" transform="rotate(0 470.70 502.60)" fill="#6f4f96" opacity="0.8"/>
<ellipse cx="445.33" cy="487.04" rx="2.12" ry="2.12" transform="rotate(0 445.33 487.04)" fill="#b093c2" opacity="0.9"/>
<ellipse cx="447.07" cy="486.71" rx="0.49" ry="0.49" transform="rotate(0 447.07 486.71)" fill="#6f4f96" opacity="0.8"/>
<ellipse cx="444.03" cy="486.38" rx="0.49" ry="0.49" transform="rotate(0 444.03 486.38)" fill="#7a58a0" opacity="0.8"/>
<ellipse cx="443.43" cy="487.01" rx="0.49" ry="0.49" transform="rotate(0 443.43 487.01)" fill="#7a58a0" opacity="0.8"/>
<ellipse cx="445.03" cy="487.22" rx="0.49" ry="0.49" transform="rotate(0 445.03 487.22)" fill="#5d3f88" opacity="0.8"/>
<ellipse cx="443.77" cy="486.08" rx="0.49" ry="0.49" transform="rotate(0 443.77 486.08)" fill="#5d3f88" opacity="0.8"/>
<ellipse cx="444.44" cy="487.40" rx="0.49" ry="0.49" transform="rotate(0 444.44 487.40)" fill="#5d3f88" opacity="0.8"/>
<ellipse cx="445.41" cy="486.46" rx="0.49" ry="0.49" transform="rotate(0 445.41 486.46)" fill="#7a58a0" opacity="0.8"/>
<ellipse cx="443.96" cy="485.76" rx="0.49" ry="0.49" transform="rotate(0 443.96 485.76)" fill="#8464a6" opacity="0.8"/>
<ellipse cx="445.97" cy="488.17" rx="0.49" ry="0.49" transform="rotate(0 445.97 488.17)" fill="#7a58a0" opacity="0.8"/>
<ellipse cx="446.93" cy="486.59" rx="0.49" ry="0.49" transform="rotate(0 446.93 486.59)" fill="#5d3f88" opacity="0.8"/>
<ellipse cx="445.81" cy="486.75" rx="0.49" ry="0.49" transform="rotate(0 445.81 486.75)" fill="#6f4f96" opacity="0.8"/>
<ellipse cx="445.28" cy="487.14" rx="0.49" ry="0.49" transform="rotate(0 445.28 487.14)" fill="#8464a6" opacity="0.8"/>
<ellipse cx="445.36" cy="486.92" rx="0.49" ry="0.49" transform="rotate(0 445.36 486.92)" fill="#5d3f88" opacity="0.8"/>
<ellipse cx="445.38" cy="487.03" rx="0.49" ry="0.49" transform="rotate(0 445.38 487.03)" fill="#7a58a0" opacity="0.8"/>
<ellipse cx="445.51" cy="486.68" rx="0.49" ry="0.49" transform="rotate(0 445.51 486.68)" fill="#6f4f96" opacity="0.8"/>
<ellipse cx="444.79" cy="487.70" rx="0.49" ry="0.49" transform="rotate(0 444.79 487.70)" fill="#8464a6" opacity="0.8"/>
<ellipse cx="435.38" cy="464.18" rx="2.12" ry="2.12" transform="rotate(0 435.38 464.18)" fill="#b093c2" opacity="0.9"/>
<ellipse cx="436.54" cy="464.39" rx="0.49" ry="0.49" transform="rotate(0 436.54 464.39)" fill="#6f4f96" opacity="0.8"/>
<ellipse cx="434.53" cy="464.23" rx="0.49" ry="0.49" transform="rotate(0 434.53 464.23)" fill="#6f4f96" opacity="0.8"/>
<ellipse cx="435.24" cy="464.59" rx="0.49" ry="0.49" transform="rotate(0 435.24 464.59)" fill="#8464a6" opacity="0.8"/>
<ellipse cx="434.92" cy="463.96" rx="0.49" ry="0.49" transform="rotate(0 434.92 463.96)" fill="#7a58a0" opacity="0.8"/>
<ellipse cx="434.25" cy="463.51" rx="0.49" ry="0.49" transform="rotate(0 434.25 463.51)" fill="#5d3f88" opacity="0.8"/>
<ellipse cx="435.68" cy="464.97" rx="0.49" ry="0.49" transform="rotate(0 435.68 464.97)" fill="#5d3f88" opacity="0.8"/>
<ellipse cx="435.37" cy="463.78" rx="0.49" ry="0.49" transform="rotate(0 435.37 463.78)" fill="#7a58a0" opacity="0.8"/>
<ellipse cx="435.69" cy="463.19" rx="0.49" ry="0.49" transform="rotate(0 435.69 463.19)" fill="#5d3f88" opacity="0.8"/>
<ellipse cx="435.56" cy="463.50" rx="0.49" ry="0.49" transform="rotate(0 435.56 463.50)" fill="#5d3f88" opacity="0.8"/>
<ellipse cx="435.22" cy="464.39" rx="0.49" ry="0.49" transform="rotate(0 435.22 464.39)" fill="#8464a6" opacity="0.8"/>
<ellipse cx="436.52" cy="463.53" rx="0.49" ry="0.49" transform="rotate(0 436.52 463.53)" fill="#7a58a0" opacity="0.8"/>
<ellipse cx="435.45" cy="463.14" rx="0.49" ry="0.49" transform="rotate(0 435.45 463.14)" fill="#7a58a0" opacity="0.8"/>
<ellipse cx="435.05" cy="464.70" rx="0.49" ry="0.49" transform="rotate(0 435.05 464.70)" fill="#6f4f96" opacity="0.8"/>
<ellipse cx="435.42" cy="464.92" rx="0.49" ry="0.49" transform="rotate(0 435.42 464.92)" fill="#5d3f88" opacity="0.8"/>
<ellipse cx="435.38" cy="464.19" rx="0.49" ry="0.49" transform="rotate(0 435.38 464.19)" fill="#5d3f88" opacity="0.8"/>
<ellipse cx="434.28" cy="465.21" rx="0.49" ry="0.49" transform="rotate(0 434.28 465.21)" fill="#7a58a0" opacity="0.8"/>
<ellipse cx="503.54" cy="505.03" rx="2.96" ry="2.96" transform="rotate(0 503.54 505.03)" fill="#b093c2" opacity="0.9"/>
<ellipse cx="504.95" cy="503.01" rx="0.49" ry="0.49" transform="rotate(0 504.95 503.01)" fill="#5d3f88" opacity="0.8"/>
<ellipse cx="501.80" cy="505.33" rx="0.49" ry="0.49" transform="rotate(0 501.80 505.33)" fill="#6f4f96" opacity="0.8"/>
<ellipse cx="506.11" cy="504.20" rx="0.49" ry="0.49" transform="rotate(0 506.11 504.20)" fill="#6f4f96" opacity="0.8"/>
<ellipse cx="503.45" cy="504.84" rx="0.49" ry="0.49" transform="rotate(0 503.45 504.84)" fill="#6f4f96" opacity="0.8"/>
<ellipse cx="503.43" cy="503.77" rx="0.49" ry="0.49" transform="rotate(0 503.43 503.77)" fill="#8464a6" opacity="0.8"/>
<ellipse cx="505.88" cy="504.14" rx="0.49" ry="0.49" transform="rotate(0 505.88 504.14)" fill="#5d3f88" opacity="0.8"/>
<ellipse cx="505.32" cy="506.18" rx="0.49" ry="0.49" transform="rotate(0 505.32 506.18)" fill="#6f4f96" opacity="0.8"/>
<ellipse cx="503.89" cy="503.34" rx="0.49" ry="0.49" transform="rotate(0 503.89 503.34)" fill="#8464a6" opacity="0.8"/>
<ellipse cx="502.23" cy="504.12" rx="0.49" ry="0.49" transform="rotate(0 502.23 504.12)" fill="#7a58a0" opacity="0.8"/>
<ellipse cx="502.83" cy="505.36" rx="0.49" ry="0.49" transform="rotate(0 502.83 505.36)" fill="#6f4f96" opacity="0.8"/>
<ellipse cx="503.29" cy="505.22" rx="0.49" ry="0.49" transform="rotate(0 503.29 505.22)" fill="#6f4f96" opacity="0.8"/>
<ellipse cx="505.55" cy="506.55" rx="0.49" ry="0.49" transform="rotate(0 505.55 506.55)" fill="#8464a6" opacity="0.8"/>
<ellipse cx="503.68" cy="506.59" rx="0.49" ry="0.49" transform="rotate(0 503.68 506.59)" fill="#8464a6" opacity="0.8"/>
<ellipse cx="502.78" cy="505.60" rx="0.49" ry="0.49" transform="rotate(0 502.78 505.60)" fill="#8464a6" opacity="0.8"/>
<ellipse cx="501.15" cy="504.11" rx="0.49" ry="0.49" transform="rotate(0 501.15 504.11)" fill="#6f4f96" opacity="0.8"/>
<ellipse cx="501.74" cy="503.71" rx="0.49" ry="0.49" transform="rotate(0 501.74 503.71)" fill="#6f4f96" opacity="0.8"/>
<ellipse cx="505.01" cy="505.90" rx="0.49" ry="0.49" transform="rotate(0 505.01 505.90)" fill="#6f4f96" opacity="0.8"/>
<ellipse cx="505.08" cy="504.33" rx="0.49" ry="0.49" transform="rotate(0 505.08 504.33)" fill="#8464a6" opacity="0.8"/>
<ellipse cx="503.25" cy="505.29" rx="0.49" ry="0.49" transform="rotate(0 503.25 505.29)" fill="#5d3f88" opacity="0.8"/>
<ellipse cx="503.88" cy="505.19" rx="0.49" ry="0.49" transform="rotate(0 503.88 505.19)" fill="#8464a6" opacity="0.8"/>
<ellipse cx="501.43" cy="505.11" rx="0.49" ry="0.49" transform="rotate(0 501.43 505.11)" fill="#7a58a0" opacity="0.8"/>
<ellipse cx="503.50" cy="504.89" rx="0.49" ry="0.49" transform="rotate(0 503.50 504.89)" fill="#7a58a0" opacity="0.8"/>
<ellipse cx="432.63" cy="472.22" rx="1.91" ry="1.91" transform="rotate(0 432.63 472.22)" fill="#b093c2" opacity="0.9"/>
<ellipse cx="433.06" cy="472.77" rx="0.49" ry="0.49" transform="rotate(0 433.06 472.77)" fill="#6f4f96" opacity="0.8"/>
<ellipse cx="433.95" cy="473.12" rx="0.49" ry="0.49" transform="rotate(0 433.95 473.12)" fill="#8464a6" opacity="0.8"/>
<ellipse cx="432.08" cy="470.65" rx="0.49" ry="0.49" transform="rotate(0 432.08 470.65)" fill="#7a58a0" opacity="0.8"/>
<ellipse cx="433.08" cy="473.19" rx="0.49" ry="0.49" transform="rotate(0 433.08 473.19)" fill="#7a58a0" opacity="0.8"/>
<ellipse cx="433.05" cy="473.08" rx="0.49" ry="0.49" transform="rotate(0 433.05 473.08)" fill="#8464a6" opacity="0.8"/>
<ellipse cx="432.63" cy="472.22" rx="0.49" ry="0.49" transform="rotate(0 432.63 472.22)" fill="#8464a6" opacity="0.8"/>
<ellipse cx="432.63" cy="472.27" rx="0.49" ry="0.49" transform="rotate(0 432.63 472.27)" fill="#8464a6" opacity="0.8"/>
<ellipse cx="433.58" cy="471.18" rx="0.49" ry="0.49" transform="rotate(0 433.58 471.18)" fill="#8464a6" opacity="0.8"/>
<ellipse cx="432.92" cy="471.06" rx="0.49" ry="0.49" transform="rotate(0 432.92 471.06)" fill="#5d3f88" opacity="0.8"/>
<ellipse cx="432.24" cy="472.09" rx="0.49" ry="0.49" transform="rotate(0 432.24 472.09)" fill="#8464a6" opacity="0.8"/>
<ellipse cx="432.19" cy="472.26" rx="0.49" ry="0.49" transform="rotate(0 432.19 472.26)" fill="#5d3f88" opacity="0.8"/>
<ellipse cx="432.50" cy="472.15" rx="0.49" ry="0.49" transform="rotate(0 432.50 472.15)" fill="#8464a6" opacity="0.8"/>
<ellipse cx="432.88" cy="472.15" rx="0.49" ry="0.49" transform="rotate(0 432.88 472.15)" fill="#6f4f96" opacity="0.8"/>
<ellipse cx="431.97" cy="472.57" rx="0.49" ry="0.49" transform="rotate(0 431.97 472.57)" fill="#8464a6" opacity="0.8"/>
<ellipse cx="448.51" cy="478.57" rx="1.27" ry="1.27" transform="rotate(0 448.51 478.57)" fill="#b093c2" opacity="0.9"/>
<ellipse cx="448.48" cy="478.64" rx="0.49" ry="0.49" transform="rotate(0 448.48 478.64)" fill="#8464a6" opacity="0.8"/>
<ellipse cx="448.50" cy="478.57" rx="0.49" ry="0.49" transform="rotate(0 448.50 478.57)" fill="#7a58a0" opacity="0.8"/>
<ellipse cx="448.15" cy="479.35" rx="0.49" ry="0.49" transform="rotate(0 448.15 479.35)" fill="#7a58a0" opacity="0.8"/>
<ellipse cx="448.94" cy="478.19" rx="0.49" ry="0.49" transform="rotate(0 448.94 478.19)" fill="#7a58a0" opacity="0.8"/>
<ellipse cx="447.97" cy="479.27" rx="0.49" ry="0.49" transform="rotate(0 447.97 479.27)" fill="#6f4f96" opacity="0.8"/>
<ellipse cx="447.99" cy="479.26" rx="0.49" ry="0.49" transform="rotate(0 447.99 479.26)" fill="#5d3f88" opacity="0.8"/>
<ellipse cx="448.84" cy="477.68" rx="0.49" ry="0.49" transform="rotate(0 448.84 477.68)" fill="#7a58a0" opacity="0.8"/>
<ellipse cx="449.14" cy="479.12" rx="0.49" ry="0.49" transform="rotate(0 449.14 479.12)" fill="#5d3f88" opacity="0.8"/>
<ellipse cx="447.58" cy="478.70" rx="0.49" ry="0.49" transform="rotate(0 447.58 478.70)" fill="#6f4f96" opacity="0.8"/>
<ellipse cx="448.08" cy="440.04" rx="2.75" ry="2.12" transform="rotate(10 448.08 440.04)" fill="#c91f52" opacity="1"/>
<ellipse cx="453.80" cy="442.58" rx="2.75" ry="2.33" transform="rotate(0 453.80 442.58)" fill="#c91f52" opacity="1"/>
<ellipse cx="457.61" cy="447.24" rx="1.91" ry="1.91" transform="rotate(0 457.61 447.24)" fill="#c91f52" opacity="1"/>
<ellipse cx="449.56" cy="454.23" rx="3.81" ry="1.69" transform="rotate(-20 449.56 454.23)" fill="#c91f52" opacity="1"/>
<ellipse cx="481.53" cy="453.17" rx="1.48" ry="1.91" transform="rotate(0 481.53 453.17)" fill="#c91f52" opacity="1"/>
<ellipse cx="484.07" cy="489.58" rx="4.23" ry="2.33" transform="rotate(-20 484.07 489.58)" fill="#c91f52" opacity="1"/>
<ellipse cx="489.15" cy="499.74" rx="6.35" ry="2.33" transform="rotate(-22 489.15 499.74)" fill="#c91f52" opacity="1"/>
<ellipse cx="484.49" cy="505.67" rx="3.18" ry="2.12" transform="rotate(-10 484.49 505.67)" fill="#c91f52" opacity="1"/>
<ellipse cx="480.68" cy="495.51" rx="1.69" ry="2.12" transform="rotate(0 480.68 495.51)" fill="#c91f52" opacity="1"/>
<ellipse cx="486.61" cy="494.45" rx="2.12" ry="1.69" transform="rotate(0 486.61 494.45)" fill="#c91f52" opacity="1"/>
<ellipse cx="498.25" cy="500.80" rx="4.66" ry="2.12" transform="rotate(-10 498.25 500.80)" fill="#b8467e" opacity="0.85"/>
<ellipse cx="507.78" cy="502.91" rx="3.81" ry="1.91" transform="rotate(5 507.78 502.91)" fill="#b8467e" opacity="0.85"/>
</g>
</g>
<rect x="393.5" y="505.0" width="16.4" height="2.2" fill="#000"/>
<text transform="translate(392.9 502.0)" font-size="8.7" text-anchor="start" fill="#2d2d2d">200 &#181;m</text>
<g clip-path="url(#cp)">
<rect x="545.4" y="435.3" width="139.6" height="75.7" fill="#f6f5fa"/>
<g filter="url(#b03)">
<ellipse cx="536.06" cy="433.04" rx="6.46" ry="4.05" transform="rotate(60.92850853034468 536.06 433.04)" fill="#dcdaea" opacity="1"/>
<ellipse cx="547.17" cy="432.24" rx="6.34" ry="3.87" transform="rotate(53.68942020705611 547.17 432.24)" fill="#d3d1e3" opacity="1"/>
<ellipse cx="555.31" cy="430.89" rx="6.18" ry="3.46" transform="rotate(47.81104156570144 555.31 430.89)" fill="#dcdaea" opacity="1"/>
<ellipse cx="564.77" cy="431.26" rx="6.26" ry="3.68" transform="rotate(58.79938006576421 564.77 431.26)" fill="#dcdaea" opacity="1"/>
<ellipse cx="575.95" cy="433.10" rx="5.82" ry="3.59" transform="rotate(53.939673725986474 575.95 433.10)" fill="#dcdaea" opacity="1"/>
<ellipse cx="586.91" cy="432.29" rx="6.04" ry="3.82" transform="rotate(69.62688296442568 586.91 432.29)" fill="#dcdaea" opacity="1"/>
<ellipse cx="596.02" cy="432.89" rx="5.98" ry="4.38" transform="rotate(67.2377857006945 596.02 432.89)" fill="#dad8e8" opacity="1"/>
<ellipse cx="605.52" cy="431.69" rx="6.21" ry="4.16" transform="rotate(55.794511079722575 605.52 431.69)" fill="#dad8e8" opacity="1"/>
<ellipse cx="617.71" cy="432.22" rx="6.78" ry="4.35" transform="rotate(38.18627251181826 617.71 432.22)" fill="#d6d4e5" opacity="1"/>
<ellipse cx="626.60" cy="432.29" rx="6.52" ry="3.55" transform="rotate(45.72225947449312 626.60 432.29)" fill="#dad8e8" opacity="1"/>
<ellipse cx="638.24" cy="433.21" rx="5.26" ry="3.97" transform="rotate(60.88445197513403 638.24 433.21)" fill="#d3d1e3" opacity="1"/>
<ellipse cx="646.94" cy="433.15" rx="5.62" ry="4.04" transform="rotate(56.39474903266674 646.94 433.15)" fill="#d3d1e3" opacity="1"/>
<ellipse cx="656.66" cy="430.95" rx="6.39" ry="4.21" transform="rotate(39.32000559067466 656.66 430.95)" fill="#d6d4e5" opacity="1"/>
<ellipse cx="669.28" cy="431.65" rx="6.10" ry="4.21" transform="rotate(35.828456030646606 669.28 431.65)" fill="#d3d1e3" opacity="1"/>
<ellipse cx="676.98" cy="433.04" rx="6.05" ry="3.82" transform="rotate(62.86092081967284 676.98 433.04)" fill="#dad8e8" opacity="1"/>
<ellipse cx="688.31" cy="433.26" rx="5.15" ry="3.48" transform="rotate(45.32483099469862 688.31 433.26)" fill="#d6d4e5" opacity="1"/>
<ellipse cx="541.14" cy="436.65" rx="5.69" ry="4.05" transform="rotate(65.71941400447149 541.14 436.65)" fill="#d6d4e5" opacity="1"/>
<ellipse cx="550.46" cy="437.50" rx="5.72" ry="3.39" transform="rotate(37.59220589175479 550.46 437.50)" fill="#d6d4e5" opacity="1"/>
<ellipse cx="562.51" cy="438.06" rx="6.83" ry="3.34" transform="rotate(56.554388288185166 562.51 438.06)" fill="#d3d1e3" opacity="1"/>
<ellipse cx="570.41" cy="438.36" rx="6.71" ry="4.25" transform="rotate(40.43805445319481 570.41 438.36)" fill="#dad8e8" opacity="1"/>
<ellipse cx="580.69" cy="436.98" rx="6.97" ry="4.39" transform="rotate(35.5238778475632 580.69 436.98)" fill="#d3d1e3" opacity="1"/>
<ellipse cx="592.09" cy="437.51" rx="6.18" ry="3.32" transform="rotate(42.987521016636144 592.09 437.51)" fill="#dcdaea" opacity="1"/>
<ellipse cx="600.50" cy="438.41" rx="6.45" ry="3.32" transform="rotate(56.727294840825195 600.50 438.41)" fill="#dad8e8" opacity="1"/>
<ellipse cx="610.72" cy="437.79" rx="5.19" ry="4.32" transform="rotate(53.38333769929932 610.72 437.79)" fill="#dcdaea" opacity="1"/>
<ellipse cx="622.59" cy="438.80" rx="5.72" ry="3.62" transform="rotate(42.32268518500081 622.59 438.80)" fill="#d3d1e3" opacity="1"/>
<ellipse cx="630.94" cy="436.52" rx="5.75" ry="3.79" transform="rotate(57.43363715954339 630.94 436.52)" fill="#dad8e8" opacity="1"/>
<ellipse cx="642.37" cy="437.92" rx="5.57" ry="3.70" transform="rotate(60.354357800061464 642.37 437.92)" fill="#d6d4e5" opacity="1"/>
<ellipse cx="653.27" cy="436.98" rx="5.29" ry="3.21" transform="rotate(35.98573116163383 653.27 436.98)" fill="#d3d1e3" opacity="1"/>
<ellipse cx="663.00" cy="436.55" rx="5.53" ry="3.51" transform="rotate(41.33590408839596 663.00 436.55)" fill="#dad8e8" opacity="1"/>
<ellipse cx="673.49" cy="438.70" rx="5.33" ry="3.41" transform="rotate(45.96924606595939 673.49 438.70)" fill="#dcdaea" opacity="1"/>
<ellipse cx="684.09" cy="438.57" rx="6.72" ry="3.20" transform="rotate(35.95677254909326 684.09 438.57)" fill="#d3d1e3" opacity="1"/>
<ellipse cx="534.83" cy="442.99" rx="5.69" ry="3.95" transform="rotate(35.4914980425079 534.83 442.99)" fill="#dad8e8" opacity="1"/>
<ellipse cx="545.66" cy="442.31" rx="6.24" ry="3.60" transform="rotate(45.5234589083845 545.66 442.31)" fill="#d3d1e3" opacity="1"/>
<ellipse cx="555.26" cy="442.79" rx="6.98" ry="4.08" transform="rotate(60.77397206364958 555.26 442.79)" fill="#d3d1e3" opacity="1"/>
<ellipse cx="564.97" cy="444.61" rx="6.19" ry="4.13" transform="rotate(53.48017906177311 564.97 444.61)" fill="#dcdaea" opacity="1"/>
<ellipse cx="576.54" cy="443.40" rx="6.72" ry="4.44" transform="rotate(63.590870897016785 576.54 443.40)" fill="#dad8e8" opacity="1"/>
<ellipse cx="585.21" cy="442.20" rx="5.25" ry="4.31" transform="rotate(58.01452326441883 585.21 442.20)" fill="#d3d1e3" opacity="1"/>
<ellipse cx="597.21" cy="442.22" rx="6.87" ry="3.55" transform="rotate(62.00626567852375 597.21 442.22)" fill="#dcdaea" opacity="1"/>
<ellipse cx="606.86" cy="443.50" rx="6.83" ry="4.24" transform="rotate(48.804373342136074 606.86 443.50)" fill="#dad8e8" opacity="1"/>
<ellipse cx="616.09" cy="443.05" rx="5.69" ry="3.24" transform="rotate(49.03218308230374 616.09 443.05)" fill="#d6d4e5" opacity="1"/>
<ellipse cx="627.88" cy="443.25" rx="6.60" ry="3.34" transform="rotate(69.07444483941737 627.88 443.25)" fill="#d3d1e3" opacity="1"/>
<ellipse cx="638.54" cy="443.19" rx="6.91" ry="3.97" transform="rotate(52.57716464395425 638.54 443.19)" fill="#d3d1e3" opacity="1"/>
<ellipse cx="648.26" cy="443.20" rx="6.97" ry="3.50" transform="rotate(61.253997225834425 648.26 443.20)" fill="#d6d4e5" opacity="1"/>
<ellipse cx="658.57" cy="442.83" rx="6.98" ry="3.63" transform="rotate(55.535295314454515 658.57 442.83)" fill="#dad8e8" opacity="1"/>
<ellipse cx="666.76" cy="444.40" rx="6.91" ry="3.63" transform="rotate(62.66693711722135 666.76 444.40)" fill="#dcdaea" opacity="1"/>
<ellipse cx="678.58" cy="443.10" rx="5.78" ry="3.46" transform="rotate(64.00297211399787 678.58 443.10)" fill="#dad8e8" opacity="1"/>
<ellipse cx="688.79" cy="442.71" rx="5.12" ry="4.31" transform="rotate(62.328376875944016 688.79 442.71)" fill="#d3d1e3" opacity="1"/>
<ellipse cx="541.06" cy="450.31" rx="6.59" ry="3.33" transform="rotate(50.27456749047639 541.06 450.31)" fill="#dcdaea" opacity="1"/>
<ellipse cx="550.90" cy="450.30" rx="6.28" ry="4.30" transform="rotate(41.79941378438924 550.90 450.30)" fill="#dcdaea" opacity="1"/>
<ellipse cx="559.84" cy="449.51" rx="6.41" ry="3.92" transform="rotate(55.087455673974375 559.84 449.51)" fill="#dad8e8" opacity="1"/>
<ellipse cx="572.38" cy="450.35" rx="6.48" ry="4.11" transform="rotate(38.18092689170263 572.38 450.35)" fill="#dcdaea" opacity="1"/>
<ellipse cx="580.19" cy="449.79" rx="6.82" ry="3.36" transform="rotate(38.334483716782906 580.19 449.79)" fill="#d6d4e5" opacity="1"/>
<ellipse cx="590.31" cy="448.40" rx="5.76" ry="3.27" transform="rotate(39.46261059528809 590.31 448.40)" fill="#dad8e8" opacity="1"/>
<ellipse cx="601.64" cy="448.08" rx="5.72" ry="4.19" transform="rotate(41.25139488069845 601.64 448.08)" fill="#dad8e8" opacity="1"/>
<ellipse cx="611.71" cy="450.18" rx="5.19" ry="3.47" transform="rotate(62.791448256250455 611.71 450.18)" fill="#d3d1e3" opacity="1"/>
<ellipse cx="623.05" cy="448.09" rx="6.44" ry="3.82" transform="rotate(65.44899179302085 623.05 448.09)" fill="#d3d1e3" opacity="1"/>
<ellipse cx="632.46" cy="449.69" rx="5.73" ry="4.10" transform="rotate(47.42410484918097 632.46 449.69)" fill="#d6d4e5" opacity="1"/>
<ellipse cx="641.66" cy="448.30" rx="5.81" ry="4.13" transform="rotate(57.66449649856399 641.66 448.30)" fill="#dcdaea" opacity="1"/>
<ellipse cx="652.73" cy="450.07" rx="5.60" ry="3.44" transform="rotate(56.73333495472251 652.73 450.07)" fill="#dad8e8" opacity="1"/>
<ellipse cx="664.21" cy="448.13" rx="6.81" ry="4.05" transform="rotate(51.383861243730614 664.21 448.13)" fill="#d3d1e3" opacity="1"/>
<ellipse cx="673.20" cy="450.10" rx="6.70" ry="3.52" transform="rotate(48.33589202139482 673.20 450.10)" fill="#dcdaea" opacity="1"/>
<ellipse cx="684.41" cy="449.50" rx="6.28" ry="3.61" transform="rotate(38.174966786600166 684.41 449.50)" fill="#d3d1e3" opacity="1"/>
<ellipse cx="534.47" cy="455.12" rx="6.87" ry="3.63" transform="rotate(44.03256130880398 534.47 455.12)" fill="#d6d4e5" opacity="1"/>
<ellipse cx="544.68" cy="454.93" rx="5.39" ry="3.38" transform="rotate(62.23381483086179 544.68 454.93)" fill="#dad8e8" opacity="1"/>
<ellipse cx="557.33" cy="453.97" rx="6.74" ry="3.48" transform="rotate(47.78483518195358 557.33 453.97)" fill="#d6d4e5" opacity="1"/>
<ellipse cx="564.85" cy="454.51" rx="6.96" ry="3.65" transform="rotate(44.749501492955645 564.85 454.51)" fill="#d6d4e5" opacity="1"/>
<ellipse cx="576.36" cy="455.18" rx="5.82" ry="3.52" transform="rotate(45.19319420366014 576.36 455.18)" fill="#dad8e8" opacity="1"/>
<ellipse cx="587.62" cy="454.43" rx="6.02" ry="4.30" transform="rotate(52.40214802060342 587.62 454.43)" fill="#dad8e8" opacity="1"/>
<ellipse cx="597.45" cy="454.12" rx="6.05" ry="3.20" transform="rotate(53.203060725194945 597.45 454.12)" fill="#d6d4e5" opacity="1"/>
<ellipse cx="607.87" cy="454.75" rx="5.16" ry="4.11" transform="rotate(37.71961936830944 607.87 454.75)" fill="#d6d4e5" opacity="1"/>
<ellipse cx="615.66" cy="453.61" rx="5.51" ry="3.99" transform="rotate(61.58079188152661 615.66 453.61)" fill="#dad8e8" opacity="1"/>
<ellipse cx="625.74" cy="454.21" rx="6.50" ry="3.75" transform="rotate(48.790463944901276 625.74 454.21)" fill="#d3d1e3" opacity="1"/>
<ellipse cx="636.13" cy="455.01" rx="5.71" ry="3.22" transform="rotate(60.29147603865785 636.13 455.01)" fill="#d6d4e5" opacity="1"/>
<ellipse cx="647.31" cy="455.05" rx="6.85" ry="3.90" transform="rotate(35.890117383340666 647.31 455.05)" fill="#dcdaea" opacity="1"/>
<ellipse cx="658.15" cy="455.46" rx="5.64" ry="3.78" transform="rotate(49.687204781678744 658.15 455.46)" fill="#dad8e8" opacity="1"/>
<ellipse cx="668.64" cy="456.01" rx="6.77" ry="3.74" transform="rotate(37.950928957128376 668.64 456.01)" fill="#d6d4e5" opacity="1"/>
<ellipse cx="679.05" cy="453.62" rx="5.69" ry="3.56" transform="rotate(42.61524142339424 679.05 453.62)" fill="#dad8e8" opacity="1"/>
<ellipse cx="689.06" cy="455.24" rx="6.81" ry="3.32" transform="rotate(45.036528074820254 689.06 455.24)" fill="#dcdaea" opacity="1"/>
<ellipse cx="541.00" cy="461.21" rx="5.88" ry="3.27" transform="rotate(53.858881582029966 541.00 461.21)" fill="#dcdaea" opacity="1"/>
<ellipse cx="551.72" cy="461.39" rx="6.07" ry="4.04" transform="rotate(64.87198031506922 551.72 461.39)" fill="#d3d1e3" opacity="1"/>
<ellipse cx="560.15" cy="459.38" rx="6.43" ry="4.21" transform="rotate(41.63408437000236 560.15 459.38)" fill="#d3d1e3" opacity="1"/>
<ellipse cx="570.33" cy="459.70" rx="6.33" ry="3.97" transform="rotate(40.59708119739938 570.33 459.70)" fill="#dad8e8" opacity="1"/>
<ellipse cx="581.48" cy="460.95" rx="5.12" ry="3.72" transform="rotate(53.66610165119188 581.48 460.95)" fill="#dcdaea" opacity="1"/>
<ellipse cx="592.88" cy="460.43" rx="5.87" ry="3.47" transform="rotate(64.63136783806833 592.88 460.43)" fill="#d3d1e3" opacity="1"/>
<ellipse cx="602.16" cy="460.87" rx="6.66" ry="3.25" transform="rotate(45.16890079023182 602.16 460.87)" fill="#d6d4e5" opacity="1"/>
<ellipse cx="611.44" cy="460.81" rx="5.87" ry="3.26" transform="rotate(64.36856803834871 611.44 460.81)" fill="#dcdaea" opacity="1"/>
<ellipse cx="623.06" cy="460.17" rx="5.96" ry="3.26" transform="rotate(36.012360927251954 623.06 460.17)" fill="#dad8e8" opacity="1"/>
<ellipse cx="630.88" cy="459.36" rx="5.80" ry="3.67" transform="rotate(64.62574850119205 630.88 459.36)" fill="#dad8e8" opacity="1"/>
<ellipse cx="641.68" cy="461.19" rx="5.76" ry="4.15" transform="rotate(58.08496376515263 641.68 461.19)" fill="#d6d4e5" opacity="1"/>
<ellipse cx="651.42" cy="460.89" rx="6.36" ry="3.50" transform="rotate(51.24362050870921 651.42 460.89)" fill="#d3d1e3" opacity="1"/>
<ellipse cx="662.49" cy="460.63" rx="6.66" ry="4.04" transform="rotate(41.76326770590867 662.49 460.63)" fill="#dad8e8" opacity="1"/>
<ellipse cx="671.50" cy="459.81" rx="6.74" ry="3.94" transform="rotate(51.708817621815385 671.50 459.81)" fill="#dcdaea" opacity="1"/>
<ellipse cx="683.69" cy="460.24" rx="6.50" ry="3.81" transform="rotate(68.33694003305027 683.69 460.24)" fill="#dad8e8" opacity="1"/>
<ellipse cx="536.83" cy="465.55" rx="6.11" ry="3.92" transform="rotate(66.35905572937038 536.83 465.55)" fill="#d3d1e3" opacity="1"/>
<ellipse cx="544.53" cy="466.45" rx="6.91" ry="3.51" transform="rotate(45.28227857326007 544.53 466.45)" fill="#dad8e8" opacity="1"/>
<ellipse cx="557.15" cy="466.30" rx="5.32" ry="3.65" transform="rotate(37.93544443032196 557.15 466.30)" fill="#dcdaea" opacity="1"/>
<ellipse cx="564.85" cy="466.98" rx="5.84" ry="3.60" transform="rotate(38.16737503412768 564.85 466.98)" fill="#d3d1e3" opacity="1"/>
<ellipse cx="575.46" cy="466.75" rx="6.06" ry="3.70" transform="rotate(52.27726953058365 575.46 466.75)" fill="#dcdaea" opacity="1"/>
<ellipse cx="586.58" cy="465.66" rx="5.08" ry="3.43" transform="rotate(53.8403091859345 586.58 465.66)" fill="#dad8e8" opacity="1"/>
<ellipse cx="596.62" cy="466.96" rx="6.92" ry="4.12" transform="rotate(56.6223128682518 596.62 466.96)" fill="#dad8e8" opacity="1"/>
<ellipse cx="605.75" cy="466.88" rx="5.46" ry="3.66" transform="rotate(55.441082419306326 605.75 466.88)" fill="#d3d1e3" opacity="1"/>
<ellipse cx="615.57" cy="466.38" rx="6.04" ry="3.90" transform="rotate(44.894159371037276 615.57 466.38)" fill="#dcdaea" opacity="1"/>
<ellipse cx="626.69" cy="466.48" rx="6.32" ry="3.93" transform="rotate(67.89172065637564 626.69 466.48)" fill="#dcdaea" opacity="1"/>
<ellipse cx="635.95" cy="466.42" rx="6.28" ry="3.99" transform="rotate(58.19584259579643 635.95 466.42)" fill="#dad8e8" opacity="1"/>
<ellipse cx="647.07" cy="466.09" rx="6.44" ry="3.21" transform="rotate(56.413728286109446 647.07 466.09)" fill="#dcdaea" opacity="1"/>
<ellipse cx="658.02" cy="466.32" rx="5.63" ry="3.38" transform="rotate(50.503222543626876 658.02 466.32)" fill="#d3d1e3" opacity="1"/>
<ellipse cx="668.02" cy="467.52" rx="6.60" ry="3.87" transform="rotate(55.68913876999288 668.02 467.52)" fill="#dcdaea" opacity="1"/>
<ellipse cx="677.56" cy="466.97" rx="6.51" ry="4.16" transform="rotate(65.2029700107924 677.56 466.97)" fill="#dcdaea" opacity="1"/>
<ellipse cx="687.77" cy="466.91" rx="5.88" ry="4.06" transform="rotate(52.66288223640193 687.77 466.91)" fill="#dcdaea" opacity="1"/>
<ellipse cx="542.09" cy="473.00" rx="6.00" ry="3.67" transform="rotate(60.02405842475787 542.09 473.00)" fill="#d6d4e5" opacity="1"/>
<ellipse cx="549.81" cy="472.03" rx="5.61" ry="4.00" transform="rotate(40.847296076253684 549.81 472.03)" fill="#d3d1e3" opacity="1"/>
<ellipse cx="562.05" cy="471.11" rx="5.95" ry="4.14" transform="rotate(48.03164699999766 562.05 471.11)" fill="#d6d4e5" opacity="1"/>
<ellipse cx="571.76" cy="472.67" rx="5.83" ry="3.72" transform="rotate(57.79873585736131 571.76 472.67)" fill="#dad8e8" opacity="1"/>
<ellipse cx="580.03" cy="472.30" rx="5.16" ry="4.11" transform="rotate(57.655650094502846 580.03 472.30)" fill="#dad8e8" opacity="1"/>
<ellipse cx="592.24" cy="472.46" rx="5.92" ry="3.55" transform="rotate(37.786291921744414 592.24 472.46)" fill="#d3d1e3" opacity="1"/>
<ellipse cx="601.92" cy="472.04" rx="6.26" ry="4.16" transform="rotate(60.22902118608626 601.92 472.04)" fill="#dcdaea" opacity="1"/>
<ellipse cx="611.39" cy="471.43" rx="6.01" ry="3.27" transform="rotate(36.798380008565914 611.39 471.43)" fill="#d6d4e5" opacity="1"/>
<ellipse cx="621.35" cy="473.18" rx="5.63" ry="3.80" transform="rotate(51.40086939625334 621.35 473.18)" fill="#dad8e8" opacity="1"/>
<ellipse cx="631.27" cy="471.38" rx="6.29" ry="3.64" transform="rotate(47.013151097343076 631.27 471.38)" fill="#dad8e8" opacity="1"/>
<ellipse cx="643.41" cy="472.45" rx="5.59" ry="3.23" transform="rotate(57.89689941518965 643.41 472.45)" fill="#d3d1e3" opacity="1"/>
<ellipse cx="651.45" cy="472.51" rx="5.21" ry="3.85" transform="rotate(46.37872996251258 651.45 472.51)" fill="#dcdaea" opacity="1"/>
<ellipse cx="663.18" cy="472.68" rx="6.69" ry="3.79" transform="rotate(48.61331573082289 663.18 472.68)" fill="#dad8e8" opacity="1"/>
<ellipse cx="671.57" cy="471.40" rx="5.77" ry="3.85" transform="rotate(48.35922395528871 671.57 471.40)" fill="#d3d1e3" opacity="1"/>
<ellipse cx="681.66" cy="472.97" rx="5.18" ry="3.62" transform="rotate(39.15082451097047 681.66 472.97)" fill="#dad8e8" opacity="1"/>
<ellipse cx="536.48" cy="477.60" rx="5.49" ry="4.37" transform="rotate(39.12464781399525 536.48 477.60)" fill="#d3d1e3" opacity="1"/>
<ellipse cx="546.90" cy="478.77" rx="5.41" ry="4.02" transform="rotate(55.49131181531082 546.90 478.77)" fill="#d6d4e5" opacity="1"/>
<ellipse cx="556.41" cy="476.79" rx="5.90" ry="3.34" transform="rotate(53.98221996206608 556.41 476.79)" fill="#dcdaea" opacity="1"/>
<ellipse cx="567.30" cy="478.84" rx="5.30" ry="3.76" transform="rotate(58.32151598797566 567.30 478.84)" fill="#d3d1e3" opacity="1"/>
<ellipse cx="576.67" cy="477.60" rx="5.65" ry="3.66" transform="rotate(53.03692410591294 576.67 477.60)" fill="#dad8e8" opacity="1"/>
<ellipse cx="587.57" cy="477.71" rx="6.72" ry="4.14" transform="rotate(49.46322246982224 587.57 477.71)" fill="#d6d4e5" opacity="1"/>
<ellipse cx="596.32" cy="477.59" rx="5.11" ry="4.32" transform="rotate(43.42476380759726 596.32 477.59)" fill="#d6d4e5" opacity="1"/>
<ellipse cx="606.21" cy="478.84" rx="6.88" ry="4.34" transform="rotate(49.83465391583264 606.21 478.84)" fill="#d6d4e5" opacity="1"/>
<ellipse cx="616.86" cy="478.38" rx="6.33" ry="3.53" transform="rotate(41.93937660153658 616.86 478.38)" fill="#dad8e8" opacity="1"/>
<ellipse cx="627.88" cy="478.75" rx="5.59" ry="3.33" transform="rotate(53.67471996232606 627.88 478.75)" fill="#d3d1e3" opacity="1"/>
<ellipse cx="636.85" cy="477.44" rx="6.52" ry="4.35" transform="rotate(54.737064885476286 636.85 477.44)" fill="#dcdaea" opacity="1"/>
<ellipse cx="647.81" cy="477.94" rx="5.81" ry="4.43" transform="rotate(45.92634616306042 647.81 477.94)" fill="#d6d4e5" opacity="1"/>
<ellipse cx="658.01" cy="476.60" rx="5.79" ry="4.39" transform="rotate(37.42131145584467 658.01 476.60)" fill="#d3d1e3" opacity="1"/>
<ellipse cx="666.86" cy="477.03" rx="6.17" ry="3.85" transform="rotate(62.66525676782915 666.86 477.03)" fill="#d3d1e3" opacity="1"/>
<ellipse cx="678.18" cy="478.12" rx="6.02" ry="4.10" transform="rotate(58.763550090847836 678.18 478.12)" fill="#dcdaea" opacity="1"/>
<ellipse cx="688.37" cy="478.85" rx="5.11" ry="3.59" transform="rotate(45.78581635927293 688.37 478.85)" fill="#d3d1e3" opacity="1"/>
<ellipse cx="542.31" cy="483.86" rx="5.43" ry="3.94" transform="rotate(35.397630898250256 542.31 483.86)" fill="#d6d4e5" opacity="1"/>
<ellipse cx="549.93" cy="484.03" rx="6.81" ry="3.45" transform="rotate(44.971145299903085 549.93 484.03)" fill="#dcdaea" opacity="1"/>
<ellipse cx="560.44" cy="484.12" rx="6.02" ry="4.10" transform="rotate(61.07585196421445 560.44 484.12)" fill="#d3d1e3" opacity="1"/>
<ellipse cx="572.13" cy="483.46" rx="5.66" ry="3.56" transform="rotate(69.26473347706872 572.13 483.46)" fill="#d6d4e5" opacity="1"/>
<ellipse cx="580.47" cy="484.61" rx="5.09" ry="3.73" transform="rotate(39.20968489095686 580.47 484.61)" fill="#d3d1e3" opacity="1"/>
<ellipse cx="591.60" cy="484.27" rx="5.58" ry="4.30" transform="rotate(54.11896929463982 591.60 484.27)" fill="#d3d1e3" opacity="1"/>
<ellipse cx="601.62" cy="484.56" rx="6.15" ry="3.85" transform="rotate(47.71972706209094 601.62 484.56)" fill="#dcdaea" opacity="1"/>
<ellipse cx="610.54" cy="484.40" rx="6.79" ry="4.14" transform="rotate(44.20906095044995 610.54 484.40)" fill="#d6d4e5" opacity="1"/>
<ellipse cx="623.02" cy="483.15" rx="6.21" ry="3.55" transform="rotate(64.92634761707663 623.02 483.15)" fill="#d3d1e3" opacity="1"/>
<ellipse cx="631.67" cy="482.25" rx="6.00" ry="3.85" transform="rotate(43.17514096930036 631.67 482.25)" fill="#dad8e8" opacity="1"/>
<ellipse cx="643.01" cy="482.84" rx="6.31" ry="3.63" transform="rotate(52.78877760629992 643.01 482.84)" fill="#d3d1e3" opacity="1"/>
<ellipse cx="652.69" cy="483.00" rx="5.50" ry="3.27" transform="rotate(54.24947928598784 652.69 483.00)" fill="#d6d4e5" opacity="1"/>
<ellipse cx="662.98" cy="484.39" rx="6.00" ry="4.27" transform="rotate(67.36713832947927 662.98 484.39)" fill="#dcdaea" opacity="1"/>
<ellipse cx="671.75" cy="483.82" rx="6.10" ry="4.20" transform="rotate(56.425633745028286 671.75 483.82)" fill="#dcdaea" opacity="1"/>
<ellipse cx="683.15" cy="483.84" rx="5.58" ry="3.66" transform="rotate(35.30362270769334 683.15 483.84)" fill="#dad8e8" opacity="1"/>
<ellipse cx="536.73" cy="489.75" rx="6.93" ry="4.13" transform="rotate(38.75088685410659 536.73 489.75)" fill="#d3d1e3" opacity="1"/>
<ellipse cx="544.89" cy="489.94" rx="5.85" ry="4.37" transform="rotate(68.46434969574509 544.89 489.94)" fill="#dad8e8" opacity="1"/>
<ellipse cx="556.75" cy="489.79" rx="5.90" ry="4.30" transform="rotate(42.50667610467441 556.75 489.79)" fill="#d3d1e3" opacity="1"/>
<ellipse cx="566.36" cy="487.92" rx="5.83" ry="3.19" transform="rotate(66.71064279919412 566.36 487.92)" fill="#d6d4e5" opacity="1"/>
<ellipse cx="577.06" cy="487.89" rx="6.87" ry="3.51" transform="rotate(57.7739757233077 577.06 487.89)" fill="#dad8e8" opacity="1"/>
<ellipse cx="586.75" cy="488.18" rx="5.55" ry="4.10" transform="rotate(39.33040118167043 586.75 488.18)" fill="#dcdaea" opacity="1"/>
<ellipse cx="597.79" cy="488.74" rx="6.77" ry="3.92" transform="rotate(56.86050621590436 597.79 488.74)" fill="#dad8e8" opacity="1"/>
<ellipse cx="606.49" cy="489.99" rx="6.65" ry="3.40" transform="rotate(54.136680598129495 606.49 489.99)" fill="#dcdaea" opacity="1"/>
<ellipse cx="617.42" cy="488.31" rx="5.30" ry="3.88" transform="rotate(55.71837907367831 617.42 488.31)" fill="#d3d1e3" opacity="1"/>
<ellipse cx="628.55" cy="490.38" rx="6.38" ry="3.34" transform="rotate(58.201891749152615 628.55 490.38)" fill="#dcdaea" opacity="1"/>
<ellipse cx="637.40" cy="489.06" rx="5.47" ry="3.34" transform="rotate(65.99231106150381 637.40 489.06)" fill="#dcdaea" opacity="1"/>
<ellipse cx="648.27" cy="489.76" rx="5.85" ry="3.87" transform="rotate(45.600544273191815 648.27 489.76)" fill="#dcdaea" opacity="1"/>
<ellipse cx="658.80" cy="489.96" rx="5.89" ry="3.51" transform="rotate(65.91029291127725 658.80 489.96)" fill="#dad8e8" opacity="1"/>
<ellipse cx="667.60" cy="489.95" rx="6.96" ry="3.25" transform="rotate(57.46742428461393 667.60 489.95)" fill="#dcdaea" opacity="1"/>
<ellipse cx="676.82" cy="489.99" rx="5.76" ry="3.49" transform="rotate(56.371668001933955 676.82 489.99)" fill="#d3d1e3" opacity="1"/>
<ellipse cx="688.92" cy="489.60" rx="6.73" ry="3.82" transform="rotate(58.52581199088298 688.92 489.60)" fill="#d6d4e5" opacity="1"/>
<ellipse cx="540.11" cy="495.55" rx="5.73" ry="3.83" transform="rotate(44.74685452106988 540.11 495.55)" fill="#dcdaea" opacity="1"/>
<ellipse cx="551.70" cy="495.78" rx="5.47" ry="3.51" transform="rotate(60.41195784369441 551.70 495.78)" fill="#d3d1e3" opacity="1"/>
<ellipse cx="562.10" cy="494.96" rx="5.75" ry="4.09" transform="rotate(57.85222290610844 562.10 494.96)" fill="#dcdaea" opacity="1"/>
<ellipse cx="570.34" cy="494.86" rx="6.91" ry="3.95" transform="rotate(69.64943699423236 570.34 494.86)" fill="#d3d1e3" opacity="1"/>
<ellipse cx="581.41" cy="495.50" rx="5.16" ry="4.03" transform="rotate(65.3021943570881 581.41 495.50)" fill="#dcdaea" opacity="1"/>
<ellipse cx="592.23" cy="494.89" rx="5.48" ry="3.22" transform="rotate(46.30429548733373 592.23 494.89)" fill="#d3d1e3" opacity="1"/>
<ellipse cx="600.69" cy="494.93" rx="6.52" ry="3.38" transform="rotate(51.15596919182467 600.69 494.93)" fill="#d6d4e5" opacity="1"/>
<ellipse cx="611.45" cy="495.07" rx="6.67" ry="3.91" transform="rotate(55.27517553473325 611.45 495.07)" fill="#d3d1e3" opacity="1"/>
<ellipse cx="622.76" cy="495.87" rx="6.56" ry="4.41" transform="rotate(36.012322568334426 622.76 495.87)" fill="#d6d4e5" opacity="1"/>
<ellipse cx="632.85" cy="495.92" rx="5.39" ry="3.36" transform="rotate(64.5286644490073 632.85 495.92)" fill="#d6d4e5" opacity="1"/>
<ellipse cx="643.37" cy="495.96" rx="6.83" ry="3.99" transform="rotate(69.31638205706932 643.37 495.96)" fill="#d6d4e5" opacity="1"/>
<ellipse cx="651.49" cy="495.23" rx="6.40" ry="3.49" transform="rotate(44.35522159308849 651.49 495.23)" fill="#d6d4e5" opacity="1"/>
<ellipse cx="662.36" cy="495.71" rx="5.63" ry="3.41" transform="rotate(41.249331107583885 662.36 495.71)" fill="#dcdaea" opacity="1"/>
<ellipse cx="674.03" cy="494.63" rx="5.71" ry="3.64" transform="rotate(65.88552279408208 674.03 494.63)" fill="#dad8e8" opacity="1"/>
<ellipse cx="681.96" cy="495.99" rx="5.40" ry="4.11" transform="rotate(47.499514384116274 681.96 495.99)" fill="#d6d4e5" opacity="1"/>
<ellipse cx="536.67" cy="500.97" rx="5.31" ry="3.51" transform="rotate(52.47700988028441 536.67 500.97)" fill="#dcdaea" opacity="1"/>
<ellipse cx="544.60" cy="501.60" rx="6.49" ry="3.20" transform="rotate(63.397829733796854 544.60 501.60)" fill="#d3d1e3" opacity="1"/>
<ellipse cx="557.38" cy="499.74" rx="5.48" ry="3.65" transform="rotate(46.211677759572964 557.38 499.74)" fill="#dad8e8" opacity="1"/>
<ellipse cx="567.38" cy="500.64" rx="5.49" ry="3.92" transform="rotate(65.18551499374976 567.38 500.64)" fill="#d3d1e3" opacity="1"/>
<ellipse cx="577.24" cy="499.61" rx="6.36" ry="3.38" transform="rotate(56.00594639512168 577.24 499.61)" fill="#d3d1e3" opacity="1"/>
<ellipse cx="586.16" cy="499.72" rx="6.30" ry="3.54" transform="rotate(52.793699225392984 586.16 499.72)" fill="#d3d1e3" opacity="1"/>
<ellipse cx="596.81" cy="501.00" rx="6.52" ry="4.20" transform="rotate(59.21921381454247 596.81 501.00)" fill="#d6d4e5" opacity="1"/>
<ellipse cx="606.80" cy="501.73" rx="5.93" ry="4.38" transform="rotate(46.118298272542035 606.80 501.73)" fill="#d3d1e3" opacity="1"/>
<ellipse cx="618.07" cy="501.47" rx="5.43" ry="4.07" transform="rotate(53.401772333652346 618.07 501.47)" fill="#dcdaea" opacity="1"/>
<ellipse cx="628.36" cy="501.51" rx="6.55" ry="4.21" transform="rotate(69.48832679529957 628.36 501.51)" fill="#d6d4e5" opacity="1"/>
<ellipse cx="636.14" cy="500.13" rx="5.71" ry="3.29" transform="rotate(48.12802344092223 636.14 500.13)" fill="#d3d1e3" opacity="1"/>
<ellipse cx="647.82" cy="500.17" rx="5.37" ry="3.23" transform="rotate(58.73659513452624 647.82 500.17)" fill="#d3d1e3" opacity="1"/>
<ellipse cx="656.91" cy="500.46" rx="5.77" ry="3.79" transform="rotate(41.20114712459164 656.91 500.46)" fill="#dad8e8" opacity="1"/>
<ellipse cx="669.14" cy="500.91" rx="6.91" ry="4.21" transform="rotate(53.80133283631462 669.14 500.91)" fill="#d6d4e5" opacity="1"/>
<ellipse cx="677.63" cy="499.51" rx="5.94" ry="4.21" transform="rotate(58.616566104536275 677.63 499.51)" fill="#d6d4e5" opacity="1"/>
<ellipse cx="687.13" cy="501.09" rx="5.89" ry="3.66" transform="rotate(48.30681931603142 687.13 501.09)" fill="#dad8e8" opacity="1"/>
<ellipse cx="540.05" cy="506.59" rx="6.43" ry="4.30" transform="rotate(52.70459028082837 540.05 506.59)" fill="#d6d4e5" opacity="1"/>
<ellipse cx="552.41" cy="505.20" rx="5.35" ry="3.31" transform="rotate(45.63473400000575 552.41 505.20)" fill="#dad8e8" opacity="1"/>
<ellipse cx="560.24" cy="506.20" rx="5.57" ry="3.27" transform="rotate(40.41667134552831 560.24 506.20)" fill="#d6d4e5" opacity="1"/>
<ellipse cx="572.03" cy="507.26" rx="6.70" ry="3.66" transform="rotate(52.86714521921618 572.03 507.26)" fill="#d3d1e3" opacity="1"/>
<ellipse cx="581.50" cy="506.30" rx="6.29" ry="4.08" transform="rotate(66.16546015386939 581.50 506.30)" fill="#dad8e8" opacity="1"/>
<ellipse cx="590.74" cy="505.53" rx="6.69" ry="3.73" transform="rotate(35.72139028953548 590.74 505.53)" fill="#d3d1e3" opacity="1"/>
<ellipse cx="600.73" cy="505.72" rx="6.84" ry="3.42" transform="rotate(63.934475245404556 600.73 505.72)" fill="#d3d1e3" opacity="1"/>
<ellipse cx="612.19" cy="505.88" rx="5.73" ry="3.63" transform="rotate(51.844686456934255 612.19 505.88)" fill="#dad8e8" opacity="1"/>
<ellipse cx="621.25" cy="505.96" rx="5.37" ry="4.06" transform="rotate(51.62569269797791 621.25 505.96)" fill="#dcdaea" opacity="1"/>
<ellipse cx="633.58" cy="506.04" rx="6.59" ry="4.35" transform="rotate(41.957253063153985 633.58 506.04)" fill="#dcdaea" opacity="1"/>
<ellipse cx="642.41" cy="506.58" rx="6.23" ry="3.71" transform="rotate(51.32310849943303 642.41 506.58)" fill="#dad8e8" opacity="1"/>
<ellipse cx="651.21" cy="505.13" rx="5.65" ry="4.31" transform="rotate(62.49061878936947 651.21 505.13)" fill="#d3d1e3" opacity="1"/>
<ellipse cx="663.94" cy="506.01" rx="6.23" ry="4.42" transform="rotate(66.45185448503874 663.94 506.01)" fill="#dcdaea" opacity="1"/>
<ellipse cx="672.29" cy="506.72" rx="5.42" ry="3.30" transform="rotate(37.44579936690023 672.29 506.72)" fill="#dcdaea" opacity="1"/>
<ellipse cx="683.21" cy="505.08" rx="5.76" ry="3.98" transform="rotate(42.655769408305694 683.21 505.08)" fill="#dad8e8" opacity="1"/>
<ellipse cx="534.30" cy="512.08" rx="6.18" ry="3.41" transform="rotate(69.54748786868028 534.30 512.08)" fill="#dad8e8" opacity="1"/>
<ellipse cx="544.76" cy="510.93" rx="6.76" ry="4.36" transform="rotate(50.16391271617148 544.76 510.93)" fill="#d6d4e5" opacity="1"/>
<ellipse cx="554.78" cy="511.72" rx="6.08" ry="3.49" transform="rotate(58.72937293714291 554.78 511.72)" fill="#dad8e8" opacity="1"/>
<ellipse cx="565.08" cy="513.00" rx="5.11" ry="3.59" transform="rotate(42.31511859032212 565.08 513.00)" fill="#dad8e8" opacity="1"/>
<ellipse cx="577.33" cy="511.24" rx="5.85" ry="3.23" transform="rotate(46.19144874718113 577.33 511.24)" fill="#d3d1e3" opacity="1"/>
<ellipse cx="587.26" cy="510.99" rx="5.26" ry="4.35" transform="rotate(38.0721394693319 587.26 510.99)" fill="#dcdaea" opacity="1"/>
<ellipse cx="597.26" cy="511.67" rx="6.96" ry="4.13" transform="rotate(39.593199302198414 597.26 511.67)" fill="#dcdaea" opacity="1"/>
<ellipse cx="607.24" cy="513.23" rx="6.80" ry="4.21" transform="rotate(62.10351593085651 607.24 513.23)" fill="#dcdaea" opacity="1"/>
<ellipse cx="618.52" cy="513.26" rx="6.31" ry="4.09" transform="rotate(44.4911323289288 618.52 513.26)" fill="#dcdaea" opacity="1"/>
<ellipse cx="627.71" cy="510.84" rx="5.84" ry="3.34" transform="rotate(45.76052748693007 627.71 510.84)" fill="#d6d4e5" opacity="1"/>
<ellipse cx="637.78" cy="512.92" rx="5.59" ry="3.39" transform="rotate(49.68438210604247 637.78 512.92)" fill="#dad8e8" opacity="1"/>
<ellipse cx="648.98" cy="512.47" rx="5.91" ry="3.34" transform="rotate(50.23912762166654 648.98 512.47)" fill="#d6d4e5" opacity="1"/>
<ellipse cx="657.61" cy="512.07" rx="5.42" ry="4.01" transform="rotate(54.76124063566734 657.61 512.07)" fill="#d6d4e5" opacity="1"/>
<ellipse cx="668.67" cy="513.27" rx="6.72" ry="4.25" transform="rotate(68.78627053789722 668.67 513.27)" fill="#dad8e8" opacity="1"/>
<ellipse cx="678.48" cy="511.44" rx="5.52" ry="4.44" transform="rotate(54.345889755293086 678.48 511.44)" fill="#dad8e8" opacity="1"/>
<ellipse cx="687.50" cy="511.40" rx="5.18" ry="3.34" transform="rotate(48.12529660968365 687.50 511.40)" fill="#dcdaea" opacity="1"/>
</g>
<g filter="url(#b06)">
<polygon points="544.23,440.47 550.58,444.70 560.11,457.40 569.64,472.22 582.34,489.15 590.80,503.97 592.92,512.02 583.40,512.02 578.10,499.74 567.52,484.92 556.93,467.99 548.47,455.29 544.23,448.93" fill="#fcfcfe"/>
<polygon points="544.23,479.63 552.70,483.86 560.11,487.46 556.93,495.51 551.64,503.97 544.23,512.02" fill="#fcfcfe"/>
<polygon points="560.11,495.51 568.58,497.62 573.87,512.02 561.17,512.02" fill="#fcfcfe"/>
<polyline points="580.22,437.29 584.03,453.17 587.63,470.10 590.38,481.75" fill="none" stroke="#fcfcfe" stroke-width="2.0" stroke-linejoin="round" stroke-linecap="round"/>
<polyline points="552.70,435.18 561.17,444.70 571.75,459.52 580.22,474.34" fill="none" stroke="#fcfcfe" stroke-width="1.0" stroke-linejoin="round" stroke-linecap="round"/>
<polygon points="589.75,481.75 601.39,479.63 609.86,484.92 610.91,495.51 607.74,512.02 592.92,512.02 590.80,495.51" fill="#fcfcfe" opacity="0.92"/>
<polyline points="601.39,479.63 609.86,474.34 624.67,475.40" fill="none" stroke="#fcfcfe" stroke-width="1.4" stroke-linejoin="round" stroke-linecap="round"/>
<polygon points="623.62,473.28 633.14,477.51 650.08,484.92 667.01,491.27 686.06,501.86 686.06,509.27 667.01,499.74 650.08,492.33 635.26,485.98 624.67,479.63" fill="#fcfcfe"/>
<polyline points="643.73,459.52 649.02,467.99 650.08,471.16 648.38,484.92" fill="none" stroke="#fcfcfe" stroke-width="2.2" stroke-linejoin="round" stroke-linecap="round"/>
<polyline points="650.08,471.16 663.84,464.81 675.48,454.23 686.06,448.51" fill="none" stroke="#fcfcfe" stroke-width="2.0" stroke-linejoin="round" stroke-linecap="round"/>
<polyline points="660.66,435.18 671.24,442.16 686.06,445.12" fill="none" stroke="#fcfcfe" stroke-width="1.2" stroke-linejoin="round" stroke-linecap="round"/>
<polyline points="609.86,435.18 613.03,446.82 611.55,459.52" fill="none" stroke="#fcfcfe" stroke-width="1.6" stroke-linejoin="round" stroke-linecap="round"/>
<polyline points="628.91,435.18 633.14,446.82 643.73,459.52" fill="none" stroke="#fcfcfe" stroke-width="1.4" stroke-linejoin="round" stroke-linecap="round"/>
<polyline points="650.08,499.74 658.54,506.09 667.01,512.02" fill="none" stroke="#fcfcfe" stroke-width="2.0" stroke-linejoin="round" stroke-linecap="round"/>
<polyline points="624.67,495.51 631.02,503.97 633.14,512.02" fill="none" stroke="#fcfcfe" stroke-width="1.4" stroke-linejoin="round" stroke-linecap="round"/>
<polyline points="675.48,474.34 686.06,477.51" fill="none" stroke="#fcfcfe" stroke-width="1.6" stroke-linejoin="round" stroke-linecap="round"/>
</g>
<ellipse cx="618.95" cy="467.35" rx="0.49" ry="0.49" transform="rotate(0 618.95 467.35)" fill="#7a3b22" opacity="0.85"/>
<ellipse cx="613.21" cy="477.57" rx="0.49" ry="0.49" transform="rotate(0 613.21 477.57)" fill="#7a3b22" opacity="0.85"/>
<ellipse cx="612.31" cy="470.06" rx="0.49" ry="0.49" transform="rotate(0 612.31 470.06)" fill="#a0603a" opacity="0.85"/>
<ellipse cx="615.15" cy="467.70" rx="0.49" ry="0.49" transform="rotate(0 615.15 467.70)" fill="#7a3b22" opacity="0.85"/>
<ellipse cx="606.62" cy="466.71" rx="0.49" ry="0.49" transform="rotate(0 606.62 466.71)" fill="#94512f" opacity="0.85"/>
<ellipse cx="613.42" cy="469.46" rx="0.49" ry="0.49" transform="rotate(0 613.42 469.46)" fill="#7a3b22" opacity="0.85"/>
<ellipse cx="612.91" cy="467.59" rx="0.49" ry="0.49" transform="rotate(0 612.91 467.59)" fill="#6a2e1a" opacity="0.85"/>
<ellipse cx="608.56" cy="469.59" rx="0.49" ry="0.49" transform="rotate(0 608.56 469.59)" fill="#a0603a" opacity="0.85"/>
<ellipse cx="613.95" cy="468.87" rx="0.49" ry="0.49" transform="rotate(0 613.95 468.87)" fill="#94512f" opacity="0.85"/>
<ellipse cx="616.11" cy="461.44" rx="0.49" ry="0.49" transform="rotate(0 616.11 461.44)" fill="#94512f" opacity="0.85"/>
<ellipse cx="615.64" cy="465.46" rx="0.49" ry="0.49" transform="rotate(0 615.64 465.46)" fill="#7a3b22" opacity="0.85"/>
<ellipse cx="621.76" cy="465.99" rx="0.49" ry="0.49" transform="rotate(0 621.76 465.99)" fill="#94512f" opacity="0.85"/>
<ellipse cx="622.19" cy="469.27" rx="0.49" ry="0.49" transform="rotate(0 622.19 469.27)" fill="#7a3b22" opacity="0.85"/>
<ellipse cx="620.12" cy="475.45" rx="0.49" ry="0.49" transform="rotate(0 620.12 475.45)" fill="#6a2e1a" opacity="0.85"/>
<ellipse cx="603.82" cy="468.18" rx="0.49" ry="0.49" transform="rotate(0 603.82 468.18)" fill="#94512f" opacity="0.85"/>
<ellipse cx="604.62" cy="452.28" rx="0.49" ry="0.49" transform="rotate(0 604.62 452.28)" fill="#a0603a" opacity="0.85"/>
<ellipse cx="610.37" cy="457.62" rx="0.49" ry="0.49" transform="rotate(0 610.37 457.62)" fill="#7a3b22" opacity="0.85"/>
<ellipse cx="614.85" cy="467.72" rx="0.49" ry="0.49" transform="rotate(0 614.85 467.72)" fill="#a0603a" opacity="0.85"/>
<ellipse cx="617.69" cy="474.91" rx="0.49" ry="0.49" transform="rotate(0 617.69 474.91)" fill="#7a3b22" opacity="0.85"/>
<ellipse cx="623.21" cy="454.35" rx="0.49" ry="0.49" transform="rotate(0 623.21 454.35)" fill="#6a2e1a" opacity="0.85"/>
<ellipse cx="621.36" cy="467.76" rx="0.49" ry="0.49" transform="rotate(0 621.36 467.76)" fill="#6a2e1a" opacity="0.85"/>
<ellipse cx="610.96" cy="465.91" rx="0.49" ry="0.49" transform="rotate(0 610.96 465.91)" fill="#7a3b22" opacity="0.85"/>
<ellipse cx="617.35" cy="466.78" rx="0.49" ry="0.49" transform="rotate(0 617.35 466.78)" fill="#a0603a" opacity="0.85"/>
<ellipse cx="610.66" cy="462.60" rx="0.49" ry="0.49" transform="rotate(0 610.66 462.60)" fill="#7a3b22" opacity="0.85"/>
<ellipse cx="615.99" cy="465.81" rx="0.49" ry="0.49" transform="rotate(0 615.99 465.81)" fill="#7a3b22" opacity="0.85"/>
<ellipse cx="607.13" cy="468.18" rx="0.49" ry="0.49" transform="rotate(0 607.13 468.18)" fill="#7a3b22" opacity="0.85"/>
<ellipse cx="625.74" cy="470.15" rx="0.49" ry="0.49" transform="rotate(0 625.74 470.15)" fill="#94512f" opacity="0.85"/>
<ellipse cx="612.14" cy="467.70" rx="0.49" ry="0.49" transform="rotate(0 612.14 467.70)" fill="#94512f" opacity="0.85"/>
<ellipse cx="618.37" cy="466.69" rx="0.49" ry="0.49" transform="rotate(0 618.37 466.69)" fill="#6a2e1a" opacity="0.85"/>
<ellipse cx="614.98" cy="467.09" rx="0.49" ry="0.49" transform="rotate(0 614.98 467.09)" fill="#6a2e1a" opacity="0.85"/>
<ellipse cx="625.20" cy="450.45" rx="0.49" ry="0.49" transform="rotate(0 625.20 450.45)" fill="#94512f" opacity="0.85"/>
<ellipse cx="615.03" cy="465.96" rx="0.49" ry="0.49" transform="rotate(0 615.03 465.96)" fill="#94512f" opacity="0.85"/>
<ellipse cx="620.39" cy="473.16" rx="0.49" ry="0.49" transform="rotate(0 620.39 473.16)" fill="#6a2e1a" opacity="0.85"/>
<ellipse cx="617.52" cy="467.41" rx="0.49" ry="0.49" transform="rotate(0 617.52 467.41)" fill="#6a2e1a" opacity="0.85"/>
<ellipse cx="616.09" cy="470.38" rx="0.49" ry="0.49" transform="rotate(0 616.09 470.38)" fill="#a0603a" opacity="0.85"/>
<ellipse cx="627.87" cy="471.64" rx="0.49" ry="0.49" transform="rotate(0 627.87 471.64)" fill="#7a3b22" opacity="0.85"/>
<ellipse cx="630.35" cy="468.14" rx="0.49" ry="0.49" transform="rotate(0 630.35 468.14)" fill="#6a2e1a" opacity="0.85"/>
<ellipse cx="614.44" cy="466.06" rx="0.49" ry="0.49" transform="rotate(0 614.44 466.06)" fill="#6a2e1a" opacity="0.85"/>
<ellipse cx="617.83" cy="464.85" rx="0.49" ry="0.49" transform="rotate(0 617.83 464.85)" fill="#7a3b22" opacity="0.85"/>
<ellipse cx="618.52" cy="464.76" rx="0.49" ry="0.49" transform="rotate(0 618.52 464.76)" fill="#6a2e1a" opacity="0.85"/>
<ellipse cx="613.46" cy="468.70" rx="0.49" ry="0.49" transform="rotate(0 613.46 468.70)" fill="#a0603a" opacity="0.85"/>
<ellipse cx="613.75" cy="473.93" rx="0.49" ry="0.49" transform="rotate(0 613.75 473.93)" fill="#a0603a" opacity="0.85"/>
<ellipse cx="614.82" cy="464.69" rx="0.49" ry="0.49" transform="rotate(0 614.82 464.69)" fill="#a0603a" opacity="0.85"/>
<ellipse cx="616.10" cy="463.67" rx="0.49" ry="0.49" transform="rotate(0 616.10 463.67)" fill="#7a3b22" opacity="0.85"/>
<ellipse cx="613.11" cy="463.90" rx="0.49" ry="0.49" transform="rotate(0 613.11 463.90)" fill="#a0603a" opacity="0.85"/>
<ellipse cx="618.43" cy="464.94" rx="0.49" ry="0.49" transform="rotate(0 618.43 464.94)" fill="#94512f" opacity="0.85"/>
<ellipse cx="603.60" cy="465.91" rx="0.49" ry="0.49" transform="rotate(0 603.60 465.91)" fill="#a0603a" opacity="0.85"/>
<ellipse cx="616.41" cy="466.24" rx="0.49" ry="0.49" transform="rotate(0 616.41 466.24)" fill="#94512f" opacity="0.85"/>
<ellipse cx="616.65" cy="465.89" rx="0.49" ry="0.49" transform="rotate(0 616.65 465.89)" fill="#6a2e1a" opacity="0.85"/>
<ellipse cx="606.63" cy="479.50" rx="0.49" ry="0.49" transform="rotate(0 606.63 479.50)" fill="#94512f" opacity="0.85"/>
<ellipse cx="620.94" cy="476.36" rx="0.49" ry="0.49" transform="rotate(0 620.94 476.36)" fill="#a0603a" opacity="0.85"/>
<ellipse cx="614.63" cy="482.89" rx="0.49" ry="0.49" transform="rotate(0 614.63 482.89)" fill="#6a2e1a" opacity="0.85"/>
<ellipse cx="614.22" cy="465.94" rx="0.49" ry="0.49" transform="rotate(0 614.22 465.94)" fill="#a0603a" opacity="0.85"/>
<ellipse cx="609.74" cy="462.07" rx="0.49" ry="0.49" transform="rotate(0 609.74 462.07)" fill="#7a3b22" opacity="0.85"/>
<ellipse cx="609.84" cy="463.10" rx="0.49" ry="0.49" transform="rotate(0 609.84 463.10)" fill="#7a3b22" opacity="0.85"/>
<ellipse cx="628.72" cy="468.21" rx="0.49" ry="0.49" transform="rotate(0 628.72 468.21)" fill="#94512f" opacity="0.85"/>
<ellipse cx="609.69" cy="471.34" rx="0.49" ry="0.49" transform="rotate(0 609.69 471.34)" fill="#a0603a" opacity="0.85"/>
<ellipse cx="626.07" cy="472.53" rx="0.49" ry="0.49" transform="rotate(0 626.07 472.53)" fill="#94512f" opacity="0.85"/>
<ellipse cx="615.83" cy="466.47" rx="0.49" ry="0.49" transform="rotate(0 615.83 466.47)" fill="#a0603a" opacity="0.85"/>
<ellipse cx="615.89" cy="467.01" rx="0.49" ry="0.49" transform="rotate(0 615.89 467.01)" fill="#7a3b22" opacity="0.85"/>
<ellipse cx="606.54" cy="481.09" rx="0.47" ry="0.47" transform="rotate(0 606.54 481.09)" fill="#a0603a" opacity="0.85"/>
<ellipse cx="596.30" cy="481.07" rx="0.47" ry="0.47" transform="rotate(0 596.30 481.07)" fill="#94512f" opacity="0.85"/>
<ellipse cx="608.35" cy="486.56" rx="0.47" ry="0.47" transform="rotate(0 608.35 486.56)" fill="#a0603a" opacity="0.85"/>
<ellipse cx="605.04" cy="478.10" rx="0.47" ry="0.47" transform="rotate(0 605.04 478.10)" fill="#94512f" opacity="0.85"/>
<ellipse cx="598.79" cy="481.59" rx="0.47" ry="0.47" transform="rotate(0 598.79 481.59)" fill="#7a3b22" opacity="0.85"/>
<ellipse cx="599.93" cy="481.93" rx="0.47" ry="0.47" transform="rotate(0 599.93 481.93)" fill="#6a2e1a" opacity="0.85"/>
<ellipse cx="600.47" cy="482.17" rx="0.47" ry="0.47" transform="rotate(0 600.47 482.17)" fill="#7a3b22" opacity="0.85"/>
<ellipse cx="599.00" cy="483.26" rx="0.47" ry="0.47" transform="rotate(0 599.00 483.26)" fill="#94512f" opacity="0.85"/>
<ellipse cx="597.61" cy="483.74" rx="0.47" ry="0.47" transform="rotate(0 597.61 483.74)" fill="#a0603a" opacity="0.85"/>
<ellipse cx="602.66" cy="481.77" rx="0.47" ry="0.47" transform="rotate(0 602.66 481.77)" fill="#6a2e1a" opacity="0.85"/>
<ellipse cx="599.94" cy="483.52" rx="0.47" ry="0.47" transform="rotate(0 599.94 483.52)" fill="#7a3b22" opacity="0.85"/>
<ellipse cx="601.20" cy="479.74" rx="0.47" ry="0.47" transform="rotate(0 601.20 479.74)" fill="#7a3b22" opacity="0.85"/>
<ellipse cx="604.54" cy="482.33" rx="0.47" ry="0.47" transform="rotate(0 604.54 482.33)" fill="#a0603a" opacity="0.85"/>
<ellipse cx="604.75" cy="486.65" rx="0.47" ry="0.47" transform="rotate(0 604.75 486.65)" fill="#a0603a" opacity="0.85"/>
<ellipse cx="603.28" cy="482.92" rx="0.47" ry="0.47" transform="rotate(0 603.28 482.92)" fill="#7a3b22" opacity="0.85"/>
<ellipse cx="600.19" cy="480.64" rx="0.47" ry="0.47" transform="rotate(0 600.19 480.64)" fill="#6a2e1a" opacity="0.85"/>
<ellipse cx="603.95" cy="485.13" rx="0.47" ry="0.47" transform="rotate(0 603.95 485.13)" fill="#a0603a" opacity="0.85"/>
<ellipse cx="601.49" cy="484.77" rx="0.47" ry="0.47" transform="rotate(0 601.49 484.77)" fill="#a0603a" opacity="0.85"/>
<ellipse cx="602.21" cy="484.18" rx="0.47" ry="0.47" transform="rotate(0 602.21 484.18)" fill="#7a3b22" opacity="0.85"/>
<ellipse cx="599.53" cy="479.78" rx="0.47" ry="0.47" transform="rotate(0 599.53 479.78)" fill="#a0603a" opacity="0.85"/>
<ellipse cx="603.26" cy="482.99" rx="0.47" ry="0.47" transform="rotate(0 603.26 482.99)" fill="#94512f" opacity="0.85"/>
<ellipse cx="602.14" cy="484.35" rx="0.47" ry="0.47" transform="rotate(0 602.14 484.35)" fill="#6a2e1a" opacity="0.85"/>
<ellipse cx="595.79" cy="481.66" rx="0.47" ry="0.47" transform="rotate(0 595.79 481.66)" fill="#a0603a" opacity="0.85"/>
<ellipse cx="603.93" cy="482.81" rx="0.47" ry="0.47" transform="rotate(0 603.93 482.81)" fill="#6a2e1a" opacity="0.85"/>
<ellipse cx="595.13" cy="481.50" rx="0.47" ry="0.47" transform="rotate(0 595.13 481.50)" fill="#a0603a" opacity="0.85"/>
<ellipse cx="600.52" cy="486.06" rx="0.47" ry="0.47" transform="rotate(0 600.52 486.06)" fill="#7a3b22" opacity="0.85"/>
<ellipse cx="587.88" cy="451.75" rx="0.34" ry="0.34" transform="rotate(0 587.88 451.75)" fill="#94512f" opacity="0.6"/>
<ellipse cx="628.08" cy="501.83" rx="0.34" ry="0.34" transform="rotate(0 628.08 501.83)" fill="#94512f" opacity="0.6"/>
<ellipse cx="586.54" cy="444.85" rx="0.34" ry="0.34" transform="rotate(0 586.54 444.85)" fill="#94512f" opacity="0.6"/>
<ellipse cx="600.79" cy="450.84" rx="0.34" ry="0.34" transform="rotate(0 600.79 450.84)" fill="#94512f" opacity="0.6"/>
<ellipse cx="624.32" cy="444.40" rx="0.34" ry="0.34" transform="rotate(0 624.32 444.40)" fill="#94512f" opacity="0.6"/>
<ellipse cx="586.50" cy="506.14" rx="0.34" ry="0.34" transform="rotate(0 586.50 506.14)" fill="#94512f" opacity="0.6"/>
<ellipse cx="587.63" cy="493.42" rx="0.34" ry="0.34" transform="rotate(0 587.63 493.42)" fill="#94512f" opacity="0.6"/>
<ellipse cx="615.75" cy="449.79" rx="0.34" ry="0.34" transform="rotate(0 615.75 449.79)" fill="#94512f" opacity="0.6"/>
<ellipse cx="630.71" cy="450.71" rx="0.34" ry="0.34" transform="rotate(0 630.71 450.71)" fill="#94512f" opacity="0.6"/>
<ellipse cx="621.28" cy="487.37" rx="0.34" ry="0.34" transform="rotate(0 621.28 487.37)" fill="#94512f" opacity="0.6"/>
<ellipse cx="584.99" cy="472.34" rx="0.34" ry="0.34" transform="rotate(0 584.99 472.34)" fill="#94512f" opacity="0.6"/>
<ellipse cx="594.32" cy="446.59" rx="0.34" ry="0.34" transform="rotate(0 594.32 446.59)" fill="#94512f" opacity="0.6"/>
<ellipse cx="627.27" cy="485.19" rx="0.34" ry="0.34" transform="rotate(0 627.27 485.19)" fill="#94512f" opacity="0.6"/>
<ellipse cx="608.40" cy="503.57" rx="0.34" ry="0.34" transform="rotate(0 608.40 503.57)" fill="#94512f" opacity="0.6"/>
<ellipse cx="602.25" cy="494.09" rx="0.34" ry="0.34" transform="rotate(0 602.25 494.09)" fill="#94512f" opacity="0.6"/>
<ellipse cx="603.07" cy="462.99" rx="0.34" ry="0.34" transform="rotate(0 603.07 462.99)" fill="#94512f" opacity="0.6"/>
<ellipse cx="627.69" cy="474.78" rx="0.34" ry="0.34" transform="rotate(0 627.69 474.78)" fill="#94512f" opacity="0.6"/>
<ellipse cx="632.66" cy="474.46" rx="0.34" ry="0.34" transform="rotate(0 632.66 474.46)" fill="#94512f" opacity="0.6"/>
<ellipse cx="583.40" cy="507.58" rx="0.34" ry="0.34" transform="rotate(0 583.40 507.58)" fill="#94512f" opacity="0.6"/>
<ellipse cx="594.55" cy="461.02" rx="0.34" ry="0.34" transform="rotate(0 594.55 461.02)" fill="#94512f" opacity="0.6"/>
<ellipse cx="599.07" cy="457.91" rx="0.34" ry="0.34" transform="rotate(0 599.07 457.91)" fill="#94512f" opacity="0.6"/>
<ellipse cx="633.84" cy="460.37" rx="0.34" ry="0.34" transform="rotate(0 633.84 460.37)" fill="#94512f" opacity="0.6"/>
<ellipse cx="598.52" cy="478.86" rx="0.34" ry="0.34" transform="rotate(0 598.52 478.86)" fill="#94512f" opacity="0.6"/>
<ellipse cx="602.35" cy="459.80" rx="0.34" ry="0.34" transform="rotate(0 602.35 459.80)" fill="#94512f" opacity="0.6"/>
<ellipse cx="622.06" cy="492.94" rx="0.34" ry="0.34" transform="rotate(0 622.06 492.94)" fill="#94512f" opacity="0.6"/>
<ellipse cx="597.31" cy="468.56" rx="0.34" ry="0.34" transform="rotate(0 597.31 468.56)" fill="#94512f" opacity="0.6"/>
<ellipse cx="612.69" cy="502.28" rx="0.34" ry="0.34" transform="rotate(0 612.69 502.28)" fill="#94512f" opacity="0.6"/>
<ellipse cx="632.46" cy="502.71" rx="0.34" ry="0.34" transform="rotate(0 632.46 502.71)" fill="#94512f" opacity="0.6"/>
<ellipse cx="583.52" cy="442.92" rx="0.34" ry="0.34" transform="rotate(0 583.52 442.92)" fill="#94512f" opacity="0.6"/>
<ellipse cx="609.99" cy="483.98" rx="0.34" ry="0.34" transform="rotate(0 609.99 483.98)" fill="#94512f" opacity="0.6"/>
<ellipse cx="584.96" cy="443.87" rx="0.34" ry="0.34" transform="rotate(0 584.96 443.87)" fill="#94512f" opacity="0.6"/>
<ellipse cx="632.31" cy="443.44" rx="0.34" ry="0.34" transform="rotate(0 632.31 443.44)" fill="#94512f" opacity="0.6"/>
<ellipse cx="604.65" cy="461.02" rx="0.34" ry="0.34" transform="rotate(0 604.65 461.02)" fill="#94512f" opacity="0.6"/>
<ellipse cx="615.65" cy="447.43" rx="0.34" ry="0.34" transform="rotate(0 615.65 447.43)" fill="#94512f" opacity="0.6"/>
<ellipse cx="606.80" cy="475.74" rx="0.34" ry="0.34" transform="rotate(0 606.80 475.74)" fill="#94512f" opacity="0.6"/>
<ellipse cx="601.01" cy="464.67" rx="0.34" ry="0.34" transform="rotate(0 601.01 464.67)" fill="#94512f" opacity="0.6"/>
<ellipse cx="615.96" cy="480.26" rx="0.34" ry="0.34" transform="rotate(0 615.96 480.26)" fill="#94512f" opacity="0.6"/>
<ellipse cx="604.63" cy="485.39" rx="0.34" ry="0.34" transform="rotate(0 604.63 485.39)" fill="#94512f" opacity="0.6"/>
<ellipse cx="588.20" cy="459.73" rx="0.34" ry="0.34" transform="rotate(0 588.20 459.73)" fill="#94512f" opacity="0.6"/>
<ellipse cx="613.14" cy="461.31" rx="0.34" ry="0.34" transform="rotate(0 613.14 461.31)" fill="#94512f" opacity="0.6"/>
<ellipse cx="592.19" cy="498.33" rx="0.34" ry="0.34" transform="rotate(0 592.19 498.33)" fill="#94512f" opacity="0.6"/>
<ellipse cx="633.80" cy="447.80" rx="0.34" ry="0.34" transform="rotate(0 633.80 447.80)" fill="#94512f" opacity="0.6"/>
<ellipse cx="582.86" cy="438.56" rx="0.34" ry="0.34" transform="rotate(0 582.86 438.56)" fill="#94512f" opacity="0.6"/>
<ellipse cx="611.33" cy="453.77" rx="0.34" ry="0.34" transform="rotate(0 611.33 453.77)" fill="#94512f" opacity="0.6"/>
<ellipse cx="582.25" cy="447.56" rx="0.34" ry="0.34" transform="rotate(0 582.25 447.56)" fill="#94512f" opacity="0.6"/>
<ellipse cx="627.46" cy="494.57" rx="0.34" ry="0.34" transform="rotate(0 627.46 494.57)" fill="#94512f" opacity="0.6"/>
<ellipse cx="596.68" cy="488.94" rx="0.34" ry="0.34" transform="rotate(0 596.68 488.94)" fill="#94512f" opacity="0.6"/>
<ellipse cx="589.87" cy="503.50" rx="0.34" ry="0.34" transform="rotate(0 589.87 503.50)" fill="#94512f" opacity="0.6"/>
<ellipse cx="621.26" cy="494.36" rx="0.34" ry="0.34" transform="rotate(0 621.26 494.36)" fill="#94512f" opacity="0.6"/>
<ellipse cx="613.06" cy="461.87" rx="0.34" ry="0.34" transform="rotate(0 613.06 461.87)" fill="#94512f" opacity="0.6"/>
<ellipse cx="580.22" cy="463.84" rx="0.34" ry="0.34" transform="rotate(0 580.22 463.84)" fill="#94512f" opacity="0.6"/>
<ellipse cx="599.71" cy="443.81" rx="0.34" ry="0.34" transform="rotate(0 599.71 443.81)" fill="#94512f" opacity="0.6"/>
<ellipse cx="590.19" cy="468.71" rx="0.34" ry="0.34" transform="rotate(0 590.19 468.71)" fill="#94512f" opacity="0.6"/>
<ellipse cx="586.04" cy="477.36" rx="0.34" ry="0.34" transform="rotate(0 586.04 477.36)" fill="#94512f" opacity="0.6"/>
<ellipse cx="629.96" cy="461.89" rx="0.34" ry="0.34" transform="rotate(0 629.96 461.89)" fill="#94512f" opacity="0.6"/>
<ellipse cx="600.99" cy="467.80" rx="0.34" ry="0.34" transform="rotate(0 600.99 467.80)" fill="#94512f" opacity="0.6"/>
<ellipse cx="621.94" cy="458.42" rx="0.34" ry="0.34" transform="rotate(0 621.94 458.42)" fill="#94512f" opacity="0.6"/>
<ellipse cx="622.51" cy="501.16" rx="0.34" ry="0.34" transform="rotate(0 622.51 501.16)" fill="#94512f" opacity="0.6"/>
<ellipse cx="606.28" cy="465.01" rx="0.34" ry="0.34" transform="rotate(0 606.28 465.01)" fill="#94512f" opacity="0.6"/>
<ellipse cx="625.66" cy="472.92" rx="0.34" ry="0.34" transform="rotate(0 625.66 472.92)" fill="#94512f" opacity="0.6"/>
<ellipse cx="614.85" cy="496.53" rx="0.34" ry="0.34" transform="rotate(0 614.85 496.53)" fill="#94512f" opacity="0.6"/>
<ellipse cx="620.02" cy="451.12" rx="0.34" ry="0.34" transform="rotate(0 620.02 451.12)" fill="#94512f" opacity="0.6"/>
<ellipse cx="618.02" cy="460.32" rx="0.34" ry="0.34" transform="rotate(0 618.02 460.32)" fill="#94512f" opacity="0.6"/>
<ellipse cx="581.58" cy="472.72" rx="0.34" ry="0.34" transform="rotate(0 581.58 472.72)" fill="#94512f" opacity="0.6"/>
<ellipse cx="591.52" cy="463.60" rx="0.34" ry="0.34" transform="rotate(0 591.52 463.60)" fill="#94512f" opacity="0.6"/>
<ellipse cx="588.26" cy="466.22" rx="0.34" ry="0.34" transform="rotate(0 588.26 466.22)" fill="#94512f" opacity="0.6"/>
<ellipse cx="603.29" cy="442.86" rx="0.34" ry="0.34" transform="rotate(0 603.29 442.86)" fill="#94512f" opacity="0.6"/>
<ellipse cx="599.01" cy="507.51" rx="0.34" ry="0.34" transform="rotate(0 599.01 507.51)" fill="#94512f" opacity="0.6"/>
<ellipse cx="638.81" cy="453.98" rx="0.34" ry="0.34" transform="rotate(0 638.81 453.98)" fill="#94512f" opacity="0.6"/>
<ellipse cx="603.19" cy="464.25" rx="0.34" ry="0.34" transform="rotate(0 603.19 464.25)" fill="#94512f" opacity="0.6"/>
<circle cx="609.86" cy="465.45" r="3.39" fill="none" stroke="#7a3b22" stroke-width="0.8" opacity="0.8"/>
<circle cx="620.44" cy="468.41" r="3.81" fill="none" stroke="#7a3b22" stroke-width="0.8" opacity="0.8"/>
</g>
<rect x="549.6" y="505.0" width="16.4" height="2.2" fill="#000"/>
<text transform="translate(548.9 502.0)" font-size="8.7" text-anchor="start" fill="#2d2d2d">200 &#181;m</text>
</svg>
</body></html>
